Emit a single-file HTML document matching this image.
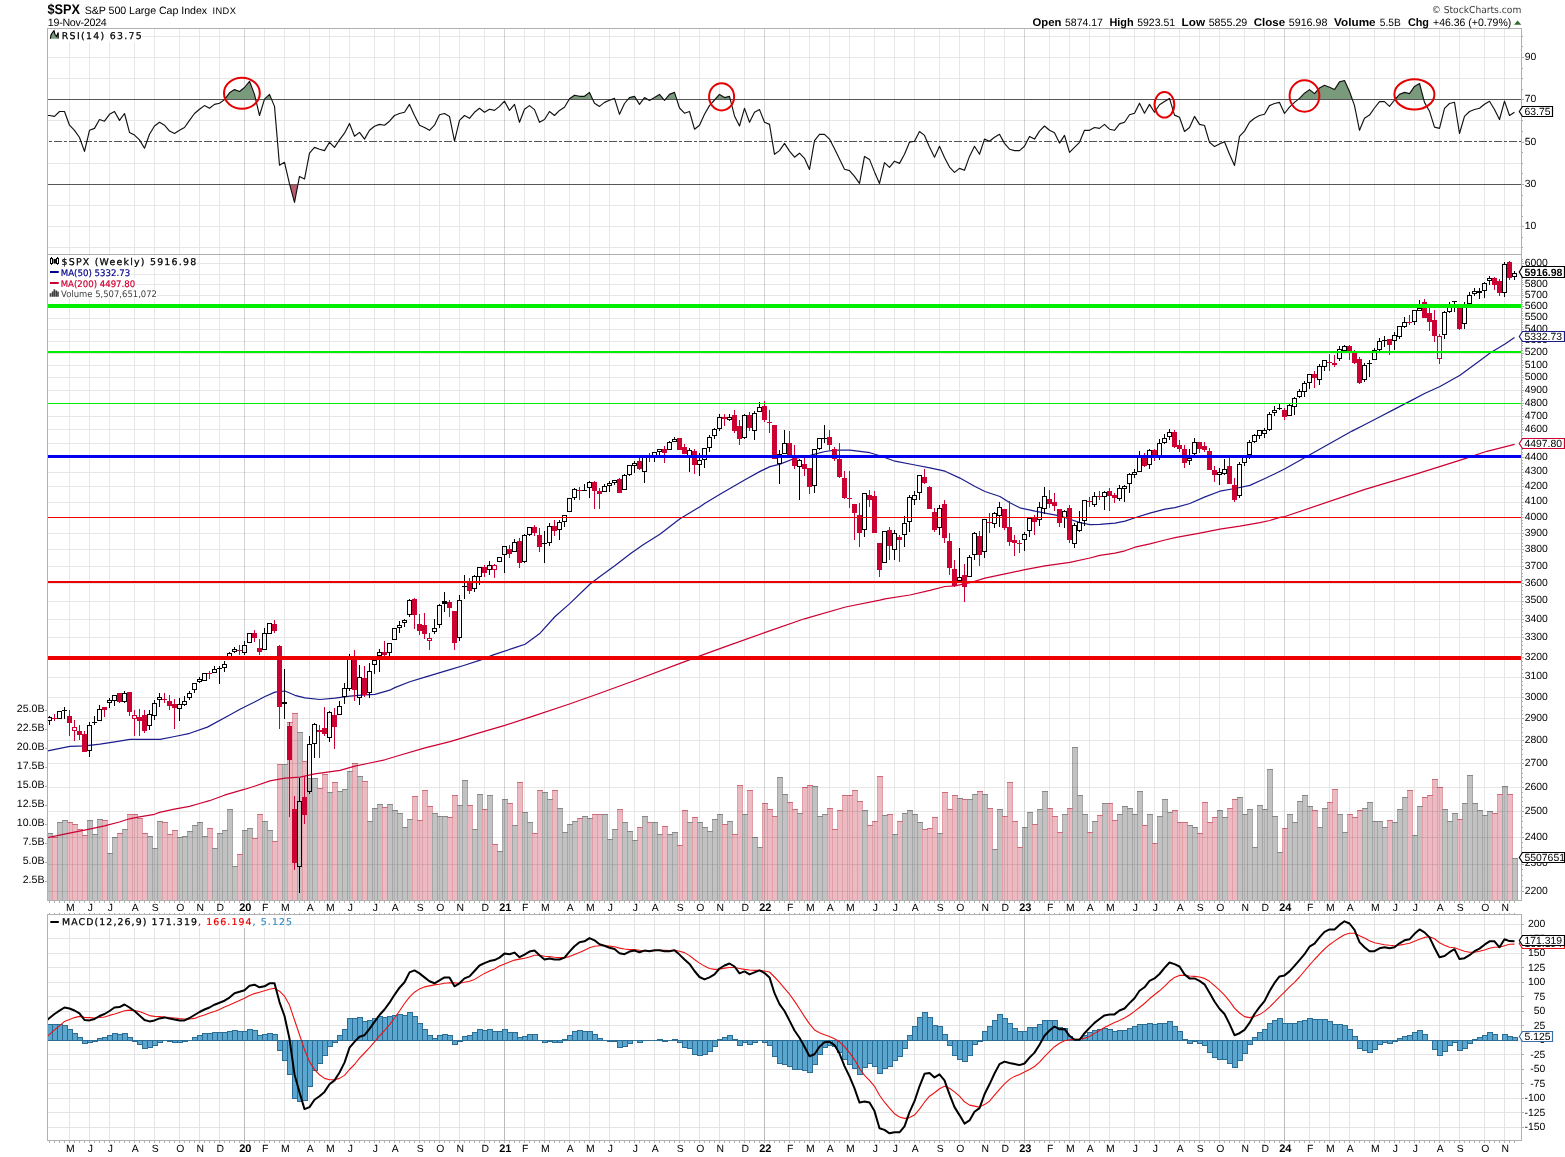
<!DOCTYPE html>
<html><head><meta charset="utf-8"><title>$SPX S&amp;P 500 Large Cap Index</title>
<style>html,body{margin:0;padding:0;background:#fff}svg{display:block}text{white-space:pre}</style></head>
<body><svg width="1565" height="1157" viewBox="0 0 1565 1157" shape-rendering="crispEdges" text-rendering="geometricPrecision">
<g shape-rendering="crispEdges">
<rect x="0" y="0" width="1565" height="1157" fill="#fff"/>
<path d="M47.5 1127.5H1521.5 M47.5 1112.5H1521.5 M47.5 1098.5H1521.5 M47.5 1083.5H1521.5 M47.5 1069.5H1521.5 M47.5 1054.5H1521.5 M47.5 1040.5H1521.5 M47.5 1025.5H1521.5 M47.5 1011.5H1521.5 M47.5 996.5H1521.5 M47.5 982.5H1521.5 M47.5 967.5H1521.5 M47.5 953.5H1521.5 M47.5 938.5H1521.5 M47.5 924.5H1521.5 M69.5 914.5V1140.5 M89.5 914.5V1140.5 M109.5 914.5V1140.5 M134.5 914.5V1140.5 M154.5 914.5V1140.5 M179.5 914.5V1140.5 M199.5 914.5V1140.5 M219.5 914.5V1140.5 M244.5 914.5V1140.5 M264.5 914.5V1140.5 M284.5 914.5V1140.5 M309.5 914.5V1140.5 M329.5 914.5V1140.5 M349.5 914.5V1140.5 M374.5 914.5V1140.5 M394.5 914.5V1140.5 M419.5 914.5V1140.5 M439.5 914.5V1140.5 M459.5 914.5V1140.5 M484.5 914.5V1140.5 M504.5 914.5V1140.5 M524.5 914.5V1140.5 M544.5 914.5V1140.5 M569.5 914.5V1140.5 M589.5 914.5V1140.5 M609.5 914.5V1140.5 M634.5 914.5V1140.5 M654.5 914.5V1140.5 M679.5 914.5V1140.5 M699.5 914.5V1140.5 M719.5 914.5V1140.5 M744.5 914.5V1140.5 M764.5 914.5V1140.5 M789.5 914.5V1140.5 M809.5 914.5V1140.5 M829.5 914.5V1140.5 M849.5 914.5V1140.5 M874.5 914.5V1140.5 M894.5 914.5V1140.5 M914.5 914.5V1140.5 M939.5 914.5V1140.5 M959.5 914.5V1140.5 M984.5 914.5V1140.5 M1004.5 914.5V1140.5 M1024.5 914.5V1140.5 M1049.5 914.5V1140.5 M1069.5 914.5V1140.5 M1089.5 914.5V1140.5 M1109.5 914.5V1140.5 M1134.5 914.5V1140.5 M1154.5 914.5V1140.5 M1179.5 914.5V1140.5 M1199.5 914.5V1140.5 M1219.5 914.5V1140.5 M1244.5 914.5V1140.5 M1264.5 914.5V1140.5 M1284.5 914.5V1140.5 M1309.5 914.5V1140.5 M1329.5 914.5V1140.5 M1349.5 914.5V1140.5 M1374.5 914.5V1140.5 M1394.5 914.5V1140.5 M1414.5 914.5V1140.5 M1439.5 914.5V1140.5 M1459.5 914.5V1140.5 M1484.5 914.5V1140.5 M1504.5 914.5V1140.5" stroke="#000" stroke-opacity="0.105" stroke-width="1" fill="none"/>
<path d="M244.5 914.5V1140.5 M504.5 914.5V1140.5 M764.5 914.5V1140.5 M1024.5 914.5V1140.5 M1284.5 914.5V1140.5" stroke="#000" stroke-opacity="0.18" stroke-width="1" fill="none"/>
<rect x="47.5" y="833.5" width="5" height="67" fill="#c2c2c2" stroke="#a6a6a6" stroke-width="1"/>
<rect x="52.5" y="837.5" width="5" height="63" fill="#ecbac3" stroke="#e0a0a6" stroke-width="1"/>
<rect x="57.5" y="822.5" width="5" height="78" fill="#c2c2c2" stroke="#a6a6a6" stroke-width="1"/>
<rect x="62.5" y="820.5" width="5" height="80" fill="#c2c2c2" stroke="#a6a6a6" stroke-width="1"/>
<rect x="67.5" y="822.5" width="5" height="78" fill="#ecbac3" stroke="#e0a0a6" stroke-width="1"/>
<rect x="72.5" y="824.5" width="5" height="76" fill="#ecbac3" stroke="#e0a0a6" stroke-width="1"/>
<rect x="77.5" y="829.5" width="5" height="71" fill="#ecbac3" stroke="#e0a0a6" stroke-width="1"/>
<rect x="82.5" y="835.5" width="5" height="65" fill="#ecbac3" stroke="#e0a0a6" stroke-width="1"/>
<rect x="87.5" y="820.5" width="5" height="80" fill="#c2c2c2" stroke="#a6a6a6" stroke-width="1"/>
<rect x="92.5" y="834.5" width="5" height="66" fill="#c2c2c2" stroke="#a6a6a6" stroke-width="1"/>
<rect x="97.5" y="819.5" width="5" height="81" fill="#c2c2c2" stroke="#a6a6a6" stroke-width="1"/>
<rect x="102.5" y="820.5" width="5" height="80" fill="#ecbac3" stroke="#e0a0a6" stroke-width="1"/>
<rect x="107.5" y="853.5" width="5" height="47" fill="#c2c2c2" stroke="#a6a6a6" stroke-width="1"/>
<rect x="112.5" y="837.5" width="5" height="63" fill="#c2c2c2" stroke="#a6a6a6" stroke-width="1"/>
<rect x="117.5" y="833.5" width="5" height="67" fill="#ecbac3" stroke="#e0a0a6" stroke-width="1"/>
<rect x="122.5" y="829.5" width="5" height="71" fill="#c2c2c2" stroke="#a6a6a6" stroke-width="1"/>
<rect x="127.5" y="814.5" width="5" height="86" fill="#ecbac3" stroke="#e0a0a6" stroke-width="1"/>
<rect x="132.5" y="814.5" width="5" height="86" fill="#ecbac3" stroke="#e0a0a6" stroke-width="1"/>
<rect x="137.5" y="818.5" width="5" height="82" fill="#ecbac3" stroke="#e0a0a6" stroke-width="1"/>
<rect x="142.5" y="833.5" width="5" height="67" fill="#ecbac3" stroke="#e0a0a6" stroke-width="1"/>
<rect x="147.5" y="836.5" width="5" height="64" fill="#c2c2c2" stroke="#a6a6a6" stroke-width="1"/>
<rect x="152.5" y="848.5" width="5" height="52" fill="#c2c2c2" stroke="#a6a6a6" stroke-width="1"/>
<rect x="157.5" y="821.5" width="5" height="79" fill="#c2c2c2" stroke="#a6a6a6" stroke-width="1"/>
<rect x="162.5" y="822.5" width="5" height="78" fill="#ecbac3" stroke="#e0a0a6" stroke-width="1"/>
<rect x="167.5" y="834.5" width="5" height="66" fill="#ecbac3" stroke="#e0a0a6" stroke-width="1"/>
<rect x="172.5" y="830.5" width="5" height="70" fill="#ecbac3" stroke="#e0a0a6" stroke-width="1"/>
<rect x="177.5" y="837.5" width="5" height="63" fill="#c2c2c2" stroke="#a6a6a6" stroke-width="1"/>
<rect x="182.5" y="836.5" width="5" height="64" fill="#c2c2c2" stroke="#a6a6a6" stroke-width="1"/>
<rect x="187.5" y="831.5" width="5" height="69" fill="#c2c2c2" stroke="#a6a6a6" stroke-width="1"/>
<rect x="192.5" y="825.5" width="5" height="75" fill="#c2c2c2" stroke="#a6a6a6" stroke-width="1"/>
<rect x="197.5" y="822.5" width="5" height="78" fill="#c2c2c2" stroke="#a6a6a6" stroke-width="1"/>
<rect x="202.5" y="836.5" width="5" height="64" fill="#c2c2c2" stroke="#a6a6a6" stroke-width="1"/>
<rect x="207.5" y="828.5" width="5" height="72" fill="#ecbac3" stroke="#e0a0a6" stroke-width="1"/>
<rect x="212.5" y="848.5" width="5" height="52" fill="#c2c2c2" stroke="#a6a6a6" stroke-width="1"/>
<rect x="217.5" y="833.5" width="5" height="67" fill="#c2c2c2" stroke="#a6a6a6" stroke-width="1"/>
<rect x="222.5" y="830.5" width="5" height="70" fill="#c2c2c2" stroke="#a6a6a6" stroke-width="1"/>
<rect x="227.5" y="809.5" width="5" height="91" fill="#c2c2c2" stroke="#a6a6a6" stroke-width="1"/>
<rect x="232.5" y="866.5" width="5" height="34" fill="#c2c2c2" stroke="#a6a6a6" stroke-width="1"/>
<rect x="237.5" y="854.5" width="5" height="46" fill="#ecbac3" stroke="#e0a0a6" stroke-width="1"/>
<rect x="242.5" y="830.5" width="5" height="70" fill="#c2c2c2" stroke="#a6a6a6" stroke-width="1"/>
<rect x="247.5" y="828.5" width="5" height="72" fill="#c2c2c2" stroke="#a6a6a6" stroke-width="1"/>
<rect x="252.5" y="838.5" width="5" height="62" fill="#ecbac3" stroke="#e0a0a6" stroke-width="1"/>
<rect x="257.5" y="814.5" width="5" height="86" fill="#ecbac3" stroke="#e0a0a6" stroke-width="1"/>
<rect x="262.5" y="821.5" width="5" height="79" fill="#c2c2c2" stroke="#a6a6a6" stroke-width="1"/>
<rect x="267.5" y="830.5" width="5" height="70" fill="#c2c2c2" stroke="#a6a6a6" stroke-width="1"/>
<rect x="272.5" y="841.5" width="5" height="59" fill="#ecbac3" stroke="#e0a0a6" stroke-width="1"/>
<rect x="277.5" y="764.5" width="5" height="136" fill="#ecbac3" stroke="#e0a0a6" stroke-width="1"/>
<rect x="282.5" y="764.5" width="5" height="136" fill="#c2c2c2" stroke="#a6a6a6" stroke-width="1"/>
<rect x="287.5" y="722.5" width="5" height="178" fill="#ecbac3" stroke="#e0a0a6" stroke-width="1"/>
<rect x="292.5" y="713.5" width="5" height="187" fill="#ecbac3" stroke="#e0a0a6" stroke-width="1"/>
<rect x="297.5" y="732.5" width="5" height="168" fill="#c2c2c2" stroke="#a6a6a6" stroke-width="1"/>
<rect x="302.5" y="761.5" width="5" height="139" fill="#ecbac3" stroke="#e0a0a6" stroke-width="1"/>
<rect x="307.5" y="778.5" width="5" height="122" fill="#c2c2c2" stroke="#a6a6a6" stroke-width="1"/>
<rect x="312.5" y="778.5" width="5" height="122" fill="#c2c2c2" stroke="#a6a6a6" stroke-width="1"/>
<rect x="317.5" y="788.5" width="5" height="112" fill="#ecbac3" stroke="#e0a0a6" stroke-width="1"/>
<rect x="322.5" y="774.5" width="5" height="126" fill="#ecbac3" stroke="#e0a0a6" stroke-width="1"/>
<rect x="327.5" y="792.5" width="5" height="108" fill="#c2c2c2" stroke="#a6a6a6" stroke-width="1"/>
<rect x="332.5" y="782.5" width="5" height="118" fill="#ecbac3" stroke="#e0a0a6" stroke-width="1"/>
<rect x="337.5" y="791.5" width="5" height="109" fill="#c2c2c2" stroke="#a6a6a6" stroke-width="1"/>
<rect x="342.5" y="789.5" width="5" height="111" fill="#c2c2c2" stroke="#a6a6a6" stroke-width="1"/>
<rect x="347.5" y="771.5" width="5" height="129" fill="#c2c2c2" stroke="#a6a6a6" stroke-width="1"/>
<rect x="352.5" y="763.5" width="5" height="137" fill="#ecbac3" stroke="#e0a0a6" stroke-width="1"/>
<rect x="357.5" y="776.5" width="5" height="124" fill="#c2c2c2" stroke="#a6a6a6" stroke-width="1"/>
<rect x="362.5" y="781.5" width="5" height="119" fill="#ecbac3" stroke="#e0a0a6" stroke-width="1"/>
<rect x="367.5" y="821.5" width="5" height="79" fill="#c2c2c2" stroke="#a6a6a6" stroke-width="1"/>
<rect x="372.5" y="808.5" width="5" height="92" fill="#c2c2c2" stroke="#a6a6a6" stroke-width="1"/>
<rect x="377.5" y="804.5" width="5" height="96" fill="#c2c2c2" stroke="#a6a6a6" stroke-width="1"/>
<rect x="382.5" y="807.5" width="5" height="93" fill="#ecbac3" stroke="#e0a0a6" stroke-width="1"/>
<rect x="387.5" y="804.5" width="5" height="96" fill="#c2c2c2" stroke="#a6a6a6" stroke-width="1"/>
<rect x="392.5" y="810.5" width="5" height="90" fill="#c2c2c2" stroke="#a6a6a6" stroke-width="1"/>
<rect x="397.5" y="813.5" width="5" height="87" fill="#c2c2c2" stroke="#a6a6a6" stroke-width="1"/>
<rect x="402.5" y="827.5" width="5" height="73" fill="#c2c2c2" stroke="#a6a6a6" stroke-width="1"/>
<rect x="407.5" y="819.5" width="5" height="81" fill="#c2c2c2" stroke="#a6a6a6" stroke-width="1"/>
<rect x="412.5" y="796.5" width="5" height="104" fill="#ecbac3" stroke="#e0a0a6" stroke-width="1"/>
<rect x="417.5" y="820.5" width="5" height="80" fill="#ecbac3" stroke="#e0a0a6" stroke-width="1"/>
<rect x="422.5" y="790.5" width="5" height="110" fill="#ecbac3" stroke="#e0a0a6" stroke-width="1"/>
<rect x="427.5" y="806.5" width="5" height="94" fill="#ecbac3" stroke="#e0a0a6" stroke-width="1"/>
<rect x="432.5" y="813.5" width="5" height="87" fill="#c2c2c2" stroke="#a6a6a6" stroke-width="1"/>
<rect x="437.5" y="816.5" width="5" height="84" fill="#c2c2c2" stroke="#a6a6a6" stroke-width="1"/>
<rect x="442.5" y="816.5" width="5" height="84" fill="#c2c2c2" stroke="#a6a6a6" stroke-width="1"/>
<rect x="447.5" y="817.5" width="5" height="83" fill="#ecbac3" stroke="#e0a0a6" stroke-width="1"/>
<rect x="452.5" y="795.5" width="5" height="105" fill="#ecbac3" stroke="#e0a0a6" stroke-width="1"/>
<rect x="457.5" y="805.5" width="5" height="95" fill="#c2c2c2" stroke="#a6a6a6" stroke-width="1"/>
<rect x="462.5" y="780.5" width="5" height="120" fill="#c2c2c2" stroke="#a6a6a6" stroke-width="1"/>
<rect x="467.5" y="805.5" width="5" height="95" fill="#ecbac3" stroke="#e0a0a6" stroke-width="1"/>
<rect x="472.5" y="829.5" width="5" height="71" fill="#c2c2c2" stroke="#a6a6a6" stroke-width="1"/>
<rect x="477.5" y="794.5" width="5" height="106" fill="#c2c2c2" stroke="#a6a6a6" stroke-width="1"/>
<rect x="482.5" y="809.5" width="5" height="91" fill="#ecbac3" stroke="#e0a0a6" stroke-width="1"/>
<rect x="487.5" y="795.5" width="5" height="105" fill="#c2c2c2" stroke="#a6a6a6" stroke-width="1"/>
<rect x="492.5" y="844.5" width="5" height="56" fill="#ecbac3" stroke="#e0a0a6" stroke-width="1"/>
<rect x="497.5" y="851.5" width="5" height="49" fill="#c2c2c2" stroke="#a6a6a6" stroke-width="1"/>
<rect x="502.5" y="799.5" width="5" height="101" fill="#c2c2c2" stroke="#a6a6a6" stroke-width="1"/>
<rect x="507.5" y="803.5" width="5" height="97" fill="#ecbac3" stroke="#e0a0a6" stroke-width="1"/>
<rect x="512.5" y="825.5" width="5" height="75" fill="#c2c2c2" stroke="#a6a6a6" stroke-width="1"/>
<rect x="517.5" y="782.5" width="5" height="118" fill="#ecbac3" stroke="#e0a0a6" stroke-width="1"/>
<rect x="522.5" y="812.5" width="5" height="88" fill="#c2c2c2" stroke="#a6a6a6" stroke-width="1"/>
<rect x="527.5" y="822.5" width="5" height="78" fill="#c2c2c2" stroke="#a6a6a6" stroke-width="1"/>
<rect x="532.5" y="833.5" width="5" height="67" fill="#ecbac3" stroke="#e0a0a6" stroke-width="1"/>
<rect x="537.5" y="790.5" width="5" height="110" fill="#ecbac3" stroke="#e0a0a6" stroke-width="1"/>
<rect x="542.5" y="792.5" width="5" height="108" fill="#c2c2c2" stroke="#a6a6a6" stroke-width="1"/>
<rect x="547.5" y="799.5" width="5" height="101" fill="#c2c2c2" stroke="#a6a6a6" stroke-width="1"/>
<rect x="552.5" y="790.5" width="5" height="110" fill="#ecbac3" stroke="#e0a0a6" stroke-width="1"/>
<rect x="557.5" y="808.5" width="5" height="92" fill="#c2c2c2" stroke="#a6a6a6" stroke-width="1"/>
<rect x="562.5" y="832.5" width="5" height="68" fill="#c2c2c2" stroke="#a6a6a6" stroke-width="1"/>
<rect x="567.5" y="824.5" width="5" height="76" fill="#c2c2c2" stroke="#a6a6a6" stroke-width="1"/>
<rect x="572.5" y="821.5" width="5" height="79" fill="#c2c2c2" stroke="#a6a6a6" stroke-width="1"/>
<rect x="577.5" y="818.5" width="5" height="82" fill="#ecbac3" stroke="#e0a0a6" stroke-width="1"/>
<rect x="582.5" y="816.5" width="5" height="84" fill="#c2c2c2" stroke="#a6a6a6" stroke-width="1"/>
<rect x="587.5" y="818.5" width="5" height="82" fill="#c2c2c2" stroke="#a6a6a6" stroke-width="1"/>
<rect x="592.5" y="814.5" width="5" height="86" fill="#ecbac3" stroke="#e0a0a6" stroke-width="1"/>
<rect x="597.5" y="814.5" width="5" height="86" fill="#ecbac3" stroke="#e0a0a6" stroke-width="1"/>
<rect x="602.5" y="814.5" width="5" height="86" fill="#c2c2c2" stroke="#a6a6a6" stroke-width="1"/>
<rect x="607.5" y="839.5" width="5" height="61" fill="#c2c2c2" stroke="#a6a6a6" stroke-width="1"/>
<rect x="612.5" y="829.5" width="5" height="71" fill="#c2c2c2" stroke="#a6a6a6" stroke-width="1"/>
<rect x="617.5" y="809.5" width="5" height="91" fill="#ecbac3" stroke="#e0a0a6" stroke-width="1"/>
<rect x="622.5" y="822.5" width="5" height="78" fill="#c2c2c2" stroke="#a6a6a6" stroke-width="1"/>
<rect x="627.5" y="831.5" width="5" height="69" fill="#c2c2c2" stroke="#a6a6a6" stroke-width="1"/>
<rect x="632.5" y="840.5" width="5" height="60" fill="#c2c2c2" stroke="#a6a6a6" stroke-width="1"/>
<rect x="637.5" y="827.5" width="5" height="73" fill="#ecbac3" stroke="#e0a0a6" stroke-width="1"/>
<rect x="642.5" y="816.5" width="5" height="84" fill="#c2c2c2" stroke="#a6a6a6" stroke-width="1"/>
<rect x="647.5" y="822.5" width="5" height="78" fill="#ecbac3" stroke="#e0a0a6" stroke-width="1"/>
<rect x="652.5" y="822.5" width="5" height="78" fill="#c2c2c2" stroke="#a6a6a6" stroke-width="1"/>
<rect x="657.5" y="834.5" width="5" height="66" fill="#c2c2c2" stroke="#a6a6a6" stroke-width="1"/>
<rect x="662.5" y="826.5" width="5" height="74" fill="#ecbac3" stroke="#e0a0a6" stroke-width="1"/>
<rect x="667.5" y="834.5" width="5" height="66" fill="#c2c2c2" stroke="#a6a6a6" stroke-width="1"/>
<rect x="672.5" y="832.5" width="5" height="68" fill="#c2c2c2" stroke="#a6a6a6" stroke-width="1"/>
<rect x="677.5" y="845.5" width="5" height="55" fill="#ecbac3" stroke="#e0a0a6" stroke-width="1"/>
<rect x="682.5" y="810.5" width="5" height="90" fill="#ecbac3" stroke="#e0a0a6" stroke-width="1"/>
<rect x="687.5" y="822.5" width="5" height="78" fill="#c2c2c2" stroke="#a6a6a6" stroke-width="1"/>
<rect x="692.5" y="817.5" width="5" height="83" fill="#ecbac3" stroke="#e0a0a6" stroke-width="1"/>
<rect x="697.5" y="822.5" width="5" height="78" fill="#c2c2c2" stroke="#a6a6a6" stroke-width="1"/>
<rect x="702.5" y="827.5" width="5" height="73" fill="#c2c2c2" stroke="#a6a6a6" stroke-width="1"/>
<rect x="707.5" y="831.5" width="5" height="69" fill="#c2c2c2" stroke="#a6a6a6" stroke-width="1"/>
<rect x="712.5" y="819.5" width="5" height="81" fill="#c2c2c2" stroke="#a6a6a6" stroke-width="1"/>
<rect x="717.5" y="814.5" width="5" height="86" fill="#c2c2c2" stroke="#a6a6a6" stroke-width="1"/>
<rect x="722.5" y="824.5" width="5" height="76" fill="#ecbac3" stroke="#e0a0a6" stroke-width="1"/>
<rect x="727.5" y="821.5" width="5" height="79" fill="#c2c2c2" stroke="#a6a6a6" stroke-width="1"/>
<rect x="732.5" y="834.5" width="5" height="66" fill="#ecbac3" stroke="#e0a0a6" stroke-width="1"/>
<rect x="737.5" y="785.5" width="5" height="115" fill="#ecbac3" stroke="#e0a0a6" stroke-width="1"/>
<rect x="742.5" y="814.5" width="5" height="86" fill="#c2c2c2" stroke="#a6a6a6" stroke-width="1"/>
<rect x="747.5" y="790.5" width="5" height="110" fill="#ecbac3" stroke="#e0a0a6" stroke-width="1"/>
<rect x="752.5" y="837.5" width="5" height="63" fill="#c2c2c2" stroke="#a6a6a6" stroke-width="1"/>
<rect x="757.5" y="847.5" width="5" height="53" fill="#c2c2c2" stroke="#a6a6a6" stroke-width="1"/>
<rect x="762.5" y="803.5" width="5" height="97" fill="#ecbac3" stroke="#e0a0a6" stroke-width="1"/>
<rect x="767.5" y="809.5" width="5" height="91" fill="#ecbac3" stroke="#e0a0a6" stroke-width="1"/>
<rect x="772.5" y="816.5" width="5" height="84" fill="#ecbac3" stroke="#e0a0a6" stroke-width="1"/>
<rect x="777.5" y="777.5" width="5" height="123" fill="#c2c2c2" stroke="#a6a6a6" stroke-width="1"/>
<rect x="782.5" y="794.5" width="5" height="106" fill="#c2c2c2" stroke="#a6a6a6" stroke-width="1"/>
<rect x="787.5" y="802.5" width="5" height="98" fill="#ecbac3" stroke="#e0a0a6" stroke-width="1"/>
<rect x="792.5" y="809.5" width="5" height="91" fill="#ecbac3" stroke="#e0a0a6" stroke-width="1"/>
<rect x="797.5" y="813.5" width="5" height="87" fill="#c2c2c2" stroke="#a6a6a6" stroke-width="1"/>
<rect x="802.5" y="787.5" width="5" height="113" fill="#ecbac3" stroke="#e0a0a6" stroke-width="1"/>
<rect x="807.5" y="785.5" width="5" height="115" fill="#ecbac3" stroke="#e0a0a6" stroke-width="1"/>
<rect x="812.5" y="786.5" width="5" height="114" fill="#c2c2c2" stroke="#a6a6a6" stroke-width="1"/>
<rect x="817.5" y="816.5" width="5" height="84" fill="#c2c2c2" stroke="#a6a6a6" stroke-width="1"/>
<rect x="822.5" y="814.5" width="5" height="86" fill="#c2c2c2" stroke="#a6a6a6" stroke-width="1"/>
<rect x="827.5" y="808.5" width="5" height="92" fill="#ecbac3" stroke="#e0a0a6" stroke-width="1"/>
<rect x="832.5" y="829.5" width="5" height="71" fill="#ecbac3" stroke="#e0a0a6" stroke-width="1"/>
<rect x="837.5" y="810.5" width="5" height="90" fill="#ecbac3" stroke="#e0a0a6" stroke-width="1"/>
<rect x="842.5" y="795.5" width="5" height="105" fill="#ecbac3" stroke="#e0a0a6" stroke-width="1"/>
<rect x="847.5" y="795.5" width="5" height="105" fill="#ecbac3" stroke="#e0a0a6" stroke-width="1"/>
<rect x="852.5" y="790.5" width="5" height="110" fill="#ecbac3" stroke="#e0a0a6" stroke-width="1"/>
<rect x="857.5" y="801.5" width="5" height="99" fill="#ecbac3" stroke="#e0a0a6" stroke-width="1"/>
<rect x="862.5" y="810.5" width="5" height="90" fill="#c2c2c2" stroke="#a6a6a6" stroke-width="1"/>
<rect x="867.5" y="825.5" width="5" height="75" fill="#ecbac3" stroke="#e0a0a6" stroke-width="1"/>
<rect x="872.5" y="821.5" width="5" height="79" fill="#ecbac3" stroke="#e0a0a6" stroke-width="1"/>
<rect x="877.5" y="776.5" width="5" height="124" fill="#ecbac3" stroke="#e0a0a6" stroke-width="1"/>
<rect x="882.5" y="815.5" width="5" height="85" fill="#c2c2c2" stroke="#a6a6a6" stroke-width="1"/>
<rect x="887.5" y="814.5" width="5" height="86" fill="#ecbac3" stroke="#e0a0a6" stroke-width="1"/>
<rect x="892.5" y="834.5" width="5" height="66" fill="#c2c2c2" stroke="#a6a6a6" stroke-width="1"/>
<rect x="897.5" y="821.5" width="5" height="79" fill="#ecbac3" stroke="#e0a0a6" stroke-width="1"/>
<rect x="902.5" y="813.5" width="5" height="87" fill="#c2c2c2" stroke="#a6a6a6" stroke-width="1"/>
<rect x="907.5" y="810.5" width="5" height="90" fill="#c2c2c2" stroke="#a6a6a6" stroke-width="1"/>
<rect x="912.5" y="814.5" width="5" height="86" fill="#c2c2c2" stroke="#a6a6a6" stroke-width="1"/>
<rect x="917.5" y="822.5" width="5" height="78" fill="#c2c2c2" stroke="#a6a6a6" stroke-width="1"/>
<rect x="922.5" y="829.5" width="5" height="71" fill="#ecbac3" stroke="#e0a0a6" stroke-width="1"/>
<rect x="927.5" y="828.5" width="5" height="72" fill="#ecbac3" stroke="#e0a0a6" stroke-width="1"/>
<rect x="932.5" y="817.5" width="5" height="83" fill="#ecbac3" stroke="#e0a0a6" stroke-width="1"/>
<rect x="937.5" y="833.5" width="5" height="67" fill="#c2c2c2" stroke="#a6a6a6" stroke-width="1"/>
<rect x="942.5" y="792.5" width="5" height="108" fill="#ecbac3" stroke="#e0a0a6" stroke-width="1"/>
<rect x="947.5" y="809.5" width="5" height="91" fill="#ecbac3" stroke="#e0a0a6" stroke-width="1"/>
<rect x="952.5" y="795.5" width="5" height="105" fill="#ecbac3" stroke="#e0a0a6" stroke-width="1"/>
<rect x="957.5" y="798.5" width="5" height="102" fill="#c2c2c2" stroke="#a6a6a6" stroke-width="1"/>
<rect x="962.5" y="799.5" width="5" height="101" fill="#ecbac3" stroke="#e0a0a6" stroke-width="1"/>
<rect x="967.5" y="799.5" width="5" height="101" fill="#c2c2c2" stroke="#a6a6a6" stroke-width="1"/>
<rect x="972.5" y="794.5" width="5" height="106" fill="#c2c2c2" stroke="#a6a6a6" stroke-width="1"/>
<rect x="977.5" y="791.5" width="5" height="109" fill="#ecbac3" stroke="#e0a0a6" stroke-width="1"/>
<rect x="982.5" y="794.5" width="5" height="106" fill="#c2c2c2" stroke="#a6a6a6" stroke-width="1"/>
<rect x="987.5" y="808.5" width="5" height="92" fill="#ecbac3" stroke="#e0a0a6" stroke-width="1"/>
<rect x="992.5" y="849.5" width="5" height="51" fill="#c2c2c2" stroke="#a6a6a6" stroke-width="1"/>
<rect x="997.5" y="809.5" width="5" height="91" fill="#c2c2c2" stroke="#a6a6a6" stroke-width="1"/>
<rect x="1002.5" y="816.5" width="5" height="84" fill="#ecbac3" stroke="#e0a0a6" stroke-width="1"/>
<rect x="1007.5" y="782.5" width="5" height="118" fill="#ecbac3" stroke="#e0a0a6" stroke-width="1"/>
<rect x="1012.5" y="821.5" width="5" height="79" fill="#ecbac3" stroke="#e0a0a6" stroke-width="1"/>
<rect x="1017.5" y="847.5" width="5" height="53" fill="#ecbac3" stroke="#e0a0a6" stroke-width="1"/>
<rect x="1022.5" y="827.5" width="5" height="73" fill="#c2c2c2" stroke="#a6a6a6" stroke-width="1"/>
<rect x="1027.5" y="812.5" width="5" height="88" fill="#c2c2c2" stroke="#a6a6a6" stroke-width="1"/>
<rect x="1032.5" y="824.5" width="5" height="76" fill="#ecbac3" stroke="#e0a0a6" stroke-width="1"/>
<rect x="1037.5" y="809.5" width="5" height="91" fill="#c2c2c2" stroke="#a6a6a6" stroke-width="1"/>
<rect x="1042.5" y="791.5" width="5" height="109" fill="#c2c2c2" stroke="#a6a6a6" stroke-width="1"/>
<rect x="1047.5" y="808.5" width="5" height="92" fill="#ecbac3" stroke="#e0a0a6" stroke-width="1"/>
<rect x="1052.5" y="816.5" width="5" height="84" fill="#ecbac3" stroke="#e0a0a6" stroke-width="1"/>
<rect x="1057.5" y="832.5" width="5" height="68" fill="#ecbac3" stroke="#e0a0a6" stroke-width="1"/>
<rect x="1062.5" y="814.5" width="5" height="86" fill="#c2c2c2" stroke="#a6a6a6" stroke-width="1"/>
<rect x="1067.5" y="808.5" width="5" height="92" fill="#ecbac3" stroke="#e0a0a6" stroke-width="1"/>
<rect x="1072.5" y="747.5" width="5" height="153" fill="#c2c2c2" stroke="#a6a6a6" stroke-width="1"/>
<rect x="1077.5" y="795.5" width="5" height="105" fill="#c2c2c2" stroke="#a6a6a6" stroke-width="1"/>
<rect x="1082.5" y="814.5" width="5" height="86" fill="#c2c2c2" stroke="#a6a6a6" stroke-width="1"/>
<rect x="1087.5" y="832.5" width="5" height="68" fill="#ecbac3" stroke="#e0a0a6" stroke-width="1"/>
<rect x="1092.5" y="821.5" width="5" height="79" fill="#c2c2c2" stroke="#a6a6a6" stroke-width="1"/>
<rect x="1097.5" y="815.5" width="5" height="85" fill="#ecbac3" stroke="#e0a0a6" stroke-width="1"/>
<rect x="1102.5" y="803.5" width="5" height="97" fill="#c2c2c2" stroke="#a6a6a6" stroke-width="1"/>
<rect x="1107.5" y="803.5" width="5" height="97" fill="#ecbac3" stroke="#e0a0a6" stroke-width="1"/>
<rect x="1112.5" y="820.5" width="5" height="80" fill="#ecbac3" stroke="#e0a0a6" stroke-width="1"/>
<rect x="1117.5" y="814.5" width="5" height="86" fill="#c2c2c2" stroke="#a6a6a6" stroke-width="1"/>
<rect x="1122.5" y="806.5" width="5" height="94" fill="#c2c2c2" stroke="#a6a6a6" stroke-width="1"/>
<rect x="1127.5" y="808.5" width="5" height="92" fill="#c2c2c2" stroke="#a6a6a6" stroke-width="1"/>
<rect x="1132.5" y="814.5" width="5" height="86" fill="#c2c2c2" stroke="#a6a6a6" stroke-width="1"/>
<rect x="1137.5" y="791.5" width="5" height="109" fill="#c2c2c2" stroke="#a6a6a6" stroke-width="1"/>
<rect x="1142.5" y="825.5" width="5" height="75" fill="#ecbac3" stroke="#e0a0a6" stroke-width="1"/>
<rect x="1147.5" y="814.5" width="5" height="86" fill="#c2c2c2" stroke="#a6a6a6" stroke-width="1"/>
<rect x="1152.5" y="843.5" width="5" height="57" fill="#ecbac3" stroke="#e0a0a6" stroke-width="1"/>
<rect x="1157.5" y="816.5" width="5" height="84" fill="#c2c2c2" stroke="#a6a6a6" stroke-width="1"/>
<rect x="1162.5" y="799.5" width="5" height="101" fill="#c2c2c2" stroke="#a6a6a6" stroke-width="1"/>
<rect x="1167.5" y="812.5" width="5" height="88" fill="#c2c2c2" stroke="#a6a6a6" stroke-width="1"/>
<rect x="1172.5" y="810.5" width="5" height="90" fill="#ecbac3" stroke="#e0a0a6" stroke-width="1"/>
<rect x="1177.5" y="822.5" width="5" height="78" fill="#ecbac3" stroke="#e0a0a6" stroke-width="1"/>
<rect x="1182.5" y="822.5" width="5" height="78" fill="#ecbac3" stroke="#e0a0a6" stroke-width="1"/>
<rect x="1187.5" y="825.5" width="5" height="75" fill="#c2c2c2" stroke="#a6a6a6" stroke-width="1"/>
<rect x="1192.5" y="827.5" width="5" height="73" fill="#c2c2c2" stroke="#a6a6a6" stroke-width="1"/>
<rect x="1197.5" y="833.5" width="5" height="67" fill="#ecbac3" stroke="#e0a0a6" stroke-width="1"/>
<rect x="1202.5" y="802.5" width="5" height="98" fill="#ecbac3" stroke="#e0a0a6" stroke-width="1"/>
<rect x="1207.5" y="822.5" width="5" height="78" fill="#ecbac3" stroke="#e0a0a6" stroke-width="1"/>
<rect x="1212.5" y="817.5" width="5" height="83" fill="#ecbac3" stroke="#e0a0a6" stroke-width="1"/>
<rect x="1217.5" y="810.5" width="5" height="90" fill="#c2c2c2" stroke="#a6a6a6" stroke-width="1"/>
<rect x="1222.5" y="817.5" width="5" height="83" fill="#c2c2c2" stroke="#a6a6a6" stroke-width="1"/>
<rect x="1227.5" y="808.5" width="5" height="92" fill="#ecbac3" stroke="#e0a0a6" stroke-width="1"/>
<rect x="1232.5" y="799.5" width="5" height="101" fill="#ecbac3" stroke="#e0a0a6" stroke-width="1"/>
<rect x="1237.5" y="797.5" width="5" height="103" fill="#c2c2c2" stroke="#a6a6a6" stroke-width="1"/>
<rect x="1242.5" y="814.5" width="5" height="86" fill="#c2c2c2" stroke="#a6a6a6" stroke-width="1"/>
<rect x="1247.5" y="809.5" width="5" height="91" fill="#c2c2c2" stroke="#a6a6a6" stroke-width="1"/>
<rect x="1252.5" y="847.5" width="5" height="53" fill="#c2c2c2" stroke="#a6a6a6" stroke-width="1"/>
<rect x="1257.5" y="805.5" width="5" height="95" fill="#c2c2c2" stroke="#a6a6a6" stroke-width="1"/>
<rect x="1262.5" y="809.5" width="5" height="91" fill="#c2c2c2" stroke="#a6a6a6" stroke-width="1"/>
<rect x="1267.5" y="769.5" width="5" height="131" fill="#c2c2c2" stroke="#a6a6a6" stroke-width="1"/>
<rect x="1272.5" y="816.5" width="5" height="84" fill="#c2c2c2" stroke="#a6a6a6" stroke-width="1"/>
<rect x="1277.5" y="852.5" width="5" height="48" fill="#c2c2c2" stroke="#a6a6a6" stroke-width="1"/>
<rect x="1282.5" y="828.5" width="5" height="72" fill="#ecbac3" stroke="#e0a0a6" stroke-width="1"/>
<rect x="1287.5" y="814.5" width="5" height="86" fill="#c2c2c2" stroke="#a6a6a6" stroke-width="1"/>
<rect x="1292.5" y="822.5" width="5" height="78" fill="#c2c2c2" stroke="#a6a6a6" stroke-width="1"/>
<rect x="1297.5" y="801.5" width="5" height="99" fill="#c2c2c2" stroke="#a6a6a6" stroke-width="1"/>
<rect x="1302.5" y="795.5" width="5" height="105" fill="#c2c2c2" stroke="#a6a6a6" stroke-width="1"/>
<rect x="1307.5" y="806.5" width="5" height="94" fill="#c2c2c2" stroke="#a6a6a6" stroke-width="1"/>
<rect x="1312.5" y="810.5" width="5" height="90" fill="#ecbac3" stroke="#e0a0a6" stroke-width="1"/>
<rect x="1317.5" y="827.5" width="5" height="73" fill="#c2c2c2" stroke="#a6a6a6" stroke-width="1"/>
<rect x="1322.5" y="808.5" width="5" height="92" fill="#c2c2c2" stroke="#a6a6a6" stroke-width="1"/>
<rect x="1327.5" y="802.5" width="5" height="98" fill="#ecbac3" stroke="#e0a0a6" stroke-width="1"/>
<rect x="1332.5" y="789.5" width="5" height="111" fill="#ecbac3" stroke="#e0a0a6" stroke-width="1"/>
<rect x="1337.5" y="814.5" width="5" height="86" fill="#c2c2c2" stroke="#a6a6a6" stroke-width="1"/>
<rect x="1342.5" y="832.5" width="5" height="68" fill="#c2c2c2" stroke="#a6a6a6" stroke-width="1"/>
<rect x="1347.5" y="814.5" width="5" height="86" fill="#ecbac3" stroke="#e0a0a6" stroke-width="1"/>
<rect x="1352.5" y="817.5" width="5" height="83" fill="#ecbac3" stroke="#e0a0a6" stroke-width="1"/>
<rect x="1357.5" y="810.5" width="5" height="90" fill="#ecbac3" stroke="#e0a0a6" stroke-width="1"/>
<rect x="1362.5" y="808.5" width="5" height="92" fill="#c2c2c2" stroke="#a6a6a6" stroke-width="1"/>
<rect x="1367.5" y="802.5" width="5" height="98" fill="#c2c2c2" stroke="#a6a6a6" stroke-width="1"/>
<rect x="1372.5" y="821.5" width="5" height="79" fill="#c2c2c2" stroke="#a6a6a6" stroke-width="1"/>
<rect x="1377.5" y="821.5" width="5" height="79" fill="#c2c2c2" stroke="#a6a6a6" stroke-width="1"/>
<rect x="1382.5" y="827.5" width="5" height="73" fill="#c2c2c2" stroke="#a6a6a6" stroke-width="1"/>
<rect x="1387.5" y="820.5" width="5" height="80" fill="#ecbac3" stroke="#e0a0a6" stroke-width="1"/>
<rect x="1392.5" y="822.5" width="5" height="78" fill="#c2c2c2" stroke="#a6a6a6" stroke-width="1"/>
<rect x="1397.5" y="809.5" width="5" height="91" fill="#c2c2c2" stroke="#a6a6a6" stroke-width="1"/>
<rect x="1402.5" y="797.5" width="5" height="103" fill="#c2c2c2" stroke="#a6a6a6" stroke-width="1"/>
<rect x="1407.5" y="790.5" width="5" height="110" fill="#ecbac3" stroke="#e0a0a6" stroke-width="1"/>
<rect x="1412.5" y="835.5" width="5" height="65" fill="#c2c2c2" stroke="#a6a6a6" stroke-width="1"/>
<rect x="1417.5" y="806.5" width="5" height="94" fill="#c2c2c2" stroke="#a6a6a6" stroke-width="1"/>
<rect x="1422.5" y="797.5" width="5" height="103" fill="#ecbac3" stroke="#e0a0a6" stroke-width="1"/>
<rect x="1427.5" y="795.5" width="5" height="105" fill="#ecbac3" stroke="#e0a0a6" stroke-width="1"/>
<rect x="1432.5" y="779.5" width="5" height="121" fill="#ecbac3" stroke="#e0a0a6" stroke-width="1"/>
<rect x="1437.5" y="787.5" width="5" height="113" fill="#ecbac3" stroke="#e0a0a6" stroke-width="1"/>
<rect x="1442.5" y="809.5" width="5" height="91" fill="#c2c2c2" stroke="#a6a6a6" stroke-width="1"/>
<rect x="1447.5" y="821.5" width="5" height="79" fill="#c2c2c2" stroke="#a6a6a6" stroke-width="1"/>
<rect x="1452.5" y="813.5" width="5" height="87" fill="#c2c2c2" stroke="#a6a6a6" stroke-width="1"/>
<rect x="1457.5" y="819.5" width="5" height="81" fill="#ecbac3" stroke="#e0a0a6" stroke-width="1"/>
<rect x="1462.5" y="803.5" width="5" height="97" fill="#c2c2c2" stroke="#a6a6a6" stroke-width="1"/>
<rect x="1467.5" y="775.5" width="5" height="125" fill="#c2c2c2" stroke="#a6a6a6" stroke-width="1"/>
<rect x="1472.5" y="803.5" width="5" height="97" fill="#c2c2c2" stroke="#a6a6a6" stroke-width="1"/>
<rect x="1477.5" y="810.5" width="5" height="90" fill="#c2c2c2" stroke="#a6a6a6" stroke-width="1"/>
<rect x="1482.5" y="815.5" width="5" height="85" fill="#c2c2c2" stroke="#a6a6a6" stroke-width="1"/>
<rect x="1487.5" y="811.5" width="5" height="89" fill="#c2c2c2" stroke="#a6a6a6" stroke-width="1"/>
<rect x="1492.5" y="813.5" width="5" height="87" fill="#ecbac3" stroke="#e0a0a6" stroke-width="1"/>
<rect x="1497.5" y="794.5" width="5" height="106" fill="#ecbac3" stroke="#e0a0a6" stroke-width="1"/>
<rect x="1502.5" y="786.5" width="5" height="114" fill="#c2c2c2" stroke="#a6a6a6" stroke-width="1"/>
<rect x="1507.5" y="794.5" width="5" height="106" fill="#ecbac3" stroke="#e0a0a6" stroke-width="1"/>
<rect x="1512.5" y="858.5" width="5" height="42" fill="#c2c2c2" stroke="#a6a6a6" stroke-width="1"/>
<path d="M47 833.5h6" stroke="#888888" stroke-width="1"/>
<path d="M52 837.5h6" stroke="#d06c7a" stroke-width="1"/>
<path d="M57 822.5h6" stroke="#888888" stroke-width="1"/>
<path d="M62 820.5h6" stroke="#888888" stroke-width="1"/>
<path d="M67 822.5h6" stroke="#d06c7a" stroke-width="1"/>
<path d="M72 824.5h6" stroke="#d06c7a" stroke-width="1"/>
<path d="M77 829.5h6" stroke="#d06c7a" stroke-width="1"/>
<path d="M82 835.5h6" stroke="#d06c7a" stroke-width="1"/>
<path d="M87 820.5h6" stroke="#888888" stroke-width="1"/>
<path d="M92 834.5h6" stroke="#888888" stroke-width="1"/>
<path d="M97 819.5h6" stroke="#888888" stroke-width="1"/>
<path d="M102 820.5h6" stroke="#d06c7a" stroke-width="1"/>
<path d="M107 853.5h6" stroke="#888888" stroke-width="1"/>
<path d="M112 837.5h6" stroke="#888888" stroke-width="1"/>
<path d="M117 833.5h6" stroke="#d06c7a" stroke-width="1"/>
<path d="M122 829.5h6" stroke="#888888" stroke-width="1"/>
<path d="M127 814.5h6" stroke="#d06c7a" stroke-width="1"/>
<path d="M132 814.5h6" stroke="#d06c7a" stroke-width="1"/>
<path d="M137 818.5h6" stroke="#d06c7a" stroke-width="1"/>
<path d="M142 833.5h6" stroke="#d06c7a" stroke-width="1"/>
<path d="M147 836.5h6" stroke="#888888" stroke-width="1"/>
<path d="M152 848.5h6" stroke="#888888" stroke-width="1"/>
<path d="M157 821.5h6" stroke="#888888" stroke-width="1"/>
<path d="M162 822.5h6" stroke="#d06c7a" stroke-width="1"/>
<path d="M167 834.5h6" stroke="#d06c7a" stroke-width="1"/>
<path d="M172 830.5h6" stroke="#d06c7a" stroke-width="1"/>
<path d="M177 837.5h6" stroke="#888888" stroke-width="1"/>
<path d="M182 836.5h6" stroke="#888888" stroke-width="1"/>
<path d="M187 831.5h6" stroke="#888888" stroke-width="1"/>
<path d="M192 825.5h6" stroke="#888888" stroke-width="1"/>
<path d="M197 822.5h6" stroke="#888888" stroke-width="1"/>
<path d="M202 836.5h6" stroke="#888888" stroke-width="1"/>
<path d="M207 828.5h6" stroke="#d06c7a" stroke-width="1"/>
<path d="M212 848.5h6" stroke="#888888" stroke-width="1"/>
<path d="M217 833.5h6" stroke="#888888" stroke-width="1"/>
<path d="M222 830.5h6" stroke="#888888" stroke-width="1"/>
<path d="M227 809.5h6" stroke="#888888" stroke-width="1"/>
<path d="M232 866.5h6" stroke="#888888" stroke-width="1"/>
<path d="M237 854.5h6" stroke="#d06c7a" stroke-width="1"/>
<path d="M242 830.5h6" stroke="#888888" stroke-width="1"/>
<path d="M247 828.5h6" stroke="#888888" stroke-width="1"/>
<path d="M252 838.5h6" stroke="#d06c7a" stroke-width="1"/>
<path d="M257 814.5h6" stroke="#d06c7a" stroke-width="1"/>
<path d="M262 821.5h6" stroke="#888888" stroke-width="1"/>
<path d="M267 830.5h6" stroke="#888888" stroke-width="1"/>
<path d="M272 841.5h6" stroke="#d06c7a" stroke-width="1"/>
<path d="M277 764.5h6" stroke="#d06c7a" stroke-width="1"/>
<path d="M282 764.5h6" stroke="#888888" stroke-width="1"/>
<path d="M287 722.5h6" stroke="#d06c7a" stroke-width="1"/>
<path d="M292 713.5h6" stroke="#d06c7a" stroke-width="1"/>
<path d="M297 732.5h6" stroke="#888888" stroke-width="1"/>
<path d="M302 761.5h6" stroke="#d06c7a" stroke-width="1"/>
<path d="M307 778.5h6" stroke="#888888" stroke-width="1"/>
<path d="M312 778.5h6" stroke="#888888" stroke-width="1"/>
<path d="M317 788.5h6" stroke="#d06c7a" stroke-width="1"/>
<path d="M322 774.5h6" stroke="#d06c7a" stroke-width="1"/>
<path d="M327 792.5h6" stroke="#888888" stroke-width="1"/>
<path d="M332 782.5h6" stroke="#d06c7a" stroke-width="1"/>
<path d="M337 791.5h6" stroke="#888888" stroke-width="1"/>
<path d="M342 789.5h6" stroke="#888888" stroke-width="1"/>
<path d="M347 771.5h6" stroke="#888888" stroke-width="1"/>
<path d="M352 763.5h6" stroke="#d06c7a" stroke-width="1"/>
<path d="M357 776.5h6" stroke="#888888" stroke-width="1"/>
<path d="M362 781.5h6" stroke="#d06c7a" stroke-width="1"/>
<path d="M367 821.5h6" stroke="#888888" stroke-width="1"/>
<path d="M372 808.5h6" stroke="#888888" stroke-width="1"/>
<path d="M377 804.5h6" stroke="#888888" stroke-width="1"/>
<path d="M382 807.5h6" stroke="#d06c7a" stroke-width="1"/>
<path d="M387 804.5h6" stroke="#888888" stroke-width="1"/>
<path d="M392 810.5h6" stroke="#888888" stroke-width="1"/>
<path d="M397 813.5h6" stroke="#888888" stroke-width="1"/>
<path d="M402 827.5h6" stroke="#888888" stroke-width="1"/>
<path d="M407 819.5h6" stroke="#888888" stroke-width="1"/>
<path d="M412 796.5h6" stroke="#d06c7a" stroke-width="1"/>
<path d="M417 820.5h6" stroke="#d06c7a" stroke-width="1"/>
<path d="M422 790.5h6" stroke="#d06c7a" stroke-width="1"/>
<path d="M427 806.5h6" stroke="#d06c7a" stroke-width="1"/>
<path d="M432 813.5h6" stroke="#888888" stroke-width="1"/>
<path d="M437 816.5h6" stroke="#888888" stroke-width="1"/>
<path d="M442 816.5h6" stroke="#888888" stroke-width="1"/>
<path d="M447 817.5h6" stroke="#d06c7a" stroke-width="1"/>
<path d="M452 795.5h6" stroke="#d06c7a" stroke-width="1"/>
<path d="M457 805.5h6" stroke="#888888" stroke-width="1"/>
<path d="M462 780.5h6" stroke="#888888" stroke-width="1"/>
<path d="M467 805.5h6" stroke="#d06c7a" stroke-width="1"/>
<path d="M472 829.5h6" stroke="#888888" stroke-width="1"/>
<path d="M477 794.5h6" stroke="#888888" stroke-width="1"/>
<path d="M482 809.5h6" stroke="#d06c7a" stroke-width="1"/>
<path d="M487 795.5h6" stroke="#888888" stroke-width="1"/>
<path d="M492 844.5h6" stroke="#d06c7a" stroke-width="1"/>
<path d="M497 851.5h6" stroke="#888888" stroke-width="1"/>
<path d="M502 799.5h6" stroke="#888888" stroke-width="1"/>
<path d="M507 803.5h6" stroke="#d06c7a" stroke-width="1"/>
<path d="M512 825.5h6" stroke="#888888" stroke-width="1"/>
<path d="M517 782.5h6" stroke="#d06c7a" stroke-width="1"/>
<path d="M522 812.5h6" stroke="#888888" stroke-width="1"/>
<path d="M527 822.5h6" stroke="#888888" stroke-width="1"/>
<path d="M532 833.5h6" stroke="#d06c7a" stroke-width="1"/>
<path d="M537 790.5h6" stroke="#d06c7a" stroke-width="1"/>
<path d="M542 792.5h6" stroke="#888888" stroke-width="1"/>
<path d="M547 799.5h6" stroke="#888888" stroke-width="1"/>
<path d="M552 790.5h6" stroke="#d06c7a" stroke-width="1"/>
<path d="M557 808.5h6" stroke="#888888" stroke-width="1"/>
<path d="M562 832.5h6" stroke="#888888" stroke-width="1"/>
<path d="M567 824.5h6" stroke="#888888" stroke-width="1"/>
<path d="M572 821.5h6" stroke="#888888" stroke-width="1"/>
<path d="M577 818.5h6" stroke="#d06c7a" stroke-width="1"/>
<path d="M582 816.5h6" stroke="#888888" stroke-width="1"/>
<path d="M587 818.5h6" stroke="#888888" stroke-width="1"/>
<path d="M592 814.5h6" stroke="#d06c7a" stroke-width="1"/>
<path d="M597 814.5h6" stroke="#d06c7a" stroke-width="1"/>
<path d="M602 814.5h6" stroke="#888888" stroke-width="1"/>
<path d="M607 839.5h6" stroke="#888888" stroke-width="1"/>
<path d="M612 829.5h6" stroke="#888888" stroke-width="1"/>
<path d="M617 809.5h6" stroke="#d06c7a" stroke-width="1"/>
<path d="M622 822.5h6" stroke="#888888" stroke-width="1"/>
<path d="M627 831.5h6" stroke="#888888" stroke-width="1"/>
<path d="M632 840.5h6" stroke="#888888" stroke-width="1"/>
<path d="M637 827.5h6" stroke="#d06c7a" stroke-width="1"/>
<path d="M642 816.5h6" stroke="#888888" stroke-width="1"/>
<path d="M647 822.5h6" stroke="#d06c7a" stroke-width="1"/>
<path d="M652 822.5h6" stroke="#888888" stroke-width="1"/>
<path d="M657 834.5h6" stroke="#888888" stroke-width="1"/>
<path d="M662 826.5h6" stroke="#d06c7a" stroke-width="1"/>
<path d="M667 834.5h6" stroke="#888888" stroke-width="1"/>
<path d="M672 832.5h6" stroke="#888888" stroke-width="1"/>
<path d="M677 845.5h6" stroke="#d06c7a" stroke-width="1"/>
<path d="M682 810.5h6" stroke="#d06c7a" stroke-width="1"/>
<path d="M687 822.5h6" stroke="#888888" stroke-width="1"/>
<path d="M692 817.5h6" stroke="#d06c7a" stroke-width="1"/>
<path d="M697 822.5h6" stroke="#888888" stroke-width="1"/>
<path d="M702 827.5h6" stroke="#888888" stroke-width="1"/>
<path d="M707 831.5h6" stroke="#888888" stroke-width="1"/>
<path d="M712 819.5h6" stroke="#888888" stroke-width="1"/>
<path d="M717 814.5h6" stroke="#888888" stroke-width="1"/>
<path d="M722 824.5h6" stroke="#d06c7a" stroke-width="1"/>
<path d="M727 821.5h6" stroke="#888888" stroke-width="1"/>
<path d="M732 834.5h6" stroke="#d06c7a" stroke-width="1"/>
<path d="M737 785.5h6" stroke="#d06c7a" stroke-width="1"/>
<path d="M742 814.5h6" stroke="#888888" stroke-width="1"/>
<path d="M747 790.5h6" stroke="#d06c7a" stroke-width="1"/>
<path d="M752 837.5h6" stroke="#888888" stroke-width="1"/>
<path d="M757 847.5h6" stroke="#888888" stroke-width="1"/>
<path d="M762 803.5h6" stroke="#d06c7a" stroke-width="1"/>
<path d="M767 809.5h6" stroke="#d06c7a" stroke-width="1"/>
<path d="M772 816.5h6" stroke="#d06c7a" stroke-width="1"/>
<path d="M777 777.5h6" stroke="#888888" stroke-width="1"/>
<path d="M782 794.5h6" stroke="#888888" stroke-width="1"/>
<path d="M787 802.5h6" stroke="#d06c7a" stroke-width="1"/>
<path d="M792 809.5h6" stroke="#d06c7a" stroke-width="1"/>
<path d="M797 813.5h6" stroke="#888888" stroke-width="1"/>
<path d="M802 787.5h6" stroke="#d06c7a" stroke-width="1"/>
<path d="M807 785.5h6" stroke="#d06c7a" stroke-width="1"/>
<path d="M812 786.5h6" stroke="#888888" stroke-width="1"/>
<path d="M817 816.5h6" stroke="#888888" stroke-width="1"/>
<path d="M822 814.5h6" stroke="#888888" stroke-width="1"/>
<path d="M827 808.5h6" stroke="#d06c7a" stroke-width="1"/>
<path d="M832 829.5h6" stroke="#d06c7a" stroke-width="1"/>
<path d="M837 810.5h6" stroke="#d06c7a" stroke-width="1"/>
<path d="M842 795.5h6" stroke="#d06c7a" stroke-width="1"/>
<path d="M847 795.5h6" stroke="#d06c7a" stroke-width="1"/>
<path d="M852 790.5h6" stroke="#d06c7a" stroke-width="1"/>
<path d="M857 801.5h6" stroke="#d06c7a" stroke-width="1"/>
<path d="M862 810.5h6" stroke="#888888" stroke-width="1"/>
<path d="M867 825.5h6" stroke="#d06c7a" stroke-width="1"/>
<path d="M872 821.5h6" stroke="#d06c7a" stroke-width="1"/>
<path d="M877 776.5h6" stroke="#d06c7a" stroke-width="1"/>
<path d="M882 815.5h6" stroke="#888888" stroke-width="1"/>
<path d="M887 814.5h6" stroke="#d06c7a" stroke-width="1"/>
<path d="M892 834.5h6" stroke="#888888" stroke-width="1"/>
<path d="M897 821.5h6" stroke="#d06c7a" stroke-width="1"/>
<path d="M902 813.5h6" stroke="#888888" stroke-width="1"/>
<path d="M907 810.5h6" stroke="#888888" stroke-width="1"/>
<path d="M912 814.5h6" stroke="#888888" stroke-width="1"/>
<path d="M917 822.5h6" stroke="#888888" stroke-width="1"/>
<path d="M922 829.5h6" stroke="#d06c7a" stroke-width="1"/>
<path d="M927 828.5h6" stroke="#d06c7a" stroke-width="1"/>
<path d="M932 817.5h6" stroke="#d06c7a" stroke-width="1"/>
<path d="M937 833.5h6" stroke="#888888" stroke-width="1"/>
<path d="M942 792.5h6" stroke="#d06c7a" stroke-width="1"/>
<path d="M947 809.5h6" stroke="#d06c7a" stroke-width="1"/>
<path d="M952 795.5h6" stroke="#d06c7a" stroke-width="1"/>
<path d="M957 798.5h6" stroke="#888888" stroke-width="1"/>
<path d="M962 799.5h6" stroke="#d06c7a" stroke-width="1"/>
<path d="M967 799.5h6" stroke="#888888" stroke-width="1"/>
<path d="M972 794.5h6" stroke="#888888" stroke-width="1"/>
<path d="M977 791.5h6" stroke="#d06c7a" stroke-width="1"/>
<path d="M982 794.5h6" stroke="#888888" stroke-width="1"/>
<path d="M987 808.5h6" stroke="#d06c7a" stroke-width="1"/>
<path d="M992 849.5h6" stroke="#888888" stroke-width="1"/>
<path d="M997 809.5h6" stroke="#888888" stroke-width="1"/>
<path d="M1002 816.5h6" stroke="#d06c7a" stroke-width="1"/>
<path d="M1007 782.5h6" stroke="#d06c7a" stroke-width="1"/>
<path d="M1012 821.5h6" stroke="#d06c7a" stroke-width="1"/>
<path d="M1017 847.5h6" stroke="#d06c7a" stroke-width="1"/>
<path d="M1022 827.5h6" stroke="#888888" stroke-width="1"/>
<path d="M1027 812.5h6" stroke="#888888" stroke-width="1"/>
<path d="M1032 824.5h6" stroke="#d06c7a" stroke-width="1"/>
<path d="M1037 809.5h6" stroke="#888888" stroke-width="1"/>
<path d="M1042 791.5h6" stroke="#888888" stroke-width="1"/>
<path d="M1047 808.5h6" stroke="#d06c7a" stroke-width="1"/>
<path d="M1052 816.5h6" stroke="#d06c7a" stroke-width="1"/>
<path d="M1057 832.5h6" stroke="#d06c7a" stroke-width="1"/>
<path d="M1062 814.5h6" stroke="#888888" stroke-width="1"/>
<path d="M1067 808.5h6" stroke="#d06c7a" stroke-width="1"/>
<path d="M1072 747.5h6" stroke="#888888" stroke-width="1"/>
<path d="M1077 795.5h6" stroke="#888888" stroke-width="1"/>
<path d="M1082 814.5h6" stroke="#888888" stroke-width="1"/>
<path d="M1087 832.5h6" stroke="#d06c7a" stroke-width="1"/>
<path d="M1092 821.5h6" stroke="#888888" stroke-width="1"/>
<path d="M1097 815.5h6" stroke="#d06c7a" stroke-width="1"/>
<path d="M1102 803.5h6" stroke="#888888" stroke-width="1"/>
<path d="M1107 803.5h6" stroke="#d06c7a" stroke-width="1"/>
<path d="M1112 820.5h6" stroke="#d06c7a" stroke-width="1"/>
<path d="M1117 814.5h6" stroke="#888888" stroke-width="1"/>
<path d="M1122 806.5h6" stroke="#888888" stroke-width="1"/>
<path d="M1127 808.5h6" stroke="#888888" stroke-width="1"/>
<path d="M1132 814.5h6" stroke="#888888" stroke-width="1"/>
<path d="M1137 791.5h6" stroke="#888888" stroke-width="1"/>
<path d="M1142 825.5h6" stroke="#d06c7a" stroke-width="1"/>
<path d="M1147 814.5h6" stroke="#888888" stroke-width="1"/>
<path d="M1152 843.5h6" stroke="#d06c7a" stroke-width="1"/>
<path d="M1157 816.5h6" stroke="#888888" stroke-width="1"/>
<path d="M1162 799.5h6" stroke="#888888" stroke-width="1"/>
<path d="M1167 812.5h6" stroke="#888888" stroke-width="1"/>
<path d="M1172 810.5h6" stroke="#d06c7a" stroke-width="1"/>
<path d="M1177 822.5h6" stroke="#d06c7a" stroke-width="1"/>
<path d="M1182 822.5h6" stroke="#d06c7a" stroke-width="1"/>
<path d="M1187 825.5h6" stroke="#888888" stroke-width="1"/>
<path d="M1192 827.5h6" stroke="#888888" stroke-width="1"/>
<path d="M1197 833.5h6" stroke="#d06c7a" stroke-width="1"/>
<path d="M1202 802.5h6" stroke="#d06c7a" stroke-width="1"/>
<path d="M1207 822.5h6" stroke="#d06c7a" stroke-width="1"/>
<path d="M1212 817.5h6" stroke="#d06c7a" stroke-width="1"/>
<path d="M1217 810.5h6" stroke="#888888" stroke-width="1"/>
<path d="M1222 817.5h6" stroke="#888888" stroke-width="1"/>
<path d="M1227 808.5h6" stroke="#d06c7a" stroke-width="1"/>
<path d="M1232 799.5h6" stroke="#d06c7a" stroke-width="1"/>
<path d="M1237 797.5h6" stroke="#888888" stroke-width="1"/>
<path d="M1242 814.5h6" stroke="#888888" stroke-width="1"/>
<path d="M1247 809.5h6" stroke="#888888" stroke-width="1"/>
<path d="M1252 847.5h6" stroke="#888888" stroke-width="1"/>
<path d="M1257 805.5h6" stroke="#888888" stroke-width="1"/>
<path d="M1262 809.5h6" stroke="#888888" stroke-width="1"/>
<path d="M1267 769.5h6" stroke="#888888" stroke-width="1"/>
<path d="M1272 816.5h6" stroke="#888888" stroke-width="1"/>
<path d="M1277 852.5h6" stroke="#888888" stroke-width="1"/>
<path d="M1282 828.5h6" stroke="#d06c7a" stroke-width="1"/>
<path d="M1287 814.5h6" stroke="#888888" stroke-width="1"/>
<path d="M1292 822.5h6" stroke="#888888" stroke-width="1"/>
<path d="M1297 801.5h6" stroke="#888888" stroke-width="1"/>
<path d="M1302 795.5h6" stroke="#888888" stroke-width="1"/>
<path d="M1307 806.5h6" stroke="#888888" stroke-width="1"/>
<path d="M1312 810.5h6" stroke="#d06c7a" stroke-width="1"/>
<path d="M1317 827.5h6" stroke="#888888" stroke-width="1"/>
<path d="M1322 808.5h6" stroke="#888888" stroke-width="1"/>
<path d="M1327 802.5h6" stroke="#d06c7a" stroke-width="1"/>
<path d="M1332 789.5h6" stroke="#d06c7a" stroke-width="1"/>
<path d="M1337 814.5h6" stroke="#888888" stroke-width="1"/>
<path d="M1342 832.5h6" stroke="#888888" stroke-width="1"/>
<path d="M1347 814.5h6" stroke="#d06c7a" stroke-width="1"/>
<path d="M1352 817.5h6" stroke="#d06c7a" stroke-width="1"/>
<path d="M1357 810.5h6" stroke="#d06c7a" stroke-width="1"/>
<path d="M1362 808.5h6" stroke="#888888" stroke-width="1"/>
<path d="M1367 802.5h6" stroke="#888888" stroke-width="1"/>
<path d="M1372 821.5h6" stroke="#888888" stroke-width="1"/>
<path d="M1377 821.5h6" stroke="#888888" stroke-width="1"/>
<path d="M1382 827.5h6" stroke="#888888" stroke-width="1"/>
<path d="M1387 820.5h6" stroke="#d06c7a" stroke-width="1"/>
<path d="M1392 822.5h6" stroke="#888888" stroke-width="1"/>
<path d="M1397 809.5h6" stroke="#888888" stroke-width="1"/>
<path d="M1402 797.5h6" stroke="#888888" stroke-width="1"/>
<path d="M1407 790.5h6" stroke="#d06c7a" stroke-width="1"/>
<path d="M1412 835.5h6" stroke="#888888" stroke-width="1"/>
<path d="M1417 806.5h6" stroke="#888888" stroke-width="1"/>
<path d="M1422 797.5h6" stroke="#d06c7a" stroke-width="1"/>
<path d="M1427 795.5h6" stroke="#d06c7a" stroke-width="1"/>
<path d="M1432 779.5h6" stroke="#d06c7a" stroke-width="1"/>
<path d="M1437 787.5h6" stroke="#d06c7a" stroke-width="1"/>
<path d="M1442 809.5h6" stroke="#888888" stroke-width="1"/>
<path d="M1447 821.5h6" stroke="#888888" stroke-width="1"/>
<path d="M1452 813.5h6" stroke="#888888" stroke-width="1"/>
<path d="M1457 819.5h6" stroke="#d06c7a" stroke-width="1"/>
<path d="M1462 803.5h6" stroke="#888888" stroke-width="1"/>
<path d="M1467 775.5h6" stroke="#888888" stroke-width="1"/>
<path d="M1472 803.5h6" stroke="#888888" stroke-width="1"/>
<path d="M1477 810.5h6" stroke="#888888" stroke-width="1"/>
<path d="M1482 815.5h6" stroke="#888888" stroke-width="1"/>
<path d="M1487 811.5h6" stroke="#888888" stroke-width="1"/>
<path d="M1492 813.5h6" stroke="#d06c7a" stroke-width="1"/>
<path d="M1497 794.5h6" stroke="#d06c7a" stroke-width="1"/>
<path d="M1502 786.5h6" stroke="#888888" stroke-width="1"/>
<path d="M1507 794.5h6" stroke="#d06c7a" stroke-width="1"/>
<path d="M1512 858.5h6" stroke="#888888" stroke-width="1"/>
<path d="M47.5 247.5H1521.5 M47.5 226.5H1521.5 M47.5 205.5H1521.5 M47.5 163.5H1521.5 M47.5 120.5H1521.5 M47.5 78.5H1521.5 M47.5 57.5H1521.5 M47.5 36.5H1521.5 M47.5 891.5H1521.5 M47.5 864.5H1521.5 M47.5 837.5H1521.5 M47.5 811.5H1521.5 M47.5 787.5H1521.5 M47.5 763.5H1521.5 M47.5 740.5H1521.5 M47.5 718.5H1521.5 M47.5 697.5H1521.5 M47.5 677.5H1521.5 M47.5 657.5H1521.5 M47.5 637.5H1521.5 M47.5 619.5H1521.5 M47.5 601.5H1521.5 M47.5 583.5H1521.5 M47.5 566.5H1521.5 M47.5 549.5H1521.5 M47.5 533.5H1521.5 M47.5 517.5H1521.5 M47.5 502.5H1521.5 M47.5 486.5H1521.5 M47.5 472.5H1521.5 M47.5 457.5H1521.5 M47.5 443.5H1521.5 M47.5 429.5H1521.5 M47.5 416.5H1521.5 M47.5 403.5H1521.5 M47.5 390.5H1521.5 M47.5 377.5H1521.5 M47.5 365.5H1521.5 M47.5 353.5H1521.5 M47.5 341.5H1521.5 M47.5 329.5H1521.5 M47.5 318.5H1521.5 M47.5 306.5H1521.5 M47.5 295.5H1521.5 M47.5 284.5H1521.5 M47.5 274.5H1521.5 M47.5 263.5H1521.5 M69.5 28.5V900.5 M89.5 28.5V900.5 M109.5 28.5V900.5 M134.5 28.5V900.5 M154.5 28.5V900.5 M179.5 28.5V900.5 M199.5 28.5V900.5 M219.5 28.5V900.5 M264.5 28.5V900.5 M284.5 28.5V900.5 M309.5 28.5V900.5 M329.5 28.5V900.5 M349.5 28.5V900.5 M374.5 28.5V900.5 M394.5 28.5V900.5 M419.5 28.5V900.5 M439.5 28.5V900.5 M459.5 28.5V900.5 M484.5 28.5V900.5 M524.5 28.5V900.5 M544.5 28.5V900.5 M569.5 28.5V900.5 M589.5 28.5V900.5 M609.5 28.5V900.5 M634.5 28.5V900.5 M654.5 28.5V900.5 M679.5 28.5V900.5 M699.5 28.5V900.5 M719.5 28.5V900.5 M744.5 28.5V900.5 M789.5 28.5V900.5 M809.5 28.5V900.5 M829.5 28.5V900.5 M849.5 28.5V900.5 M874.5 28.5V900.5 M894.5 28.5V900.5 M914.5 28.5V900.5 M939.5 28.5V900.5 M959.5 28.5V900.5 M984.5 28.5V900.5 M1004.5 28.5V900.5 M1049.5 28.5V900.5 M1069.5 28.5V900.5 M1089.5 28.5V900.5 M1109.5 28.5V900.5 M1134.5 28.5V900.5 M1154.5 28.5V900.5 M1179.5 28.5V900.5 M1199.5 28.5V900.5 M1219.5 28.5V900.5 M1244.5 28.5V900.5 M1264.5 28.5V900.5 M1309.5 28.5V900.5 M1329.5 28.5V900.5 M1349.5 28.5V900.5 M1374.5 28.5V900.5 M1394.5 28.5V900.5 M1414.5 28.5V900.5 M1439.5 28.5V900.5 M1459.5 28.5V900.5 M1484.5 28.5V900.5 M1504.5 28.5V900.5" stroke="#000" stroke-opacity="0.095" stroke-width="1" fill="none"/>
<path d="M244.5 28.5V900.5 M504.5 28.5V900.5 M764.5 28.5V900.5 M1024.5 28.5V900.5 M1284.5 28.5V900.5" stroke="#000" stroke-opacity="0.17" stroke-width="1" fill="none"/>
<polyline shape-rendering="geometricPrecision" points="47.6,837.7 69.4,833.1 89.5,829.1 104.5,825.9 119.4,822 129.5,818.8 139.5,816.9 154.5,814.3 159.5,812.4 174.4,809.2 189.5,806.3 199.5,803.5 209.5,800.7 224.4,795.2 245,789.2 255.1,786 270,780.9 285,778.1 299.9,777.1 314.9,773.9 340.1,770.4 354.9,766.2 369.9,763 384.8,759.8 399.8,755.3 425,747.9 434.1,745.6 450,741.6 477.5,733.4 504.9,725.4 532.4,716.4 569.5,704 598.4,693.8 634.1,680.7 679.4,663.6 700,655.9 724.7,646.9 764.6,632.6 804.4,618.8 845.6,607 879.9,600.2 885,598.8 909.9,595 929.9,590.4 945,586.5 955,585.8 969.9,582.7 985,578.1 1005,573.9 1025,569.6 1045,565.8 1069.9,562.3 1089.9,558 1099.9,555.4 1115,553.1 1125,550.8 1135,547.2 1149.9,543.8 1165,540 1175,537.7 1199.9,533.1 1219.9,529.2 1239.9,526.2 1259.9,522.6 1269.9,520.5 1279.9,517.4 1285,516.5 1365,489.4 1414.3,474.6 1463.5,459.1 1486.9,451.3 1514.6,444.3" fill="none" stroke="#cc0033" stroke-width="1.2" stroke-linejoin="round"/>
<polyline shape-rendering="geometricPrecision" points="47.6,750.9 69.9,746.3 85,745.9 100,744.1 114.9,741.8 129.9,739.3 160.1,739.3 174.8,736.5 189.8,733.3 207.4,727.1 229.7,715 240,709.3 255.1,701.7 265,696.5 275,692.1 285,691 294.9,695.3 304.9,697.8 320,699.5 335,698.2 349.9,696.2 364.9,694.9 374.9,694.4 389.8,690.2 394.8,687.6 409.8,681.8 425,677.1 450,669.7 463.7,665.5 480.2,660.1 494,654.6 515,647.6 525.1,644.2 539.4,633.8 555.1,616.5 570,603.4 590.1,584 600,576.4 615.1,565.4 631,553.2 642.8,545 659.9,534.3 680,518.8 700,506.7 705,503.2 720,494.2 745,479.7 760.1,471.4 770,466.6 780,464.1 795,458.3 810,455.5 815,454.2 825,451.5 835,450.1 849.9,450.1 869.9,452.7 879.9,455.8 895,461.2 915,465 929.9,467.8 945,471.2 959.9,478.1 975,486.5 985,491.5 999.9,496.5 1009.9,502.7 1019.9,507.8 1035,511.2 1045,513.1 1059.9,515.8 1069.9,519.2 1079.9,522.6 1089.9,524.6 1099.9,524.3 1115,523.2 1125,521.1 1135,517.7 1149.9,513.1 1165,509.2 1175,507.7 1189.9,503.5 1205,496.9 1219.9,491.2 1235,488.5 1249.9,485.4 1265,478.5 1275,473.8 1285,468.8 1352,431.1 1365,424.5 1380,416.7 1395.1,408.9 1410.1,401.1 1425.1,393.2 1440,386.5 1460,375.2 1480.1,360.4 1490.1,353 1505,343.9 1514.5,337.4" fill="none" stroke="#1c1c8c" stroke-width="1.2" stroke-linejoin="round"/>
<path d="M49.5 716V717M49.5 721V725" stroke="#000" stroke-width="1" fill="none"/>
<rect x="47.5" y="717.5" width="4" height="3" fill="none" stroke="#000" stroke-width="1"/>
<path d="M54.5 714V721 M52 718.5H57" stroke="#cc0033" stroke-width="1" fill="none"/>
<rect x="57.5" y="711.5" width="4" height="7" fill="none" stroke="#000" stroke-width="1"/>
<path d="M64.5 707V719 M62 710.5H67" stroke="#000" stroke-width="1" fill="none"/>
<path d="M69.5 710V736" stroke="#cc0033" stroke-width="1" fill="none"/>
<rect x="67" y="716" width="5" height="7" fill="#cc0033"/>
<path d="M74.5 720V727M74.5 731V741" stroke="#cc0033" stroke-width="1" fill="none"/>
<rect x="72.5" y="727.5" width="4" height="3" fill="none" stroke="#cc0033" stroke-width="1"/>
<path d="M79.5 725V740" stroke="#cc0033" stroke-width="1" fill="none"/>
<rect x="77" y="731" width="5" height="4" fill="#cc0033"/>
<path d="M84.5 731V752" stroke="#cc0033" stroke-width="1" fill="none"/>
<rect x="82" y="734" width="5" height="18" fill="#cc0033"/>
<path d="M89.5 722V725M89.5 751V757" stroke="#000" stroke-width="1" fill="none"/>
<rect x="87.5" y="725.5" width="4" height="25" fill="none" stroke="#000" stroke-width="1"/>
<path d="M94.5 716V725 M92 722.5H97" stroke="#000" stroke-width="1" fill="none"/>
<path d="M99.5 705V709" stroke="#000" stroke-width="1" fill="none"/>
<rect x="97.5" y="709.5" width="4" height="11" fill="none" stroke="#000" stroke-width="1"/>
<path d="M104.5 707V717" stroke="#cc0033" stroke-width="1" fill="none"/>
<rect x="102" y="707" width="5" height="3" fill="#cc0033"/>
<path d="M109.5 698V700M109.5 703V708" stroke="#000" stroke-width="1" fill="none"/>
<rect x="107.5" y="700.5" width="4" height="2" fill="none" stroke="#000" stroke-width="1"/>
<path d="M114.5 701V706" stroke="#000" stroke-width="1" fill="none"/>
<rect x="112.5" y="695.5" width="4" height="5" fill="none" stroke="#000" stroke-width="1"/>
<path d="M119.5 693V703" stroke="#cc0033" stroke-width="1" fill="none"/>
<rect x="117" y="693" width="5" height="9" fill="#cc0033"/>
<path d="M124.5 691V693M124.5 702V703" stroke="#000" stroke-width="1" fill="none"/>
<rect x="122.5" y="693.5" width="4" height="8" fill="none" stroke="#000" stroke-width="1"/>
<path d="M129.5 692V716" stroke="#cc0033" stroke-width="1" fill="none"/>
<rect x="127" y="692" width="5" height="20" fill="#cc0033"/>
<path d="M134.5 710V715M134.5 719V736" stroke="#cc0033" stroke-width="1" fill="none"/>
<rect x="132.5" y="715.5" width="4" height="3" fill="none" stroke="#cc0033" stroke-width="1"/>
<path d="M139.5 709V736" stroke="#cc0033" stroke-width="1" fill="none"/>
<rect x="137" y="717" width="5" height="4" fill="#cc0033"/>
<path d="M144.5 710V733" stroke="#cc0033" stroke-width="1" fill="none"/>
<rect x="142" y="715" width="5" height="16" fill="#cc0033"/>
<path d="M149.5 710V714M149.5 726V730" stroke="#000" stroke-width="1" fill="none"/>
<rect x="147.5" y="714.5" width="4" height="11" fill="none" stroke="#000" stroke-width="1"/>
<path d="M154.5 700V703M154.5 716V720" stroke="#000" stroke-width="1" fill="none"/>
<rect x="152.5" y="703.5" width="4" height="12" fill="none" stroke="#000" stroke-width="1"/>
<path d="M159.5 693V697M159.5 700V707" stroke="#000" stroke-width="1" fill="none"/>
<rect x="157.5" y="697.5" width="4" height="2" fill="none" stroke="#000" stroke-width="1"/>
<path d="M164.5 693V703 M162 699.5H167" stroke="#cc0033" stroke-width="1" fill="none"/>
<path d="M169.5 695V710" stroke="#cc0033" stroke-width="1" fill="none"/>
<rect x="167" y="701" width="5" height="5" fill="#cc0033"/>
<path d="M174.5 699V729" stroke="#cc0033" stroke-width="1" fill="none"/>
<rect x="172" y="704" width="5" height="4" fill="#cc0033"/>
<path d="M179.5 698V704M179.5 709V721" stroke="#000" stroke-width="1" fill="none"/>
<rect x="177.5" y="704.5" width="4" height="4" fill="none" stroke="#000" stroke-width="1"/>
<path d="M184.5 696V701M184.5 705V706" stroke="#000" stroke-width="1" fill="none"/>
<rect x="182.5" y="701.5" width="4" height="3" fill="none" stroke="#000" stroke-width="1"/>
<path d="M189.5 691V693M189.5 698V700" stroke="#000" stroke-width="1" fill="none"/>
<rect x="187.5" y="693.5" width="4" height="4" fill="none" stroke="#000" stroke-width="1"/>
<path d="M194.5 690V693" stroke="#000" stroke-width="1" fill="none"/>
<rect x="192.5" y="683.5" width="4" height="6" fill="none" stroke="#000" stroke-width="1"/>
<path d="M199.5 677V679M199.5 682V683" stroke="#000" stroke-width="1" fill="none"/>
<rect x="197.5" y="679.5" width="4" height="2" fill="none" stroke="#000" stroke-width="1"/>
<rect x="202.5" y="673.5" width="4" height="7" fill="none" stroke="#000" stroke-width="1"/>
<path d="M209.5 671V679 M207 673.5H212" stroke="#cc0033" stroke-width="1" fill="none"/>
<path d="M214.5 666V669" stroke="#000" stroke-width="1" fill="none"/>
<rect x="212.5" y="669.5" width="4" height="3" fill="none" stroke="#000" stroke-width="1"/>
<path d="M219.5 666V684 M217 668.5H222" stroke="#000" stroke-width="1" fill="none"/>
<path d="M224.5 661V664M224.5 668V672" stroke="#000" stroke-width="1" fill="none"/>
<rect x="222.5" y="664.5" width="4" height="3" fill="none" stroke="#000" stroke-width="1"/>
<path d="M229.5 652V653" stroke="#000" stroke-width="1" fill="none"/>
<rect x="227.5" y="653.5" width="4" height="6" fill="none" stroke="#000" stroke-width="1"/>
<path d="M234.5 647V649M234.5 652V653" stroke="#000" stroke-width="1" fill="none"/>
<rect x="232.5" y="649.5" width="4" height="2" fill="none" stroke="#000" stroke-width="1"/>
<path d="M239.5 645V655 M237 650.5H242" stroke="#cc0033" stroke-width="1" fill="none"/>
<path d="M244.5 641V645M244.5 653V655" stroke="#000" stroke-width="1" fill="none"/>
<rect x="242.5" y="645.5" width="4" height="7" fill="none" stroke="#000" stroke-width="1"/>
<rect x="247.5" y="633.5" width="4" height="9" fill="none" stroke="#000" stroke-width="1"/>
<path d="M254.5 630V642" stroke="#cc0033" stroke-width="1" fill="none"/>
<rect x="252" y="633" width="5" height="5" fill="#cc0033"/>
<path d="M259.5 639V655" stroke="#cc0033" stroke-width="1" fill="none"/>
<rect x="257" y="648" width="5" height="4" fill="#cc0033"/>
<path d="M264.5 628V633" stroke="#000" stroke-width="1" fill="none"/>
<rect x="262.5" y="633.5" width="4" height="16" fill="none" stroke="#000" stroke-width="1"/>
<rect x="267.5" y="623.5" width="4" height="10" fill="none" stroke="#000" stroke-width="1"/>
<path d="M274.5 620V633" stroke="#cc0033" stroke-width="1" fill="none"/>
<rect x="272" y="624" width="5" height="7" fill="#cc0033"/>
<path d="M279.5 645V729" stroke="#cc0033" stroke-width="1" fill="none"/>
<rect x="277" y="646" width="5" height="61" fill="#cc0033"/>
<path d="M284.5 669V719" stroke="#000" stroke-width="1" fill="none"/>
<rect x="282" y="702" width="5" height="2" fill="#000"/>
<path d="M289.5 722V817" stroke="#cc0033" stroke-width="1" fill="none"/>
<rect x="287" y="726" width="5" height="34" fill="#cc0033"/>
<path d="M294.5 796V870" stroke="#cc0033" stroke-width="1" fill="none"/>
<rect x="292" y="809" width="5" height="54" fill="#cc0033"/>
<path d="M299.5 778V801M299.5 867V893" stroke="#000" stroke-width="1" fill="none"/>
<rect x="297.5" y="801.5" width="4" height="65" fill="none" stroke="#000" stroke-width="1"/>
<path d="M304.5 776V824" stroke="#cc0033" stroke-width="1" fill="none"/>
<rect x="302" y="797" width="5" height="18" fill="#cc0033"/>
<path d="M309.5 736V744M309.5 792V794" stroke="#000" stroke-width="1" fill="none"/>
<rect x="307.5" y="744.5" width="4" height="47" fill="none" stroke="#000" stroke-width="1"/>
<path d="M314.5 723V724M314.5 744V758" stroke="#000" stroke-width="1" fill="none"/>
<rect x="312.5" y="724.5" width="4" height="19" fill="none" stroke="#000" stroke-width="1"/>
<path d="M319.5 725V758" stroke="#cc0033" stroke-width="1" fill="none"/>
<rect x="317" y="730" width="5" height="2" fill="#cc0033"/>
<path d="M324.5 707V736" stroke="#cc0033" stroke-width="1" fill="none"/>
<rect x="322" y="728" width="5" height="6" fill="#cc0033"/>
<path d="M329.5 711V712M329.5 738V742" stroke="#000" stroke-width="1" fill="none"/>
<rect x="327.5" y="712.5" width="4" height="25" fill="none" stroke="#000" stroke-width="1"/>
<path d="M334.5 708V749" stroke="#cc0033" stroke-width="1" fill="none"/>
<rect x="332" y="715" width="5" height="12" fill="#cc0033"/>
<path d="M339.5 701V706" stroke="#000" stroke-width="1" fill="none"/>
<rect x="337.5" y="706.5" width="4" height="8" fill="none" stroke="#000" stroke-width="1"/>
<path d="M344.5 683V688M344.5 697V704" stroke="#000" stroke-width="1" fill="none"/>
<rect x="342.5" y="688.5" width="4" height="8" fill="none" stroke="#000" stroke-width="1"/>
<path d="M349.5 654V657M349.5 689V691" stroke="#000" stroke-width="1" fill="none"/>
<rect x="347.5" y="657.5" width="4" height="31" fill="none" stroke="#000" stroke-width="1"/>
<path d="M354.5 650V701" stroke="#cc0033" stroke-width="1" fill="none"/>
<rect x="352" y="659" width="5" height="31" fill="#cc0033"/>
<path d="M359.5 665V677M359.5 698V705" stroke="#000" stroke-width="1" fill="none"/>
<rect x="357.5" y="677.5" width="4" height="20" fill="none" stroke="#000" stroke-width="1"/>
<path d="M364.5 666V697" stroke="#cc0033" stroke-width="1" fill="none"/>
<rect x="362" y="678" width="5" height="17" fill="#cc0033"/>
<path d="M369.5 663V671M369.5 693V698" stroke="#000" stroke-width="1" fill="none"/>
<rect x="367.5" y="671.5" width="4" height="21" fill="none" stroke="#000" stroke-width="1"/>
<path d="M374.5 658V660M374.5 665V674" stroke="#000" stroke-width="1" fill="none"/>
<rect x="372.5" y="660.5" width="4" height="4" fill="none" stroke="#000" stroke-width="1"/>
<path d="M379.5 649V652M379.5 656V672" stroke="#000" stroke-width="1" fill="none"/>
<rect x="377.5" y="652.5" width="4" height="3" fill="none" stroke="#000" stroke-width="1"/>
<path d="M384.5 641V656" stroke="#cc0033" stroke-width="1" fill="none"/>
<rect x="382" y="652" width="5" height="3" fill="#cc0033"/>
<path d="M389.5 653V656" stroke="#000" stroke-width="1" fill="none"/>
<rect x="387.5" y="643.5" width="4" height="9" fill="none" stroke="#000" stroke-width="1"/>
<rect x="392.5" y="628.5" width="4" height="11" fill="none" stroke="#000" stroke-width="1"/>
<path d="M399.5 621V625M399.5 628V633" stroke="#000" stroke-width="1" fill="none"/>
<rect x="397.5" y="625.5" width="4" height="2" fill="none" stroke="#000" stroke-width="1"/>
<path d="M404.5 619V620M404.5 623V627" stroke="#000" stroke-width="1" fill="none"/>
<rect x="402.5" y="620.5" width="4" height="2" fill="none" stroke="#000" stroke-width="1"/>
<path d="M409.5 599V600M409.5 615V617" stroke="#000" stroke-width="1" fill="none"/>
<rect x="407.5" y="600.5" width="4" height="14" fill="none" stroke="#000" stroke-width="1"/>
<path d="M414.5 598V629" stroke="#cc0033" stroke-width="1" fill="none"/>
<rect x="412" y="599" width="5" height="16" fill="#cc0033"/>
<path d="M419.5 614V635" stroke="#cc0033" stroke-width="1" fill="none"/>
<rect x="417" y="624" width="5" height="7" fill="#cc0033"/>
<path d="M424.5 613V639" stroke="#cc0033" stroke-width="1" fill="none"/>
<rect x="422" y="625" width="5" height="9" fill="#cc0033"/>
<path d="M429.5 633V638M429.5 641V650" stroke="#cc0033" stroke-width="1" fill="none"/>
<rect x="427.5" y="638.5" width="4" height="2" fill="none" stroke="#cc0033" stroke-width="1"/>
<path d="M434.5 619V628M434.5 632V634" stroke="#000" stroke-width="1" fill="none"/>
<rect x="432.5" y="628.5" width="4" height="3" fill="none" stroke="#000" stroke-width="1"/>
<path d="M439.5 604V605M439.5 625V628" stroke="#000" stroke-width="1" fill="none"/>
<rect x="437.5" y="605.5" width="4" height="19" fill="none" stroke="#000" stroke-width="1"/>
<path d="M444.5 592V612" stroke="#000" stroke-width="1" fill="none"/>
<rect x="442" y="601" width="5" height="3" fill="#000"/>
<path d="M449.5 600V617" stroke="#cc0033" stroke-width="1" fill="none"/>
<rect x="447" y="602" width="5" height="6" fill="#cc0033"/>
<path d="M454.5 611V650" stroke="#cc0033" stroke-width="1" fill="none"/>
<rect x="452" y="611" width="5" height="32" fill="#cc0033"/>
<path d="M459.5 595V600M459.5 638V641" stroke="#000" stroke-width="1" fill="none"/>
<rect x="457.5" y="600.5" width="4" height="37" fill="none" stroke="#000" stroke-width="1"/>
<path d="M464.5 575V599 M462 586.5H467" stroke="#000" stroke-width="1" fill="none"/>
<path d="M469.5 578V594" stroke="#cc0033" stroke-width="1" fill="none"/>
<rect x="467" y="582" width="5" height="9" fill="#cc0033"/>
<path d="M474.5 575V576M474.5 589V592" stroke="#000" stroke-width="1" fill="none"/>
<rect x="472.5" y="576.5" width="4" height="12" fill="none" stroke="#000" stroke-width="1"/>
<path d="M479.5 577V585" stroke="#000" stroke-width="1" fill="none"/>
<rect x="477.5" y="567.5" width="4" height="9" fill="none" stroke="#000" stroke-width="1"/>
<path d="M484.5 565V577" stroke="#cc0033" stroke-width="1" fill="none"/>
<rect x="482" y="567" width="5" height="6" fill="#cc0033"/>
<path d="M489.5 561V565M489.5 570V575" stroke="#000" stroke-width="1" fill="none"/>
<rect x="487.5" y="565.5" width="4" height="4" fill="none" stroke="#000" stroke-width="1"/>
<path d="M494.5 564V565M494.5 570V578" stroke="#cc0033" stroke-width="1" fill="none"/>
<rect x="492.5" y="565.5" width="4" height="4" fill="none" stroke="#cc0033" stroke-width="1"/>
<rect x="497.5" y="557.5" width="4" height="4" fill="none" stroke="#000" stroke-width="1"/>
<path d="M504.5 555V573" stroke="#000" stroke-width="1" fill="none"/>
<rect x="502.5" y="546.5" width="4" height="8" fill="none" stroke="#000" stroke-width="1"/>
<path d="M509.5 545V558" stroke="#cc0033" stroke-width="1" fill="none"/>
<rect x="507" y="549" width="5" height="5" fill="#cc0033"/>
<path d="M514.5 539V542" stroke="#000" stroke-width="1" fill="none"/>
<rect x="512.5" y="542.5" width="4" height="9" fill="none" stroke="#000" stroke-width="1"/>
<path d="M519.5 538V568" stroke="#cc0033" stroke-width="1" fill="none"/>
<rect x="517" y="541" width="5" height="22" fill="#cc0033"/>
<path d="M524.5 534V535M524.5 562V563" stroke="#000" stroke-width="1" fill="none"/>
<rect x="522.5" y="535.5" width="4" height="26" fill="none" stroke="#000" stroke-width="1"/>
<path d="M529.5 535V536" stroke="#000" stroke-width="1" fill="none"/>
<rect x="527.5" y="527.5" width="4" height="7" fill="none" stroke="#000" stroke-width="1"/>
<path d="M534.5 525V536" stroke="#cc0033" stroke-width="1" fill="none"/>
<rect x="532" y="527" width="5" height="6" fill="#cc0033"/>
<path d="M539.5 528V552" stroke="#cc0033" stroke-width="1" fill="none"/>
<rect x="537" y="535" width="5" height="12" fill="#cc0033"/>
<path d="M544.5 531V563 M542 543.5H547" stroke="#000" stroke-width="1" fill="none"/>
<path d="M549.5 523V526M549.5 543V546" stroke="#000" stroke-width="1" fill="none"/>
<rect x="547.5" y="526.5" width="4" height="16" fill="none" stroke="#000" stroke-width="1"/>
<path d="M554.5 520V536" stroke="#cc0033" stroke-width="1" fill="none"/>
<rect x="552" y="526" width="5" height="5" fill="#cc0033"/>
<path d="M559.5 520V522M559.5 530V540" stroke="#000" stroke-width="1" fill="none"/>
<rect x="557.5" y="522.5" width="4" height="7" fill="none" stroke="#000" stroke-width="1"/>
<path d="M564.5 522V527" stroke="#000" stroke-width="1" fill="none"/>
<rect x="562.5" y="515.5" width="4" height="6" fill="none" stroke="#000" stroke-width="1"/>
<rect x="567.5" y="498.5" width="4" height="13" fill="none" stroke="#000" stroke-width="1"/>
<path d="M574.5 488V489M574.5 498V500" stroke="#000" stroke-width="1" fill="none"/>
<rect x="572.5" y="489.5" width="4" height="8" fill="none" stroke="#000" stroke-width="1"/>
<path d="M579.5 487V500 M577 490.5H582" stroke="#cc0033" stroke-width="1" fill="none"/>
<path d="M584.5 484V491 M582 490.5H587" stroke="#000" stroke-width="1" fill="none"/>
<path d="M589.5 481V482M589.5 488V498" stroke="#000" stroke-width="1" fill="none"/>
<rect x="587.5" y="482.5" width="4" height="5" fill="none" stroke="#000" stroke-width="1"/>
<path d="M594.5 481V509" stroke="#cc0033" stroke-width="1" fill="none"/>
<rect x="592" y="482" width="5" height="9" fill="#cc0033"/>
<path d="M599.5 488V509" stroke="#cc0033" stroke-width="1" fill="none"/>
<rect x="597" y="491" width="5" height="3" fill="#cc0033"/>
<path d="M604.5 484V486" stroke="#000" stroke-width="1" fill="none"/>
<rect x="602.5" y="486.5" width="4" height="5" fill="none" stroke="#000" stroke-width="1"/>
<path d="M609.5 481V483M609.5 486V492" stroke="#000" stroke-width="1" fill="none"/>
<rect x="607.5" y="483.5" width="4" height="2" fill="none" stroke="#000" stroke-width="1"/>
<path d="M614.5 483V485" stroke="#000" stroke-width="1" fill="none"/>
<rect x="612.5" y="480.5" width="4" height="2" fill="none" stroke="#000" stroke-width="1"/>
<path d="M619.5 478V493" stroke="#cc0033" stroke-width="1" fill="none"/>
<rect x="617" y="479" width="5" height="14" fill="#cc0033"/>
<path d="M624.5 474V475" stroke="#000" stroke-width="1" fill="none"/>
<rect x="622.5" y="475.5" width="4" height="14" fill="none" stroke="#000" stroke-width="1"/>
<path d="M629.5 475V476" stroke="#000" stroke-width="1" fill="none"/>
<rect x="627.5" y="465.5" width="4" height="9" fill="none" stroke="#000" stroke-width="1"/>
<path d="M634.5 461V463M634.5 466V473" stroke="#000" stroke-width="1" fill="none"/>
<rect x="632.5" y="463.5" width="4" height="2" fill="none" stroke="#000" stroke-width="1"/>
<path d="M639.5 458V470" stroke="#cc0033" stroke-width="1" fill="none"/>
<rect x="637" y="461" width="5" height="8" fill="#cc0033"/>
<path d="M644.5 472V483" stroke="#000" stroke-width="1" fill="none"/>
<rect x="642.5" y="457.5" width="4" height="14" fill="none" stroke="#000" stroke-width="1"/>
<path d="M649.5 453V462" stroke="#cc0033" stroke-width="1" fill="none"/>
<rect x="647" y="455" width="5" height="3" fill="#cc0033"/>
<path d="M654.5 457V462" stroke="#000" stroke-width="1" fill="none"/>
<rect x="652.5" y="452.5" width="4" height="4" fill="none" stroke="#000" stroke-width="1"/>
<path d="M659.5 452V455" stroke="#000" stroke-width="1" fill="none"/>
<rect x="657.5" y="449.5" width="4" height="2" fill="none" stroke="#000" stroke-width="1"/>
<path d="M664.5 446V463" stroke="#cc0033" stroke-width="1" fill="none"/>
<rect x="662" y="449" width="5" height="4" fill="#cc0033"/>
<path d="M669.5 441V442" stroke="#000" stroke-width="1" fill="none"/>
<rect x="667.5" y="442.5" width="4" height="7" fill="none" stroke="#000" stroke-width="1"/>
<path d="M674.5 437V439" stroke="#000" stroke-width="1" fill="none"/>
<rect x="672.5" y="439.5" width="4" height="2" fill="none" stroke="#000" stroke-width="1"/>
<path d="M679.5 438V450" stroke="#cc0033" stroke-width="1" fill="none"/>
<rect x="677" y="438" width="5" height="12" fill="#cc0033"/>
<path d="M684.5 444V454" stroke="#cc0033" stroke-width="1" fill="none"/>
<rect x="682" y="447" width="5" height="7" fill="#cc0033"/>
<path d="M689.5 448V450M689.5 456V472" stroke="#000" stroke-width="1" fill="none"/>
<rect x="687.5" y="450.5" width="4" height="5" fill="none" stroke="#000" stroke-width="1"/>
<path d="M694.5 449V474" stroke="#cc0033" stroke-width="1" fill="none"/>
<rect x="692" y="451" width="5" height="14" fill="#cc0033"/>
<path d="M699.5 453V460M699.5 465V476" stroke="#000" stroke-width="1" fill="none"/>
<rect x="697.5" y="460.5" width="4" height="4" fill="none" stroke="#000" stroke-width="1"/>
<path d="M704.5 460V468" stroke="#000" stroke-width="1" fill="none"/>
<rect x="702.5" y="448.5" width="4" height="11" fill="none" stroke="#000" stroke-width="1"/>
<path d="M709.5 435V437M709.5 448V452" stroke="#000" stroke-width="1" fill="none"/>
<rect x="707.5" y="437.5" width="4" height="10" fill="none" stroke="#000" stroke-width="1"/>
<path d="M714.5 428V429M714.5 436V439" stroke="#000" stroke-width="1" fill="none"/>
<rect x="712.5" y="429.5" width="4" height="6" fill="none" stroke="#000" stroke-width="1"/>
<path d="M719.5 414V417M719.5 429V431" stroke="#000" stroke-width="1" fill="none"/>
<rect x="717.5" y="417.5" width="4" height="11" fill="none" stroke="#000" stroke-width="1"/>
<path d="M724.5 414V426" stroke="#cc0033" stroke-width="1" fill="none"/>
<rect x="722" y="417" width="5" height="2" fill="#cc0033"/>
<path d="M729.5 414V417M729.5 420V421" stroke="#000" stroke-width="1" fill="none"/>
<rect x="727.5" y="417.5" width="4" height="2" fill="none" stroke="#000" stroke-width="1"/>
<path d="M734.5 410V433" stroke="#cc0033" stroke-width="1" fill="none"/>
<rect x="732" y="415" width="5" height="16" fill="#cc0033"/>
<path d="M739.5 420V445" stroke="#cc0033" stroke-width="1" fill="none"/>
<rect x="737" y="426" width="5" height="13" fill="#cc0033"/>
<path d="M744.5 414V415M744.5 438V439" stroke="#000" stroke-width="1" fill="none"/>
<rect x="742.5" y="415.5" width="4" height="22" fill="none" stroke="#000" stroke-width="1"/>
<path d="M749.5 412V431" stroke="#cc0033" stroke-width="1" fill="none"/>
<rect x="747" y="415" width="5" height="13" fill="#cc0033"/>
<path d="M754.5 411V413M754.5 431V440" stroke="#000" stroke-width="1" fill="none"/>
<rect x="752.5" y="413.5" width="4" height="17" fill="none" stroke="#000" stroke-width="1"/>
<path d="M759.5 402V407" stroke="#000" stroke-width="1" fill="none"/>
<rect x="757.5" y="407.5" width="4" height="4" fill="none" stroke="#000" stroke-width="1"/>
<path d="M764.5 401V422" stroke="#cc0033" stroke-width="1" fill="none"/>
<rect x="762" y="406" width="5" height="14" fill="#cc0033"/>
<path d="M769.5 410V433 M767 422.5H772" stroke="#cc0033" stroke-width="1" fill="none"/>
<path d="M774.5 425V459" stroke="#cc0033" stroke-width="1" fill="none"/>
<rect x="772" y="425" width="5" height="34" fill="#cc0033"/>
<path d="M779.5 450V454M779.5 464V484" stroke="#000" stroke-width="1" fill="none"/>
<rect x="777.5" y="454.5" width="4" height="9" fill="none" stroke="#000" stroke-width="1"/>
<path d="M784.5 430V443" stroke="#000" stroke-width="1" fill="none"/>
<rect x="782.5" y="443.5" width="4" height="10" fill="none" stroke="#000" stroke-width="1"/>
<path d="M789.5 431V455" stroke="#cc0033" stroke-width="1" fill="none"/>
<rect x="787" y="443" width="5" height="12" fill="#cc0033"/>
<path d="M794.5 445V469" stroke="#cc0033" stroke-width="1" fill="none"/>
<rect x="792" y="458" width="5" height="8" fill="#cc0033"/>
<path d="M799.5 459V460M799.5 467V500" stroke="#000" stroke-width="1" fill="none"/>
<rect x="797.5" y="460.5" width="4" height="6" fill="none" stroke="#000" stroke-width="1"/>
<path d="M804.5 458V476" stroke="#cc0033" stroke-width="1" fill="none"/>
<rect x="802" y="464" width="5" height="5" fill="#cc0033"/>
<path d="M809.5 468V494" stroke="#cc0033" stroke-width="1" fill="none"/>
<rect x="807" y="468" width="5" height="19" fill="#cc0033"/>
<path d="M814.5 486V493" stroke="#000" stroke-width="1" fill="none"/>
<rect x="812.5" y="449.5" width="4" height="36" fill="none" stroke="#000" stroke-width="1"/>
<path d="M819.5 449V450" stroke="#000" stroke-width="1" fill="none"/>
<rect x="817.5" y="438.5" width="4" height="10" fill="none" stroke="#000" stroke-width="1"/>
<path d="M824.5 425V443 M822 438.5H827" stroke="#000" stroke-width="1" fill="none"/>
<path d="M829.5 430V450" stroke="#cc0033" stroke-width="1" fill="none"/>
<rect x="827" y="437" width="5" height="8" fill="#cc0033"/>
<path d="M834.5 447V461" stroke="#cc0033" stroke-width="1" fill="none"/>
<rect x="832" y="449" width="5" height="10" fill="#cc0033"/>
<path d="M839.5 443V478" stroke="#cc0033" stroke-width="1" fill="none"/>
<rect x="837" y="459" width="5" height="18" fill="#cc0033"/>
<path d="M844.5 471V499" stroke="#cc0033" stroke-width="1" fill="none"/>
<rect x="842" y="478" width="5" height="20" fill="#cc0033"/>
<path d="M849.5 471V508 M847 498.5H852" stroke="#cc0033" stroke-width="1" fill="none"/>
<path d="M854.5 504V540" stroke="#cc0033" stroke-width="1" fill="none"/>
<rect x="852" y="504" width="5" height="9" fill="#cc0033"/>
<path d="M859.5 503V547" stroke="#cc0033" stroke-width="1" fill="none"/>
<rect x="857" y="515" width="5" height="18" fill="#cc0033"/>
<path d="M864.5 530V537" stroke="#000" stroke-width="1" fill="none"/>
<rect x="862.5" y="493.5" width="4" height="36" fill="none" stroke="#000" stroke-width="1"/>
<path d="M869.5 490V507" stroke="#cc0033" stroke-width="1" fill="none"/>
<rect x="867" y="495" width="5" height="5" fill="#cc0033"/>
<path d="M874.5 491V533" stroke="#cc0033" stroke-width="1" fill="none"/>
<rect x="872" y="496" width="5" height="37" fill="#cc0033"/>
<path d="M879.5 543V577" stroke="#cc0033" stroke-width="1" fill="none"/>
<rect x="877" y="543" width="5" height="27" fill="#cc0033"/>
<rect x="882.5" y="531.5" width="4" height="31" fill="none" stroke="#000" stroke-width="1"/>
<path d="M889.5 527V560" stroke="#cc0033" stroke-width="1" fill="none"/>
<rect x="887" y="530" width="5" height="16" fill="#cc0033"/>
<path d="M894.5 530V533M894.5 550V560" stroke="#000" stroke-width="1" fill="none"/>
<rect x="892.5" y="533.5" width="4" height="16" fill="none" stroke="#000" stroke-width="1"/>
<path d="M899.5 535V562" stroke="#cc0033" stroke-width="1" fill="none"/>
<rect x="897" y="537" width="5" height="3" fill="#cc0033"/>
<path d="M904.5 516V523M904.5 535V547" stroke="#000" stroke-width="1" fill="none"/>
<rect x="902.5" y="523.5" width="4" height="11" fill="none" stroke="#000" stroke-width="1"/>
<path d="M909.5 495V497M909.5 522V532" stroke="#000" stroke-width="1" fill="none"/>
<rect x="907.5" y="497.5" width="4" height="24" fill="none" stroke="#000" stroke-width="1"/>
<path d="M914.5 491V495M914.5 500V505" stroke="#000" stroke-width="1" fill="none"/>
<rect x="912.5" y="495.5" width="4" height="4" fill="none" stroke="#000" stroke-width="1"/>
<path d="M919.5 493V500" stroke="#000" stroke-width="1" fill="none"/>
<rect x="917.5" y="475.5" width="4" height="17" fill="none" stroke="#000" stroke-width="1"/>
<path d="M924.5 469V484" stroke="#cc0033" stroke-width="1" fill="none"/>
<rect x="922" y="477" width="5" height="6" fill="#cc0033"/>
<path d="M929.5 486V509" stroke="#cc0033" stroke-width="1" fill="none"/>
<rect x="927" y="487" width="5" height="22" fill="#cc0033"/>
<path d="M934.5 508V532" stroke="#cc0033" stroke-width="1" fill="none"/>
<rect x="932" y="512" width="5" height="18" fill="#cc0033"/>
<path d="M939.5 505V508M939.5 528V535" stroke="#000" stroke-width="1" fill="none"/>
<rect x="937.5" y="508.5" width="4" height="19" fill="none" stroke="#000" stroke-width="1"/>
<path d="M944.5 500V543" stroke="#cc0033" stroke-width="1" fill="none"/>
<rect x="942" y="504" width="5" height="34" fill="#cc0033"/>
<path d="M949.5 533V575" stroke="#cc0033" stroke-width="1" fill="none"/>
<rect x="947" y="541" width="5" height="27" fill="#cc0033"/>
<path d="M954.5 560V587" stroke="#cc0033" stroke-width="1" fill="none"/>
<rect x="952" y="569" width="5" height="17" fill="#cc0033"/>
<path d="M959.5 548V577M959.5 581V582" stroke="#000" stroke-width="1" fill="none"/>
<rect x="957.5" y="577.5" width="4" height="3" fill="none" stroke="#000" stroke-width="1"/>
<path d="M964.5 564V602" stroke="#cc0033" stroke-width="1" fill="none"/>
<rect x="962" y="575" width="5" height="12" fill="#cc0033"/>
<path d="M969.5 555V557" stroke="#000" stroke-width="1" fill="none"/>
<rect x="967.5" y="557.5" width="4" height="19" fill="none" stroke="#000" stroke-width="1"/>
<path d="M974.5 532V533M974.5 555V560" stroke="#000" stroke-width="1" fill="none"/>
<rect x="972.5" y="533.5" width="4" height="21" fill="none" stroke="#000" stroke-width="1"/>
<path d="M979.5 531V566" stroke="#cc0033" stroke-width="1" fill="none"/>
<rect x="977" y="536" width="5" height="19" fill="#cc0033"/>
<path d="M984.5 552V558" stroke="#000" stroke-width="1" fill="none"/>
<rect x="982.5" y="519.5" width="4" height="32" fill="none" stroke="#000" stroke-width="1"/>
<path d="M989.5 513V533 M987 522.5H992" stroke="#cc0033" stroke-width="1" fill="none"/>
<path d="M994.5 512V513M994.5 524V528" stroke="#000" stroke-width="1" fill="none"/>
<rect x="992.5" y="513.5" width="4" height="10" fill="none" stroke="#000" stroke-width="1"/>
<path d="M999.5 502V507M999.5 516V527" stroke="#000" stroke-width="1" fill="none"/>
<rect x="997.5" y="507.5" width="4" height="8" fill="none" stroke="#000" stroke-width="1"/>
<path d="M1004.5 509V530" stroke="#cc0033" stroke-width="1" fill="none"/>
<rect x="1002" y="509" width="5" height="19" fill="#cc0033"/>
<path d="M1009.5 501V546" stroke="#cc0033" stroke-width="1" fill="none"/>
<rect x="1007" y="527" width="5" height="15" fill="#cc0033"/>
<path d="M1014.5 535V556" stroke="#cc0033" stroke-width="1" fill="none"/>
<rect x="1012" y="540" width="5" height="3" fill="#cc0033"/>
<path d="M1019.5 540V553 M1017 543.5H1022" stroke="#cc0033" stroke-width="1" fill="none"/>
<path d="M1024.5 532V534M1024.5 540V551" stroke="#000" stroke-width="1" fill="none"/>
<rect x="1022.5" y="534.5" width="4" height="5" fill="none" stroke="#000" stroke-width="1"/>
<path d="M1029.5 517V518M1029.5 531V537" stroke="#000" stroke-width="1" fill="none"/>
<rect x="1027.5" y="518.5" width="4" height="12" fill="none" stroke="#000" stroke-width="1"/>
<path d="M1034.5 515V535" stroke="#cc0033" stroke-width="1" fill="none"/>
<rect x="1032" y="517" width="5" height="5" fill="#cc0033"/>
<path d="M1039.5 502V507M1039.5 520V526" stroke="#000" stroke-width="1" fill="none"/>
<rect x="1037.5" y="507.5" width="4" height="12" fill="none" stroke="#000" stroke-width="1"/>
<path d="M1044.5 487V496M1044.5 509V514" stroke="#000" stroke-width="1" fill="none"/>
<rect x="1042.5" y="496.5" width="4" height="12" fill="none" stroke="#000" stroke-width="1"/>
<path d="M1049.5 490V508" stroke="#cc0033" stroke-width="1" fill="none"/>
<rect x="1047" y="499" width="5" height="5" fill="#cc0033"/>
<path d="M1054.5 493V511" stroke="#cc0033" stroke-width="1" fill="none"/>
<rect x="1052" y="502" width="5" height="4" fill="#cc0033"/>
<path d="M1059.5 509V527" stroke="#cc0033" stroke-width="1" fill="none"/>
<rect x="1057" y="509" width="5" height="14" fill="#cc0033"/>
<path d="M1064.5 510V511M1064.5 518V528" stroke="#000" stroke-width="1" fill="none"/>
<rect x="1062.5" y="511.5" width="4" height="6" fill="none" stroke="#000" stroke-width="1"/>
<path d="M1069.5 505V543" stroke="#cc0033" stroke-width="1" fill="none"/>
<rect x="1067" y="508" width="5" height="32" fill="#cc0033"/>
<path d="M1074.5 523V525M1074.5 544V548" stroke="#000" stroke-width="1" fill="none"/>
<rect x="1072.5" y="525.5" width="4" height="18" fill="none" stroke="#000" stroke-width="1"/>
<path d="M1079.5 511V522M1079.5 531V532" stroke="#000" stroke-width="1" fill="none"/>
<rect x="1077.5" y="522.5" width="4" height="8" fill="none" stroke="#000" stroke-width="1"/>
<path d="M1084.5 521V526" stroke="#000" stroke-width="1" fill="none"/>
<rect x="1082.5" y="500.5" width="4" height="20" fill="none" stroke="#000" stroke-width="1"/>
<path d="M1089.5 497V507 M1087 501.5H1092" stroke="#cc0033" stroke-width="1" fill="none"/>
<path d="M1094.5 492V496M1094.5 505V507" stroke="#000" stroke-width="1" fill="none"/>
<rect x="1092.5" y="496.5" width="4" height="8" fill="none" stroke="#000" stroke-width="1"/>
<path d="M1099.5 491V500 M1097 496.5H1102" stroke="#cc0033" stroke-width="1" fill="none"/>
<path d="M1104.5 491V492M1104.5 497V510" stroke="#000" stroke-width="1" fill="none"/>
<rect x="1102.5" y="492.5" width="4" height="4" fill="none" stroke="#000" stroke-width="1"/>
<path d="M1109.5 488V511" stroke="#cc0033" stroke-width="1" fill="none"/>
<rect x="1107" y="491" width="5" height="5" fill="#cc0033"/>
<path d="M1114.5 493V503" stroke="#cc0033" stroke-width="1" fill="none"/>
<rect x="1112" y="495" width="5" height="3" fill="#cc0033"/>
<path d="M1119.5 485V488M1119.5 499V501" stroke="#000" stroke-width="1" fill="none"/>
<rect x="1117.5" y="488.5" width="4" height="10" fill="none" stroke="#000" stroke-width="1"/>
<path d="M1124.5 485V486M1124.5 489V502" stroke="#000" stroke-width="1" fill="none"/>
<rect x="1122.5" y="486.5" width="4" height="2" fill="none" stroke="#000" stroke-width="1"/>
<path d="M1129.5 473V474M1129.5 484V493" stroke="#000" stroke-width="1" fill="none"/>
<rect x="1127.5" y="474.5" width="4" height="9" fill="none" stroke="#000" stroke-width="1"/>
<path d="M1134.5 469V472M1134.5 475V478" stroke="#000" stroke-width="1" fill="none"/>
<rect x="1132.5" y="472.5" width="4" height="2" fill="none" stroke="#000" stroke-width="1"/>
<path d="M1139.5 451V456" stroke="#000" stroke-width="1" fill="none"/>
<rect x="1137.5" y="456.5" width="4" height="15" fill="none" stroke="#000" stroke-width="1"/>
<path d="M1144.5 453V467" stroke="#cc0033" stroke-width="1" fill="none"/>
<rect x="1142" y="458" width="5" height="8" fill="#cc0033"/>
<path d="M1149.5 449V450M1149.5 465V469" stroke="#000" stroke-width="1" fill="none"/>
<rect x="1147.5" y="450.5" width="4" height="14" fill="none" stroke="#000" stroke-width="1"/>
<path d="M1154.5 449V461" stroke="#cc0033" stroke-width="1" fill="none"/>
<rect x="1152" y="450" width="5" height="8" fill="#cc0033"/>
<path d="M1159.5 439V443M1159.5 458V460" stroke="#000" stroke-width="1" fill="none"/>
<rect x="1157.5" y="443.5" width="4" height="14" fill="none" stroke="#000" stroke-width="1"/>
<path d="M1164.5 434V438M1164.5 443V444" stroke="#000" stroke-width="1" fill="none"/>
<rect x="1162.5" y="438.5" width="4" height="4" fill="none" stroke="#000" stroke-width="1"/>
<path d="M1169.5 429V432M1169.5 437V440" stroke="#000" stroke-width="1" fill="none"/>
<rect x="1167.5" y="432.5" width="4" height="4" fill="none" stroke="#000" stroke-width="1"/>
<path d="M1174.5 430V448" stroke="#cc0033" stroke-width="1" fill="none"/>
<rect x="1172" y="432" width="5" height="15" fill="#cc0033"/>
<path d="M1179.5 440V452" stroke="#cc0033" stroke-width="1" fill="none"/>
<rect x="1177" y="445" width="5" height="4" fill="#cc0033"/>
<path d="M1184.5 445V468" stroke="#cc0033" stroke-width="1" fill="none"/>
<rect x="1182" y="449" width="5" height="14" fill="#cc0033"/>
<path d="M1189.5 449V458M1189.5 461V465" stroke="#000" stroke-width="1" fill="none"/>
<rect x="1187.5" y="458.5" width="4" height="2" fill="none" stroke="#000" stroke-width="1"/>
<path d="M1194.5 438V442M1194.5 454V455" stroke="#000" stroke-width="1" fill="none"/>
<rect x="1192.5" y="442.5" width="4" height="11" fill="none" stroke="#000" stroke-width="1"/>
<path d="M1199.5 442V453" stroke="#cc0033" stroke-width="1" fill="none"/>
<rect x="1197" y="442" width="5" height="7" fill="#cc0033"/>
<path d="M1204.5 442V452" stroke="#cc0033" stroke-width="1" fill="none"/>
<rect x="1202" y="446" width="5" height="4" fill="#cc0033"/>
<path d="M1209.5 448V470" stroke="#cc0033" stroke-width="1" fill="none"/>
<rect x="1207" y="451" width="5" height="19" fill="#cc0033"/>
<path d="M1214.5 466V482" stroke="#cc0033" stroke-width="1" fill="none"/>
<rect x="1212" y="470" width="5" height="5" fill="#cc0033"/>
<path d="M1219.5 468V472M1219.5 475V485" stroke="#000" stroke-width="1" fill="none"/>
<rect x="1217.5" y="472.5" width="4" height="2" fill="none" stroke="#000" stroke-width="1"/>
<path d="M1224.5 459V469M1224.5 474V475" stroke="#000" stroke-width="1" fill="none"/>
<rect x="1222.5" y="469.5" width="4" height="4" fill="none" stroke="#000" stroke-width="1"/>
<path d="M1229.5 458V484" stroke="#cc0033" stroke-width="1" fill="none"/>
<rect x="1227" y="466" width="5" height="18" fill="#cc0033"/>
<path d="M1234.5 478V502" stroke="#cc0033" stroke-width="1" fill="none"/>
<rect x="1232" y="485" width="5" height="15" fill="#cc0033"/>
<path d="M1239.5 462V464M1239.5 496V498" stroke="#000" stroke-width="1" fill="none"/>
<rect x="1237.5" y="464.5" width="4" height="31" fill="none" stroke="#000" stroke-width="1"/>
<path d="M1244.5 463V466" stroke="#000" stroke-width="1" fill="none"/>
<rect x="1242.5" y="456.5" width="4" height="6" fill="none" stroke="#000" stroke-width="1"/>
<path d="M1249.5 440V442M1249.5 455V459" stroke="#000" stroke-width="1" fill="none"/>
<rect x="1247.5" y="442.5" width="4" height="12" fill="none" stroke="#000" stroke-width="1"/>
<path d="M1254.5 434V435M1254.5 442V443" stroke="#000" stroke-width="1" fill="none"/>
<rect x="1252.5" y="435.5" width="4" height="6" fill="none" stroke="#000" stroke-width="1"/>
<path d="M1259.5 436V439" stroke="#000" stroke-width="1" fill="none"/>
<rect x="1257.5" y="430.5" width="4" height="5" fill="none" stroke="#000" stroke-width="1"/>
<path d="M1264.5 428V430M1264.5 434V438" stroke="#000" stroke-width="1" fill="none"/>
<rect x="1262.5" y="430.5" width="4" height="3" fill="none" stroke="#000" stroke-width="1"/>
<path d="M1269.5 412V414M1269.5 430V431" stroke="#000" stroke-width="1" fill="none"/>
<rect x="1267.5" y="414.5" width="4" height="15" fill="none" stroke="#000" stroke-width="1"/>
<path d="M1274.5 406V410M1274.5 413V416" stroke="#000" stroke-width="1" fill="none"/>
<rect x="1272.5" y="410.5" width="4" height="2" fill="none" stroke="#000" stroke-width="1"/>
<path d="M1279.5 404V410 M1277 408.5H1282" stroke="#000" stroke-width="1" fill="none"/>
<path d="M1284.5 408V420" stroke="#cc0033" stroke-width="1" fill="none"/>
<rect x="1282" y="410" width="5" height="7" fill="#cc0033"/>
<path d="M1289.5 404V405" stroke="#000" stroke-width="1" fill="none"/>
<rect x="1287.5" y="405.5" width="4" height="10" fill="none" stroke="#000" stroke-width="1"/>
<path d="M1294.5 397V398M1294.5 407V415" stroke="#000" stroke-width="1" fill="none"/>
<rect x="1292.5" y="398.5" width="4" height="8" fill="none" stroke="#000" stroke-width="1"/>
<path d="M1299.5 389V391M1299.5 397V398" stroke="#000" stroke-width="1" fill="none"/>
<rect x="1297.5" y="391.5" width="4" height="5" fill="none" stroke="#000" stroke-width="1"/>
<path d="M1304.5 381V383M1304.5 392V397" stroke="#000" stroke-width="1" fill="none"/>
<rect x="1302.5" y="383.5" width="4" height="8" fill="none" stroke="#000" stroke-width="1"/>
<path d="M1309.5 383V389" stroke="#000" stroke-width="1" fill="none"/>
<rect x="1307.5" y="374.5" width="4" height="8" fill="none" stroke="#000" stroke-width="1"/>
<path d="M1314.5 371V388" stroke="#cc0033" stroke-width="1" fill="none"/>
<rect x="1312" y="374" width="5" height="4" fill="#cc0033"/>
<path d="M1319.5 364V366M1319.5 380V385" stroke="#000" stroke-width="1" fill="none"/>
<rect x="1317.5" y="366.5" width="4" height="13" fill="none" stroke="#000" stroke-width="1"/>
<path d="M1324.5 367V371" stroke="#000" stroke-width="1" fill="none"/>
<rect x="1322.5" y="360.5" width="4" height="6" fill="none" stroke="#000" stroke-width="1"/>
<path d="M1329.5 354V371 M1327 362.5H1332" stroke="#cc0033" stroke-width="1" fill="none"/>
<path d="M1334.5 355V367" stroke="#cc0033" stroke-width="1" fill="none"/>
<rect x="1332" y="363" width="5" height="2" fill="#cc0033"/>
<path d="M1339.5 346V349M1339.5 359V361" stroke="#000" stroke-width="1" fill="none"/>
<rect x="1337.5" y="349.5" width="4" height="9" fill="none" stroke="#000" stroke-width="1"/>
<path d="M1344.5 345V346" stroke="#000" stroke-width="1" fill="none"/>
<rect x="1342.5" y="346.5" width="4" height="4" fill="none" stroke="#000" stroke-width="1"/>
<path d="M1349.5 345V360" stroke="#cc0033" stroke-width="1" fill="none"/>
<rect x="1347" y="346" width="5" height="5" fill="#cc0033"/>
<path d="M1354.5 350V364" stroke="#cc0033" stroke-width="1" fill="none"/>
<rect x="1352" y="353" width="5" height="10" fill="#cc0033"/>
<path d="M1359.5 357V384" stroke="#cc0033" stroke-width="1" fill="none"/>
<rect x="1357" y="359" width="5" height="24" fill="#cc0033"/>
<path d="M1364.5 363V365M1364.5 380V382" stroke="#000" stroke-width="1" fill="none"/>
<rect x="1362.5" y="365.5" width="4" height="14" fill="none" stroke="#000" stroke-width="1"/>
<path d="M1369.5 360V377 M1367 363.5H1372" stroke="#000" stroke-width="1" fill="none"/>
<path d="M1374.5 348V350" stroke="#000" stroke-width="1" fill="none"/>
<rect x="1372.5" y="350.5" width="4" height="9" fill="none" stroke="#000" stroke-width="1"/>
<path d="M1379.5 338V341M1379.5 350V351" stroke="#000" stroke-width="1" fill="none"/>
<rect x="1377.5" y="341.5" width="4" height="8" fill="none" stroke="#000" stroke-width="1"/>
<path d="M1384.5 336V347 M1382 340.5H1387" stroke="#000" stroke-width="1" fill="none"/>
<path d="M1389.5 339V355" stroke="#cc0033" stroke-width="1" fill="none"/>
<rect x="1387" y="339" width="5" height="6" fill="#cc0033"/>
<path d="M1394.5 332V335M1394.5 341V350" stroke="#000" stroke-width="1" fill="none"/>
<rect x="1392.5" y="335.5" width="4" height="5" fill="none" stroke="#000" stroke-width="1"/>
<path d="M1399.5 337V339" stroke="#000" stroke-width="1" fill="none"/>
<rect x="1397.5" y="326.5" width="4" height="10" fill="none" stroke="#000" stroke-width="1"/>
<path d="M1404.5 317V322M1404.5 327V328" stroke="#000" stroke-width="1" fill="none"/>
<rect x="1402.5" y="322.5" width="4" height="4" fill="none" stroke="#000" stroke-width="1"/>
<path d="M1409.5 315V325 M1407 322.5H1412" stroke="#cc0033" stroke-width="1" fill="none"/>
<path d="M1414.5 322V325" stroke="#000" stroke-width="1" fill="none"/>
<rect x="1412.5" y="310.5" width="4" height="11" fill="none" stroke="#000" stroke-width="1"/>
<path d="M1419.5 300V308" stroke="#000" stroke-width="1" fill="none"/>
<rect x="1417.5" y="308.5" width="4" height="2" fill="none" stroke="#000" stroke-width="1"/>
<path d="M1424.5 299V318" stroke="#cc0033" stroke-width="1" fill="none"/>
<rect x="1422" y="302" width="5" height="16" fill="#cc0033"/>
<path d="M1429.5 308V331" stroke="#cc0033" stroke-width="1" fill="none"/>
<rect x="1427" y="313" width="5" height="9" fill="#cc0033"/>
<path d="M1434.5 310V342" stroke="#cc0033" stroke-width="1" fill="none"/>
<rect x="1432" y="320" width="5" height="16" fill="#cc0033"/>
<path d="M1439.5 334V336M1439.5 359V364" stroke="#cc0033" stroke-width="1" fill="none"/>
<rect x="1437.5" y="336.5" width="4" height="22" fill="none" stroke="#cc0033" stroke-width="1"/>
<path d="M1444.5 311V312M1444.5 335V339" stroke="#000" stroke-width="1" fill="none"/>
<rect x="1442.5" y="312.5" width="4" height="22" fill="none" stroke="#000" stroke-width="1"/>
<path d="M1449.5 302V304M1449.5 312V313" stroke="#000" stroke-width="1" fill="none"/>
<rect x="1447.5" y="304.5" width="4" height="7" fill="none" stroke="#000" stroke-width="1"/>
<path d="M1454.5 301V312" stroke="#000" stroke-width="1" fill="none"/>
<rect x="1452" y="301" width="5" height="1" fill="#000"/>
<path d="M1459.5 304V330" stroke="#cc0033" stroke-width="1" fill="none"/>
<rect x="1457" y="308" width="5" height="21" fill="#cc0033"/>
<path d="M1464.5 302V304M1464.5 324V329" stroke="#000" stroke-width="1" fill="none"/>
<rect x="1462.5" y="304.5" width="4" height="19" fill="none" stroke="#000" stroke-width="1"/>
<path d="M1469.5 292V295" stroke="#000" stroke-width="1" fill="none"/>
<rect x="1467.5" y="295.5" width="4" height="8" fill="none" stroke="#000" stroke-width="1"/>
<path d="M1474.5 288V291M1474.5 294V296" stroke="#000" stroke-width="1" fill="none"/>
<rect x="1472.5" y="291.5" width="4" height="2" fill="none" stroke="#000" stroke-width="1"/>
<path d="M1479.5 288V291M1479.5 293V299" stroke="#000" stroke-width="1" fill="none"/>
<rect x="1477.5" y="291.5" width="4" height="1" fill="none" stroke="#000" stroke-width="1"/>
<path d="M1484.5 282V283M1484.5 291V298" stroke="#000" stroke-width="1" fill="none"/>
<rect x="1482.5" y="283.5" width="4" height="7" fill="none" stroke="#000" stroke-width="1"/>
<path d="M1489.5 276V278M1489.5 281V285" stroke="#000" stroke-width="1" fill="none"/>
<rect x="1487.5" y="278.5" width="4" height="2" fill="none" stroke="#000" stroke-width="1"/>
<path d="M1494.5 277V290" stroke="#cc0033" stroke-width="1" fill="none"/>
<rect x="1492" y="278" width="5" height="7" fill="#cc0033"/>
<path d="M1499.5 279V296" stroke="#cc0033" stroke-width="1" fill="none"/>
<rect x="1497" y="281" width="5" height="12" fill="#cc0033"/>
<path d="M1504.5 262V264M1504.5 293V297" stroke="#000" stroke-width="1" fill="none"/>
<rect x="1502.5" y="264.5" width="4" height="28" fill="none" stroke="#000" stroke-width="1"/>
<path d="M1509.5 261V280" stroke="#cc0033" stroke-width="1" fill="none"/>
<rect x="1507" y="262" width="5" height="16" fill="#cc0033"/>
<path d="M1514.5 271V273M1514.5 277V280" stroke="#000" stroke-width="1" fill="none"/>
<rect x="1512.5" y="273.5" width="4" height="3" fill="none" stroke="#000" stroke-width="1"/>
<rect x="47.5" y="304" width="1474" height="4" fill="#00ee00"/>
<rect x="47.5" y="351" width="1474" height="2" fill="#00ee00"/>
<rect x="47.5" y="403" width="1474" height="1" fill="#00ee00"/>
<rect x="47.5" y="455" width="1474" height="3" fill="#0000ee"/>
<rect x="47.5" y="517" width="1474" height="1" fill="#ee0000"/>
<rect x="47.5" y="581" width="1474" height="2" fill="#ee0000"/>
<rect x="47.5" y="656" width="1474" height="4" fill="#ee0000"/>
<polygon shape-rendering="geometricPrecision" points="224.7,99.3 229.5,92.8 234.5,89.6 239.5,91.5 244.5,87.5 249.5,81.3 254.5,94.4 255.7,99.3" fill="#7a9a7c"/>
<polygon shape-rendering="geometricPrecision" points="264.5,99.3 264.5,99.2 269.5,94.4 271.6,99.3" fill="#7a9a7c"/>
<polygon shape-rendering="geometricPrecision" points="569.2,99.3 569.5,98.8 574.5,95.2 579.5,96.3 584.5,96.3 589.5,92.4 592.7,99.3" fill="#7a9a7c"/>
<polygon shape-rendering="geometricPrecision" points="612.1,99.3 614.5,98.4 614.8,99.3" fill="#7a9a7c"/>
<polygon shape-rendering="geometricPrecision" points="628,99.3 629.5,97.6 634.5,96.4 636.3,99.3" fill="#7a9a7c"/>
<polygon shape-rendering="geometricPrecision" points="643.2,99.3 644.5,97.6 647.5,99.3" fill="#7a9a7c"/>
<polygon shape-rendering="geometricPrecision" points="651.5,99.3 654.5,97.6 659.5,94.4 663.6,99.3" fill="#7a9a7c"/>
<polygon shape-rendering="geometricPrecision" points="665.4,99.3 669.5,94.4 674.5,92.4 676.7,99.3" fill="#7a9a7c"/>
<polygon shape-rendering="geometricPrecision" points="715.1,99.3 719.5,94.4 724.5,97.6 729.5,96.4 730.2,99.3" fill="#7a9a7c"/>
<polygon shape-rendering="geometricPrecision" points="1168,99.3 1169.5,98.4 1169.8,99.3" fill="#7a9a7c"/>
<polygon shape-rendering="geometricPrecision" points="1298.3,99.3 1299.5,98.4 1304.5,93.2 1309.5,89.6 1314.5,93.6 1319.5,88 1324.5,85.3 1329.5,87.2 1334.5,89.6 1339.5,81.9 1344.5,80.5 1349.5,91.5 1352.3,99.3" fill="#7a9a7c"/>
<polygon shape-rendering="geometricPrecision" points="1395.1,99.3 1399.5,94.4 1404.5,92.4 1409.5,93.6 1414.5,86.4 1419.5,83.5 1423.7,99.3" fill="#7a9a7c"/>
<polygon shape-rendering="geometricPrecision" points="289.5,184 294.5,202.3 298,184" fill="#b85c6e"/>
<path d="M47.5 99.5H1521.5 M47.5 184.5H1521.5" stroke="#555" stroke-width="1" fill="none"/>
<path d="M47.5 141.5H1521.5" stroke="#555" stroke-width="1" stroke-dasharray="8 2 3 2" stroke-dashoffset="8.7" fill="none"/>
<polyline shape-rendering="geometricPrecision" points="47.5,115.5 49.5,115.5 54.5,116.4 59.5,111.5 64.5,111.5 69.5,125.2 74.5,130.3 79.5,137.5 84.5,151.4 89.5,130.3 94.5,128.4 99.5,119.5 104.5,121.2 109.5,114.3 114.5,111.5 119.5,120.4 124.5,113.5 129.5,132.4 134.5,135.1 139.5,139.9 144.5,148.2 149.5,134.3 154.5,126 159.5,122.3 164.5,125.2 169.5,131.1 174.5,133.5 179.5,130.3 184.5,127.5 189.5,120.4 194.5,113.5 199.5,109.2 204.5,105.6 209.5,108.3 214.5,104.4 219.5,103.2 224.5,99.6 229.5,92.8 234.5,89.6 239.5,91.5 244.5,87.5 249.5,81.3 254.5,94.4 259.5,115.5 264.5,99.2 269.5,94.4 274.5,106.4 279.5,165.2 284.5,162.3 289.5,183.9 294.5,202.3 299.5,176.4 304.5,179.1 309.5,153.2 314.5,147.4 319.5,149.2 324.5,150.6 329.5,142.3 334.5,147.4 339.5,139.9 344.5,133.2 349.5,123.5 354.5,136.2 359.5,132.4 364.5,139.1 369.5,130.3 374.5,126.3 379.5,124.4 384.5,125.2 389.5,121.2 394.5,115.5 399.5,113.5 404.5,112.3 409.5,104.4 414.5,115.5 419.5,125.2 424.5,127.5 429.5,130.3 434.5,125.2 439.5,114.7 444.5,113.5 449.5,116.4 454.5,141.2 459.5,120.4 464.5,115.5 469.5,118.3 474.5,112.3 479.5,108.3 484.5,112.3 489.5,109.2 494.5,110.4 499.5,106.4 504.5,101.2 509.5,110.4 514.5,104.4 519.5,122.3 524.5,109.2 529.5,105.6 534.5,109.6 539.5,122.3 544.5,119.5 549.5,111.5 554.5,115.5 559.5,110.4 564.5,107.2 569.5,98.8 574.5,95.2 579.5,96.3 584.5,96.3 589.5,92.4 594.5,103.2 599.5,106.4 604.5,102.4 609.5,100.3 614.5,98.4 619.5,114.3 624.5,103.5 629.5,97.6 634.5,96.4 639.5,104.4 644.5,97.6 649.5,100.4 654.5,97.6 659.5,94.4 664.5,100.4 669.5,94.4 674.5,92.4 679.5,108 684.5,113.2 689.5,111.5 694.5,129.2 699.5,125.2 704.5,114.3 709.5,105.6 714.5,100 719.5,94.4 724.5,97.6 729.5,96.4 734.5,115.9 739.5,126 744.5,108.4 749.5,122.3 754.5,112.3 759.5,109.6 764.5,122.3 769.5,124.4 774.5,154.3 779.5,150.6 784.5,143.4 789.5,151.1 794.5,157.2 799.5,153.2 804.5,158.3 809.5,169.5 814.5,140.7 819.5,134.3 824.5,134.3 829.5,139.1 834.5,148.7 839.5,159.1 844.5,169.2 849.5,170.6 854.5,176.4 859.5,183.4 864.5,156.4 869.5,159.4 874.5,171.9 879.5,183.4 884.5,162.6 889.5,167.4 894.5,161.2 899.5,163.4 904.5,154.3 909.5,142.3 914.5,141.2 919.5,131.5 924.5,135.4 929.5,147.1 934.5,157.2 939.5,146.3 944.5,157.5 949.5,167.1 954.5,172.4 959.5,168.4 964.5,170.3 969.5,156.4 974.5,146.3 979.5,154.3 984.5,139.1 989.5,141.2 994.5,137.2 999.5,134.3 1004.5,143.4 1009.5,149.2 1014.5,150.6 1019.5,150.6 1024.5,146.3 1029.5,136.4 1034.5,139.1 1039.5,131.1 1044.5,126 1049.5,130.3 1054.5,132.7 1059.5,143.1 1064.5,135.4 1069.5,152.4 1074.5,147.4 1079.5,142.3 1084.5,130.3 1089.5,130.3 1094.5,127.5 1099.5,128.4 1104.5,124.4 1109.5,129.2 1114.5,130.3 1119.5,123.9 1124.5,122.3 1129.5,114.8 1134.5,113.2 1139.5,103.2 1144.5,113.2 1149.5,104.4 1154.5,112.3 1159.5,104.8 1164.5,101.6 1169.5,98.4 1174.5,115.1 1179.5,117.2 1184.5,131.5 1189.5,127.5 1194.5,116.4 1199.5,124.4 1204.5,125.5 1209.5,142.3 1214.5,146.6 1219.5,143.9 1224.5,141.8 1229.5,154.3 1234.5,165.5 1239.5,136.4 1244.5,131.1 1249.5,122.3 1254.5,118.3 1259.5,115.5 1264.5,114.3 1269.5,105.6 1274.5,103.5 1279.5,102.4 1284.5,113.5 1289.5,107.2 1294.5,102.4 1299.5,98.4 1304.5,93.2 1309.5,89.6 1314.5,93.6 1319.5,88 1324.5,85.3 1329.5,87.2 1334.5,89.6 1339.5,81.9 1344.5,80.5 1349.5,91.5 1354.5,105.6 1359.5,130.3 1364.5,118.3 1369.5,115.1 1374.5,108 1379.5,101.6 1384.5,101.6 1389.5,106.4 1394.5,100 1399.5,94.4 1404.5,92.4 1409.5,93.6 1414.5,86.4 1419.5,83.5 1424.5,102.4 1429.5,111.2 1434.5,127.1 1439.5,128.4 1444.5,108.3 1449.5,103.5 1454.5,102.3 1459.5,133.5 1464.5,116.3 1469.5,111.5 1474.5,109.5 1479.5,108.3 1484.5,104.3 1489.5,101.3 1494.5,109.5 1499.5,119.5 1504.5,101.1 1509.5,115.5 1514.5,112.3" fill="none" stroke="#111" stroke-width="1.15" stroke-linejoin="round"/>
<ellipse shape-rendering="geometricPrecision" cx="241.9" cy="93.2" rx="17.9" ry="15.5" fill="none" stroke="#e60000" stroke-width="2"/>
<ellipse shape-rendering="geometricPrecision" cx="721.6" cy="96.8" rx="12.5" ry="13.6" fill="none" stroke="#e60000" stroke-width="2"/>
<ellipse shape-rendering="geometricPrecision" cx="1164.4" cy="104.8" rx="9.9" ry="12.8" fill="none" stroke="#e60000" stroke-width="2"/>
<ellipse shape-rendering="geometricPrecision" cx="1304.5" cy="96" rx="14.9" ry="15.7" fill="none" stroke="#e60000" stroke-width="2"/>
<ellipse shape-rendering="geometricPrecision" cx="1414.4" cy="94.4" rx="20" ry="15.2" fill="none" stroke="#e60000" stroke-width="2"/>
<rect x="47.5" y="1024.5" width="5" height="16" fill="#5ba6ce" stroke="#2a6c94" stroke-width="1"/>
<rect x="52.5" y="1024.5" width="5" height="16" fill="#5ba6ce" stroke="#2a6c94" stroke-width="1"/>
<rect x="57.5" y="1024.5" width="5" height="16" fill="#5ba6ce" stroke="#2a6c94" stroke-width="1"/>
<rect x="62.5" y="1025.5" width="5" height="15" fill="#5ba6ce" stroke="#2a6c94" stroke-width="1"/>
<rect x="67.5" y="1029.5" width="5" height="11" fill="#5ba6ce" stroke="#2a6c94" stroke-width="1"/>
<rect x="72.5" y="1033.5" width="5" height="7" fill="#5ba6ce" stroke="#2a6c94" stroke-width="1"/>
<rect x="77.5" y="1037.5" width="5" height="3" fill="#5ba6ce" stroke="#2a6c94" stroke-width="1"/>
<rect x="82.5" y="1040.5" width="5" height="3" fill="#5ba6ce" stroke="#2a6c94" stroke-width="1"/>
<rect x="87.5" y="1040.5" width="5" height="2" fill="#5ba6ce" stroke="#2a6c94" stroke-width="1"/>
<rect x="92.5" y="1040.5" width="5" height="1" fill="#5ba6ce" stroke="#2a6c94" stroke-width="1"/>
<rect x="97.5" y="1038.5" width="5" height="2" fill="#5ba6ce" stroke="#2a6c94" stroke-width="1"/>
<rect x="102.5" y="1037.5" width="5" height="3" fill="#5ba6ce" stroke="#2a6c94" stroke-width="1"/>
<rect x="107.5" y="1035.5" width="5" height="5" fill="#5ba6ce" stroke="#2a6c94" stroke-width="1"/>
<rect x="112.5" y="1033.5" width="5" height="7" fill="#5ba6ce" stroke="#2a6c94" stroke-width="1"/>
<rect x="117.5" y="1034.5" width="5" height="6" fill="#5ba6ce" stroke="#2a6c94" stroke-width="1"/>
<rect x="122.5" y="1033.5" width="5" height="7" fill="#5ba6ce" stroke="#2a6c94" stroke-width="1"/>
<rect x="127.5" y="1037.5" width="5" height="3" fill="#5ba6ce" stroke="#2a6c94" stroke-width="1"/>
<rect x="132.5" y="1040.5" width="5" height="1" fill="#5ba6ce" stroke="#2a6c94" stroke-width="1"/>
<rect x="137.5" y="1040.5" width="5" height="4" fill="#5ba6ce" stroke="#2a6c94" stroke-width="1"/>
<rect x="142.5" y="1040.5" width="5" height="8" fill="#5ba6ce" stroke="#2a6c94" stroke-width="1"/>
<rect x="147.5" y="1040.5" width="5" height="7" fill="#5ba6ce" stroke="#2a6c94" stroke-width="1"/>
<rect x="152.5" y="1040.5" width="5" height="5" fill="#5ba6ce" stroke="#2a6c94" stroke-width="1"/>
<rect x="157.5" y="1040.5" width="5" height="2" fill="#5ba6ce" stroke="#2a6c94" stroke-width="1"/>
<rect x="162" y="1040" width="5" height="1" fill="#2f7199"/>
<rect x="167.5" y="1040.5" width="5" height="1" fill="#5ba6ce" stroke="#2a6c94" stroke-width="1"/>
<rect x="172.5" y="1040.5" width="5" height="2" fill="#5ba6ce" stroke="#2a6c94" stroke-width="1"/>
<rect x="177.5" y="1040.5" width="5" height="2" fill="#5ba6ce" stroke="#2a6c94" stroke-width="1"/>
<rect x="182.5" y="1040.5" width="5" height="1" fill="#5ba6ce" stroke="#2a6c94" stroke-width="1"/>
<rect x="187" y="1040" width="5" height="1" fill="#2f7199"/>
<rect x="192.5" y="1037.5" width="5" height="3" fill="#5ba6ce" stroke="#2a6c94" stroke-width="1"/>
<rect x="197.5" y="1035.5" width="5" height="5" fill="#5ba6ce" stroke="#2a6c94" stroke-width="1"/>
<rect x="202.5" y="1033.5" width="5" height="7" fill="#5ba6ce" stroke="#2a6c94" stroke-width="1"/>
<rect x="207.5" y="1033.5" width="5" height="7" fill="#5ba6ce" stroke="#2a6c94" stroke-width="1"/>
<rect x="212.5" y="1032.5" width="5" height="8" fill="#5ba6ce" stroke="#2a6c94" stroke-width="1"/>
<rect x="217.5" y="1032.5" width="5" height="8" fill="#5ba6ce" stroke="#2a6c94" stroke-width="1"/>
<rect x="222.5" y="1032.5" width="5" height="8" fill="#5ba6ce" stroke="#2a6c94" stroke-width="1"/>
<rect x="227.5" y="1031.5" width="5" height="9" fill="#5ba6ce" stroke="#2a6c94" stroke-width="1"/>
<rect x="232.5" y="1030.5" width="5" height="10" fill="#5ba6ce" stroke="#2a6c94" stroke-width="1"/>
<rect x="237.5" y="1031.5" width="5" height="9" fill="#5ba6ce" stroke="#2a6c94" stroke-width="1"/>
<rect x="242.5" y="1031.5" width="5" height="9" fill="#5ba6ce" stroke="#2a6c94" stroke-width="1"/>
<rect x="247.5" y="1029.5" width="5" height="11" fill="#5ba6ce" stroke="#2a6c94" stroke-width="1"/>
<rect x="252.5" y="1030.5" width="5" height="10" fill="#5ba6ce" stroke="#2a6c94" stroke-width="1"/>
<rect x="257.5" y="1035.5" width="5" height="5" fill="#5ba6ce" stroke="#2a6c94" stroke-width="1"/>
<rect x="262.5" y="1034.5" width="5" height="6" fill="#5ba6ce" stroke="#2a6c94" stroke-width="1"/>
<rect x="267.5" y="1033.5" width="5" height="7" fill="#5ba6ce" stroke="#2a6c94" stroke-width="1"/>
<rect x="272.5" y="1034.5" width="5" height="6" fill="#5ba6ce" stroke="#2a6c94" stroke-width="1"/>
<rect x="277.5" y="1040.5" width="5" height="10" fill="#5ba6ce" stroke="#2a6c94" stroke-width="1"/>
<rect x="282.5" y="1040.5" width="5" height="20" fill="#5ba6ce" stroke="#2a6c94" stroke-width="1"/>
<rect x="287.5" y="1040.5" width="5" height="34" fill="#5ba6ce" stroke="#2a6c94" stroke-width="1"/>
<rect x="292.5" y="1040.5" width="5" height="58" fill="#5ba6ce" stroke="#2a6c94" stroke-width="1"/>
<rect x="297.5" y="1040.5" width="5" height="61" fill="#5ba6ce" stroke="#2a6c94" stroke-width="1"/>
<rect x="302.5" y="1040.5" width="5" height="60" fill="#5ba6ce" stroke="#2a6c94" stroke-width="1"/>
<rect x="307.5" y="1040.5" width="5" height="46" fill="#5ba6ce" stroke="#2a6c94" stroke-width="1"/>
<rect x="312.5" y="1040.5" width="5" height="30" fill="#5ba6ce" stroke="#2a6c94" stroke-width="1"/>
<rect x="317.5" y="1040.5" width="5" height="23" fill="#5ba6ce" stroke="#2a6c94" stroke-width="1"/>
<rect x="322.5" y="1040.5" width="5" height="15" fill="#5ba6ce" stroke="#2a6c94" stroke-width="1"/>
<rect x="327.5" y="1040.5" width="5" height="6" fill="#5ba6ce" stroke="#2a6c94" stroke-width="1"/>
<rect x="332.5" y="1040.5" width="5" height="2" fill="#5ba6ce" stroke="#2a6c94" stroke-width="1"/>
<rect x="337.5" y="1035.5" width="5" height="5" fill="#5ba6ce" stroke="#2a6c94" stroke-width="1"/>
<rect x="342.5" y="1029.5" width="5" height="11" fill="#5ba6ce" stroke="#2a6c94" stroke-width="1"/>
<rect x="347.5" y="1018.5" width="5" height="22" fill="#5ba6ce" stroke="#2a6c94" stroke-width="1"/>
<rect x="352.5" y="1018.5" width="5" height="22" fill="#5ba6ce" stroke="#2a6c94" stroke-width="1"/>
<rect x="357.5" y="1017.5" width="5" height="23" fill="#5ba6ce" stroke="#2a6c94" stroke-width="1"/>
<rect x="362.5" y="1021.5" width="5" height="19" fill="#5ba6ce" stroke="#2a6c94" stroke-width="1"/>
<rect x="367.5" y="1020.5" width="5" height="20" fill="#5ba6ce" stroke="#2a6c94" stroke-width="1"/>
<rect x="372.5" y="1018.5" width="5" height="22" fill="#5ba6ce" stroke="#2a6c94" stroke-width="1"/>
<rect x="377.5" y="1016.5" width="5" height="24" fill="#5ba6ce" stroke="#2a6c94" stroke-width="1"/>
<rect x="382.5" y="1017.5" width="5" height="23" fill="#5ba6ce" stroke="#2a6c94" stroke-width="1"/>
<rect x="387.5" y="1016.5" width="5" height="24" fill="#5ba6ce" stroke="#2a6c94" stroke-width="1"/>
<rect x="392.5" y="1015.5" width="5" height="25" fill="#5ba6ce" stroke="#2a6c94" stroke-width="1"/>
<rect x="397.5" y="1014.5" width="5" height="26" fill="#5ba6ce" stroke="#2a6c94" stroke-width="1"/>
<rect x="402.5" y="1015.5" width="5" height="25" fill="#5ba6ce" stroke="#2a6c94" stroke-width="1"/>
<rect x="407.5" y="1012.5" width="5" height="28" fill="#5ba6ce" stroke="#2a6c94" stroke-width="1"/>
<rect x="412.5" y="1016.5" width="5" height="24" fill="#5ba6ce" stroke="#2a6c94" stroke-width="1"/>
<rect x="417.5" y="1023.5" width="5" height="17" fill="#5ba6ce" stroke="#2a6c94" stroke-width="1"/>
<rect x="422.5" y="1029.5" width="5" height="11" fill="#5ba6ce" stroke="#2a6c94" stroke-width="1"/>
<rect x="427.5" y="1035.5" width="5" height="5" fill="#5ba6ce" stroke="#2a6c94" stroke-width="1"/>
<rect x="432.5" y="1038.5" width="5" height="2" fill="#5ba6ce" stroke="#2a6c94" stroke-width="1"/>
<rect x="437.5" y="1035.5" width="5" height="5" fill="#5ba6ce" stroke="#2a6c94" stroke-width="1"/>
<rect x="442.5" y="1034.5" width="5" height="6" fill="#5ba6ce" stroke="#2a6c94" stroke-width="1"/>
<rect x="447.5" y="1035.5" width="5" height="5" fill="#5ba6ce" stroke="#2a6c94" stroke-width="1"/>
<rect x="452.5" y="1040.5" width="5" height="4" fill="#5ba6ce" stroke="#2a6c94" stroke-width="1"/>
<rect x="457.5" y="1040.5" width="5" height="1" fill="#5ba6ce" stroke="#2a6c94" stroke-width="1"/>
<rect x="462.5" y="1036.5" width="5" height="4" fill="#5ba6ce" stroke="#2a6c94" stroke-width="1"/>
<rect x="467.5" y="1035.5" width="5" height="5" fill="#5ba6ce" stroke="#2a6c94" stroke-width="1"/>
<rect x="472.5" y="1032.5" width="5" height="8" fill="#5ba6ce" stroke="#2a6c94" stroke-width="1"/>
<rect x="477.5" y="1029.5" width="5" height="11" fill="#5ba6ce" stroke="#2a6c94" stroke-width="1"/>
<rect x="482.5" y="1030.5" width="5" height="10" fill="#5ba6ce" stroke="#2a6c94" stroke-width="1"/>
<rect x="487.5" y="1029.5" width="5" height="11" fill="#5ba6ce" stroke="#2a6c94" stroke-width="1"/>
<rect x="492.5" y="1031.5" width="5" height="9" fill="#5ba6ce" stroke="#2a6c94" stroke-width="1"/>
<rect x="497.5" y="1031.5" width="5" height="9" fill="#5ba6ce" stroke="#2a6c94" stroke-width="1"/>
<rect x="502.5" y="1029.5" width="5" height="11" fill="#5ba6ce" stroke="#2a6c94" stroke-width="1"/>
<rect x="507.5" y="1032.5" width="5" height="8" fill="#5ba6ce" stroke="#2a6c94" stroke-width="1"/>
<rect x="512.5" y="1032.5" width="5" height="8" fill="#5ba6ce" stroke="#2a6c94" stroke-width="1"/>
<rect x="517.5" y="1037.5" width="5" height="3" fill="#5ba6ce" stroke="#2a6c94" stroke-width="1"/>
<rect x="522.5" y="1036.5" width="5" height="4" fill="#5ba6ce" stroke="#2a6c94" stroke-width="1"/>
<rect x="527.5" y="1034.5" width="5" height="6" fill="#5ba6ce" stroke="#2a6c94" stroke-width="1"/>
<rect x="532.5" y="1034.5" width="5" height="6" fill="#5ba6ce" stroke="#2a6c94" stroke-width="1"/>
<rect x="537" y="1040" width="5" height="1" fill="#2f7199"/>
<rect x="542.5" y="1040.5" width="5" height="2" fill="#5ba6ce" stroke="#2a6c94" stroke-width="1"/>
<rect x="547.5" y="1040.5" width="5" height="1" fill="#5ba6ce" stroke="#2a6c94" stroke-width="1"/>
<rect x="552.5" y="1040.5" width="5" height="2" fill="#5ba6ce" stroke="#2a6c94" stroke-width="1"/>
<rect x="557.5" y="1040.5" width="5" height="2" fill="#5ba6ce" stroke="#2a6c94" stroke-width="1"/>
<rect x="562.5" y="1039.5" width="5" height="1" fill="#5ba6ce" stroke="#2a6c94" stroke-width="1"/>
<rect x="567.5" y="1035.5" width="5" height="5" fill="#5ba6ce" stroke="#2a6c94" stroke-width="1"/>
<rect x="572.5" y="1031.5" width="5" height="9" fill="#5ba6ce" stroke="#2a6c94" stroke-width="1"/>
<rect x="577.5" y="1030.5" width="5" height="10" fill="#5ba6ce" stroke="#2a6c94" stroke-width="1"/>
<rect x="582.5" y="1031.5" width="5" height="9" fill="#5ba6ce" stroke="#2a6c94" stroke-width="1"/>
<rect x="587.5" y="1031.5" width="5" height="9" fill="#5ba6ce" stroke="#2a6c94" stroke-width="1"/>
<rect x="592.5" y="1034.5" width="5" height="6" fill="#5ba6ce" stroke="#2a6c94" stroke-width="1"/>
<rect x="597.5" y="1038.5" width="5" height="2" fill="#5ba6ce" stroke="#2a6c94" stroke-width="1"/>
<rect x="602" y="1040" width="5" height="1" fill="#2f7199"/>
<rect x="607.5" y="1040.5" width="5" height="1" fill="#5ba6ce" stroke="#2a6c94" stroke-width="1"/>
<rect x="612.5" y="1040.5" width="5" height="1" fill="#5ba6ce" stroke="#2a6c94" stroke-width="1"/>
<rect x="617.5" y="1040.5" width="5" height="7" fill="#5ba6ce" stroke="#2a6c94" stroke-width="1"/>
<rect x="622.5" y="1040.5" width="5" height="6" fill="#5ba6ce" stroke="#2a6c94" stroke-width="1"/>
<rect x="627.5" y="1040.5" width="5" height="3" fill="#5ba6ce" stroke="#2a6c94" stroke-width="1"/>
<rect x="632" y="1040" width="5" height="1" fill="#2f7199"/>
<rect x="637.5" y="1040.5" width="5" height="2" fill="#5ba6ce" stroke="#2a6c94" stroke-width="1"/>
<rect x="642" y="1040" width="5" height="1" fill="#2f7199"/>
<rect x="647" y="1040" width="5" height="1" fill="#2f7199"/>
<rect x="652" y="1040" width="5" height="1" fill="#2f7199"/>
<rect x="657.5" y="1039.5" width="5" height="1" fill="#5ba6ce" stroke="#2a6c94" stroke-width="1"/>
<rect x="662.5" y="1040.5" width="5" height="1" fill="#5ba6ce" stroke="#2a6c94" stroke-width="1"/>
<rect x="667" y="1040" width="5" height="1" fill="#2f7199"/>
<rect x="672.5" y="1039.5" width="5" height="1" fill="#5ba6ce" stroke="#2a6c94" stroke-width="1"/>
<rect x="677.5" y="1040.5" width="5" height="2" fill="#5ba6ce" stroke="#2a6c94" stroke-width="1"/>
<rect x="682.5" y="1040.5" width="5" height="7" fill="#5ba6ce" stroke="#2a6c94" stroke-width="1"/>
<rect x="687.5" y="1040.5" width="5" height="8" fill="#5ba6ce" stroke="#2a6c94" stroke-width="1"/>
<rect x="692.5" y="1040.5" width="5" height="14" fill="#5ba6ce" stroke="#2a6c94" stroke-width="1"/>
<rect x="697.5" y="1040.5" width="5" height="15" fill="#5ba6ce" stroke="#2a6c94" stroke-width="1"/>
<rect x="702.5" y="1040.5" width="5" height="14" fill="#5ba6ce" stroke="#2a6c94" stroke-width="1"/>
<rect x="707.5" y="1040.5" width="5" height="11" fill="#5ba6ce" stroke="#2a6c94" stroke-width="1"/>
<rect x="712.5" y="1040.5" width="5" height="6" fill="#5ba6ce" stroke="#2a6c94" stroke-width="1"/>
<rect x="717.5" y="1039.5" width="5" height="1" fill="#5ba6ce" stroke="#2a6c94" stroke-width="1"/>
<rect x="722.5" y="1037.5" width="5" height="3" fill="#5ba6ce" stroke="#2a6c94" stroke-width="1"/>
<rect x="727.5" y="1035.5" width="5" height="5" fill="#5ba6ce" stroke="#2a6c94" stroke-width="1"/>
<rect x="732.5" y="1039.5" width="5" height="1" fill="#5ba6ce" stroke="#2a6c94" stroke-width="1"/>
<rect x="737.5" y="1040.5" width="5" height="5" fill="#5ba6ce" stroke="#2a6c94" stroke-width="1"/>
<rect x="742.5" y="1040.5" width="5" height="2" fill="#5ba6ce" stroke="#2a6c94" stroke-width="1"/>
<rect x="747.5" y="1040.5" width="5" height="4" fill="#5ba6ce" stroke="#2a6c94" stroke-width="1"/>
<rect x="752.5" y="1040.5" width="5" height="2" fill="#5ba6ce" stroke="#2a6c94" stroke-width="1"/>
<rect x="757" y="1040" width="5" height="1" fill="#2f7199"/>
<rect x="762.5" y="1040.5" width="5" height="2" fill="#5ba6ce" stroke="#2a6c94" stroke-width="1"/>
<rect x="767.5" y="1040.5" width="5" height="5" fill="#5ba6ce" stroke="#2a6c94" stroke-width="1"/>
<rect x="772.5" y="1040.5" width="5" height="16" fill="#5ba6ce" stroke="#2a6c94" stroke-width="1"/>
<rect x="777.5" y="1040.5" width="5" height="23" fill="#5ba6ce" stroke="#2a6c94" stroke-width="1"/>
<rect x="782.5" y="1040.5" width="5" height="24" fill="#5ba6ce" stroke="#2a6c94" stroke-width="1"/>
<rect x="787.5" y="1040.5" width="5" height="26" fill="#5ba6ce" stroke="#2a6c94" stroke-width="1"/>
<rect x="792.5" y="1040.5" width="5" height="29" fill="#5ba6ce" stroke="#2a6c94" stroke-width="1"/>
<rect x="797.5" y="1040.5" width="5" height="29" fill="#5ba6ce" stroke="#2a6c94" stroke-width="1"/>
<rect x="802.5" y="1040.5" width="5" height="30" fill="#5ba6ce" stroke="#2a6c94" stroke-width="1"/>
<rect x="807.5" y="1040.5" width="5" height="32" fill="#5ba6ce" stroke="#2a6c94" stroke-width="1"/>
<rect x="812.5" y="1040.5" width="5" height="24" fill="#5ba6ce" stroke="#2a6c94" stroke-width="1"/>
<rect x="817.5" y="1040.5" width="5" height="14" fill="#5ba6ce" stroke="#2a6c94" stroke-width="1"/>
<rect x="822.5" y="1040.5" width="5" height="7" fill="#5ba6ce" stroke="#2a6c94" stroke-width="1"/>
<rect x="827.5" y="1040.5" width="5" height="5" fill="#5ba6ce" stroke="#2a6c94" stroke-width="1"/>
<rect x="832.5" y="1040.5" width="5" height="6" fill="#5ba6ce" stroke="#2a6c94" stroke-width="1"/>
<rect x="837.5" y="1040.5" width="5" height="12" fill="#5ba6ce" stroke="#2a6c94" stroke-width="1"/>
<rect x="842.5" y="1040.5" width="5" height="19" fill="#5ba6ce" stroke="#2a6c94" stroke-width="1"/>
<rect x="847.5" y="1040.5" width="5" height="24" fill="#5ba6ce" stroke="#2a6c94" stroke-width="1"/>
<rect x="852.5" y="1040.5" width="5" height="28" fill="#5ba6ce" stroke="#2a6c94" stroke-width="1"/>
<rect x="857.5" y="1040.5" width="5" height="34" fill="#5ba6ce" stroke="#2a6c94" stroke-width="1"/>
<rect x="862.5" y="1040.5" width="5" height="27" fill="#5ba6ce" stroke="#2a6c94" stroke-width="1"/>
<rect x="867.5" y="1040.5" width="5" height="23" fill="#5ba6ce" stroke="#2a6c94" stroke-width="1"/>
<rect x="872.5" y="1040.5" width="5" height="26" fill="#5ba6ce" stroke="#2a6c94" stroke-width="1"/>
<rect x="877.5" y="1040.5" width="5" height="33" fill="#5ba6ce" stroke="#2a6c94" stroke-width="1"/>
<rect x="882.5" y="1040.5" width="5" height="28" fill="#5ba6ce" stroke="#2a6c94" stroke-width="1"/>
<rect x="887.5" y="1040.5" width="5" height="26" fill="#5ba6ce" stroke="#2a6c94" stroke-width="1"/>
<rect x="892.5" y="1040.5" width="5" height="20" fill="#5ba6ce" stroke="#2a6c94" stroke-width="1"/>
<rect x="897.5" y="1040.5" width="5" height="16" fill="#5ba6ce" stroke="#2a6c94" stroke-width="1"/>
<rect x="902.5" y="1040.5" width="5" height="8" fill="#5ba6ce" stroke="#2a6c94" stroke-width="1"/>
<rect x="907.5" y="1035.5" width="5" height="5" fill="#5ba6ce" stroke="#2a6c94" stroke-width="1"/>
<rect x="912.5" y="1026.5" width="5" height="14" fill="#5ba6ce" stroke="#2a6c94" stroke-width="1"/>
<rect x="917.5" y="1017.5" width="5" height="23" fill="#5ba6ce" stroke="#2a6c94" stroke-width="1"/>
<rect x="922.5" y="1012.5" width="5" height="28" fill="#5ba6ce" stroke="#2a6c94" stroke-width="1"/>
<rect x="927.5" y="1017.5" width="5" height="23" fill="#5ba6ce" stroke="#2a6c94" stroke-width="1"/>
<rect x="932.5" y="1025.5" width="5" height="15" fill="#5ba6ce" stroke="#2a6c94" stroke-width="1"/>
<rect x="937.5" y="1026.5" width="5" height="14" fill="#5ba6ce" stroke="#2a6c94" stroke-width="1"/>
<rect x="942.5" y="1034.5" width="5" height="6" fill="#5ba6ce" stroke="#2a6c94" stroke-width="1"/>
<rect x="947.5" y="1040.5" width="5" height="5" fill="#5ba6ce" stroke="#2a6c94" stroke-width="1"/>
<rect x="952.5" y="1040.5" width="5" height="15" fill="#5ba6ce" stroke="#2a6c94" stroke-width="1"/>
<rect x="957.5" y="1040.5" width="5" height="19" fill="#5ba6ce" stroke="#2a6c94" stroke-width="1"/>
<rect x="962.5" y="1040.5" width="5" height="21" fill="#5ba6ce" stroke="#2a6c94" stroke-width="1"/>
<rect x="967.5" y="1040.5" width="5" height="15" fill="#5ba6ce" stroke="#2a6c94" stroke-width="1"/>
<rect x="972.5" y="1040.5" width="5" height="4" fill="#5ba6ce" stroke="#2a6c94" stroke-width="1"/>
<rect x="977.5" y="1040.5" width="5" height="1" fill="#5ba6ce" stroke="#2a6c94" stroke-width="1"/>
<rect x="982.5" y="1031.5" width="5" height="9" fill="#5ba6ce" stroke="#2a6c94" stroke-width="1"/>
<rect x="987.5" y="1026.5" width="5" height="14" fill="#5ba6ce" stroke="#2a6c94" stroke-width="1"/>
<rect x="992.5" y="1020.5" width="5" height="20" fill="#5ba6ce" stroke="#2a6c94" stroke-width="1"/>
<rect x="997.5" y="1014.5" width="5" height="26" fill="#5ba6ce" stroke="#2a6c94" stroke-width="1"/>
<rect x="1002.5" y="1018.5" width="5" height="22" fill="#5ba6ce" stroke="#2a6c94" stroke-width="1"/>
<rect x="1007.5" y="1023.5" width="5" height="17" fill="#5ba6ce" stroke="#2a6c94" stroke-width="1"/>
<rect x="1012.5" y="1028.5" width="5" height="12" fill="#5ba6ce" stroke="#2a6c94" stroke-width="1"/>
<rect x="1017.5" y="1031.5" width="5" height="9" fill="#5ba6ce" stroke="#2a6c94" stroke-width="1"/>
<rect x="1022.5" y="1031.5" width="5" height="9" fill="#5ba6ce" stroke="#2a6c94" stroke-width="1"/>
<rect x="1027.5" y="1027.5" width="5" height="13" fill="#5ba6ce" stroke="#2a6c94" stroke-width="1"/>
<rect x="1032.5" y="1027.5" width="5" height="13" fill="#5ba6ce" stroke="#2a6c94" stroke-width="1"/>
<rect x="1037.5" y="1024.5" width="5" height="16" fill="#5ba6ce" stroke="#2a6c94" stroke-width="1"/>
<rect x="1042.5" y="1020.5" width="5" height="20" fill="#5ba6ce" stroke="#2a6c94" stroke-width="1"/>
<rect x="1047.5" y="1020.5" width="5" height="20" fill="#5ba6ce" stroke="#2a6c94" stroke-width="1"/>
<rect x="1052.5" y="1020.5" width="5" height="20" fill="#5ba6ce" stroke="#2a6c94" stroke-width="1"/>
<rect x="1057.5" y="1027.5" width="5" height="13" fill="#5ba6ce" stroke="#2a6c94" stroke-width="1"/>
<rect x="1062.5" y="1028.5" width="5" height="12" fill="#5ba6ce" stroke="#2a6c94" stroke-width="1"/>
<rect x="1067.5" y="1036.5" width="5" height="4" fill="#5ba6ce" stroke="#2a6c94" stroke-width="1"/>
<rect x="1072" y="1040" width="5" height="1" fill="#2f7199"/>
<rect x="1077" y="1040" width="5" height="1" fill="#2f7199"/>
<rect x="1082.5" y="1035.5" width="5" height="5" fill="#5ba6ce" stroke="#2a6c94" stroke-width="1"/>
<rect x="1087.5" y="1032.5" width="5" height="8" fill="#5ba6ce" stroke="#2a6c94" stroke-width="1"/>
<rect x="1092.5" y="1030.5" width="5" height="10" fill="#5ba6ce" stroke="#2a6c94" stroke-width="1"/>
<rect x="1097.5" y="1029.5" width="5" height="11" fill="#5ba6ce" stroke="#2a6c94" stroke-width="1"/>
<rect x="1102.5" y="1028.5" width="5" height="12" fill="#5ba6ce" stroke="#2a6c94" stroke-width="1"/>
<rect x="1107.5" y="1029.5" width="5" height="11" fill="#5ba6ce" stroke="#2a6c94" stroke-width="1"/>
<rect x="1112.5" y="1031.5" width="5" height="9" fill="#5ba6ce" stroke="#2a6c94" stroke-width="1"/>
<rect x="1117.5" y="1030.5" width="5" height="10" fill="#5ba6ce" stroke="#2a6c94" stroke-width="1"/>
<rect x="1122.5" y="1030.5" width="5" height="10" fill="#5ba6ce" stroke="#2a6c94" stroke-width="1"/>
<rect x="1127.5" y="1028.5" width="5" height="12" fill="#5ba6ce" stroke="#2a6c94" stroke-width="1"/>
<rect x="1132.5" y="1026.5" width="5" height="14" fill="#5ba6ce" stroke="#2a6c94" stroke-width="1"/>
<rect x="1137.5" y="1024.5" width="5" height="16" fill="#5ba6ce" stroke="#2a6c94" stroke-width="1"/>
<rect x="1142.5" y="1024.5" width="5" height="16" fill="#5ba6ce" stroke="#2a6c94" stroke-width="1"/>
<rect x="1147.5" y="1023.5" width="5" height="17" fill="#5ba6ce" stroke="#2a6c94" stroke-width="1"/>
<rect x="1152.5" y="1024.5" width="5" height="16" fill="#5ba6ce" stroke="#2a6c94" stroke-width="1"/>
<rect x="1157.5" y="1023.5" width="5" height="17" fill="#5ba6ce" stroke="#2a6c94" stroke-width="1"/>
<rect x="1162.5" y="1023.5" width="5" height="17" fill="#5ba6ce" stroke="#2a6c94" stroke-width="1"/>
<rect x="1167.5" y="1021.5" width="5" height="19" fill="#5ba6ce" stroke="#2a6c94" stroke-width="1"/>
<rect x="1172.5" y="1026.5" width="5" height="14" fill="#5ba6ce" stroke="#2a6c94" stroke-width="1"/>
<rect x="1177.5" y="1031.5" width="5" height="9" fill="#5ba6ce" stroke="#2a6c94" stroke-width="1"/>
<rect x="1182.5" y="1039.5" width="5" height="1" fill="#5ba6ce" stroke="#2a6c94" stroke-width="1"/>
<rect x="1187.5" y="1040.5" width="5" height="3" fill="#5ba6ce" stroke="#2a6c94" stroke-width="1"/>
<rect x="1192.5" y="1040.5" width="5" height="1" fill="#5ba6ce" stroke="#2a6c94" stroke-width="1"/>
<rect x="1197.5" y="1040.5" width="5" height="3" fill="#5ba6ce" stroke="#2a6c94" stroke-width="1"/>
<rect x="1202.5" y="1040.5" width="5" height="5" fill="#5ba6ce" stroke="#2a6c94" stroke-width="1"/>
<rect x="1207.5" y="1040.5" width="5" height="12" fill="#5ba6ce" stroke="#2a6c94" stroke-width="1"/>
<rect x="1212.5" y="1040.5" width="5" height="17" fill="#5ba6ce" stroke="#2a6c94" stroke-width="1"/>
<rect x="1217.5" y="1040.5" width="5" height="19" fill="#5ba6ce" stroke="#2a6c94" stroke-width="1"/>
<rect x="1222.5" y="1040.5" width="5" height="19" fill="#5ba6ce" stroke="#2a6c94" stroke-width="1"/>
<rect x="1227.5" y="1040.5" width="5" height="23" fill="#5ba6ce" stroke="#2a6c94" stroke-width="1"/>
<rect x="1232.5" y="1040.5" width="5" height="27" fill="#5ba6ce" stroke="#2a6c94" stroke-width="1"/>
<rect x="1237.5" y="1040.5" width="5" height="20" fill="#5ba6ce" stroke="#2a6c94" stroke-width="1"/>
<rect x="1242.5" y="1040.5" width="5" height="13" fill="#5ba6ce" stroke="#2a6c94" stroke-width="1"/>
<rect x="1247.5" y="1040.5" width="5" height="4" fill="#5ba6ce" stroke="#2a6c94" stroke-width="1"/>
<rect x="1252.5" y="1037.5" width="5" height="3" fill="#5ba6ce" stroke="#2a6c94" stroke-width="1"/>
<rect x="1257.5" y="1032.5" width="5" height="8" fill="#5ba6ce" stroke="#2a6c94" stroke-width="1"/>
<rect x="1262.5" y="1029.5" width="5" height="11" fill="#5ba6ce" stroke="#2a6c94" stroke-width="1"/>
<rect x="1267.5" y="1023.5" width="5" height="17" fill="#5ba6ce" stroke="#2a6c94" stroke-width="1"/>
<rect x="1272.5" y="1020.5" width="5" height="20" fill="#5ba6ce" stroke="#2a6c94" stroke-width="1"/>
<rect x="1277.5" y="1018.5" width="5" height="22" fill="#5ba6ce" stroke="#2a6c94" stroke-width="1"/>
<rect x="1282.5" y="1023.5" width="5" height="17" fill="#5ba6ce" stroke="#2a6c94" stroke-width="1"/>
<rect x="1287.5" y="1023.5" width="5" height="17" fill="#5ba6ce" stroke="#2a6c94" stroke-width="1"/>
<rect x="1292.5" y="1023.5" width="5" height="17" fill="#5ba6ce" stroke="#2a6c94" stroke-width="1"/>
<rect x="1297.5" y="1021.5" width="5" height="19" fill="#5ba6ce" stroke="#2a6c94" stroke-width="1"/>
<rect x="1302.5" y="1020.5" width="5" height="20" fill="#5ba6ce" stroke="#2a6c94" stroke-width="1"/>
<rect x="1307.5" y="1018.5" width="5" height="22" fill="#5ba6ce" stroke="#2a6c94" stroke-width="1"/>
<rect x="1312.5" y="1019.5" width="5" height="21" fill="#5ba6ce" stroke="#2a6c94" stroke-width="1"/>
<rect x="1317.5" y="1019.5" width="5" height="21" fill="#5ba6ce" stroke="#2a6c94" stroke-width="1"/>
<rect x="1322.5" y="1019.5" width="5" height="21" fill="#5ba6ce" stroke="#2a6c94" stroke-width="1"/>
<rect x="1327.5" y="1021.5" width="5" height="19" fill="#5ba6ce" stroke="#2a6c94" stroke-width="1"/>
<rect x="1332.5" y="1024.5" width="5" height="16" fill="#5ba6ce" stroke="#2a6c94" stroke-width="1"/>
<rect x="1337.5" y="1024.5" width="5" height="16" fill="#5ba6ce" stroke="#2a6c94" stroke-width="1"/>
<rect x="1342.5" y="1025.5" width="5" height="15" fill="#5ba6ce" stroke="#2a6c94" stroke-width="1"/>
<rect x="1347.5" y="1029.5" width="5" height="11" fill="#5ba6ce" stroke="#2a6c94" stroke-width="1"/>
<rect x="1352.5" y="1036.5" width="5" height="4" fill="#5ba6ce" stroke="#2a6c94" stroke-width="1"/>
<rect x="1357.5" y="1040.5" width="5" height="8" fill="#5ba6ce" stroke="#2a6c94" stroke-width="1"/>
<rect x="1362.5" y="1040.5" width="5" height="10" fill="#5ba6ce" stroke="#2a6c94" stroke-width="1"/>
<rect x="1367.5" y="1040.5" width="5" height="12" fill="#5ba6ce" stroke="#2a6c94" stroke-width="1"/>
<rect x="1372.5" y="1040.5" width="5" height="9" fill="#5ba6ce" stroke="#2a6c94" stroke-width="1"/>
<rect x="1377.5" y="1040.5" width="5" height="4" fill="#5ba6ce" stroke="#2a6c94" stroke-width="1"/>
<rect x="1382.5" y="1040.5" width="5" height="2" fill="#5ba6ce" stroke="#2a6c94" stroke-width="1"/>
<rect x="1387.5" y="1040.5" width="5" height="3" fill="#5ba6ce" stroke="#2a6c94" stroke-width="1"/>
<rect x="1392.5" y="1040.5" width="5" height="1" fill="#5ba6ce" stroke="#2a6c94" stroke-width="1"/>
<rect x="1397.5" y="1038.5" width="5" height="2" fill="#5ba6ce" stroke="#2a6c94" stroke-width="1"/>
<rect x="1402.5" y="1036.5" width="5" height="4" fill="#5ba6ce" stroke="#2a6c94" stroke-width="1"/>
<rect x="1407.5" y="1035.5" width="5" height="5" fill="#5ba6ce" stroke="#2a6c94" stroke-width="1"/>
<rect x="1412.5" y="1032.5" width="5" height="8" fill="#5ba6ce" stroke="#2a6c94" stroke-width="1"/>
<rect x="1417.5" y="1030.5" width="5" height="10" fill="#5ba6ce" stroke="#2a6c94" stroke-width="1"/>
<rect x="1422.5" y="1034.5" width="5" height="6" fill="#5ba6ce" stroke="#2a6c94" stroke-width="1"/>
<rect x="1427" y="1040" width="5" height="1" fill="#2f7199"/>
<rect x="1432.5" y="1040.5" width="5" height="9" fill="#5ba6ce" stroke="#2a6c94" stroke-width="1"/>
<rect x="1437.5" y="1040.5" width="5" height="15" fill="#5ba6ce" stroke="#2a6c94" stroke-width="1"/>
<rect x="1442.5" y="1040.5" width="5" height="11" fill="#5ba6ce" stroke="#2a6c94" stroke-width="1"/>
<rect x="1447.5" y="1040.5" width="5" height="5" fill="#5ba6ce" stroke="#2a6c94" stroke-width="1"/>
<rect x="1452.5" y="1040.5" width="5" height="2" fill="#5ba6ce" stroke="#2a6c94" stroke-width="1"/>
<rect x="1457.5" y="1040.5" width="5" height="10" fill="#5ba6ce" stroke="#2a6c94" stroke-width="1"/>
<rect x="1462.5" y="1040.5" width="5" height="8" fill="#5ba6ce" stroke="#2a6c94" stroke-width="1"/>
<rect x="1467.5" y="1040.5" width="5" height="3" fill="#5ba6ce" stroke="#2a6c94" stroke-width="1"/>
<rect x="1472.5" y="1039.5" width="5" height="1" fill="#5ba6ce" stroke="#2a6c94" stroke-width="1"/>
<rect x="1477.5" y="1037.5" width="5" height="3" fill="#5ba6ce" stroke="#2a6c94" stroke-width="1"/>
<rect x="1482.5" y="1035.5" width="5" height="5" fill="#5ba6ce" stroke="#2a6c94" stroke-width="1"/>
<rect x="1487.5" y="1032.5" width="5" height="8" fill="#5ba6ce" stroke="#2a6c94" stroke-width="1"/>
<rect x="1492.5" y="1034.5" width="5" height="6" fill="#5ba6ce" stroke="#2a6c94" stroke-width="1"/>
<rect x="1497" y="1040" width="5" height="1" fill="#2f7199"/>
<rect x="1502.5" y="1034.5" width="5" height="6" fill="#5ba6ce" stroke="#2a6c94" stroke-width="1"/>
<rect x="1507.5" y="1036.5" width="5" height="4" fill="#5ba6ce" stroke="#2a6c94" stroke-width="1"/>
<rect x="1512.5" y="1037.5" width="5" height="3" fill="#5ba6ce" stroke="#2a6c94" stroke-width="1"/>
<polyline shape-rendering="geometricPrecision" points="47.5,1036.2 49.5,1034.4 54.5,1029.9 59.5,1025.9 64.5,1021.4 69.5,1019.4 74.5,1017.6 79.5,1016.4 84.5,1017.4 89.5,1017.6 94.5,1018 99.5,1017.4 104.5,1017 109.5,1015.4 114.5,1014 119.5,1012.4 124.5,1010.7 129.5,1010.1 134.5,1010.5 139.5,1011.6 144.5,1013.6 149.5,1015.6 154.5,1016.4 159.5,1016.6 164.5,1017 169.5,1017.6 174.5,1018 179.5,1018.6 184.5,1019 189.5,1019 194.5,1018.4 199.5,1016.6 204.5,1015 209.5,1013 214.5,1011.4 219.5,1009.5 224.5,1007.1 229.5,1005.1 234.5,1002.7 239.5,1000.5 244.5,998.2 249.5,995.6 254.5,993.6 259.5,992.2 264.5,990.8 269.5,989.3 274.5,988.3 279.5,991.2 284.5,996.2 289.5,1005.1 294.5,1020 299.5,1034.8 304.5,1049.7 309.5,1061.6 314.5,1069.5 319.5,1074.8 324.5,1078.4 329.5,1079.8 334.5,1079.8 339.5,1078.4 344.5,1075.4 349.5,1069.5 354.5,1064.5 359.5,1058.2 364.5,1053 369.5,1047.7 374.5,1041.8 379.5,1035.8 384.5,1030.5 389.5,1024.9 394.5,1018 399.5,1011 404.5,1003.5 409.5,997.2 414.5,992.2 419.5,988.9 424.5,986.9 429.5,985.9 434.5,984.9 439.5,984.3 444.5,983.3 449.5,982.7 454.5,982.9 459.5,983.3 464.5,982.3 469.5,981.3 474.5,979.4 479.5,976.4 484.5,973.4 489.5,971 494.5,968.9 499.5,966.1 504.5,963.9 509.5,961.9 514.5,960.1 519.5,959.1 524.5,958.2 529.5,957 534.5,955.2 539.5,955.2 544.5,956.2 549.5,956.6 554.5,957.2 559.5,957.6 564.5,957.6 569.5,956.6 574.5,954.6 579.5,952.6 584.5,950.2 589.5,947.7 594.5,946.3 599.5,945.7 604.5,945.7 609.5,946.1 614.5,946.7 619.5,948.1 624.5,949 629.5,949.6 634.5,949.6 639.5,950.2 644.5,950.6 649.5,950.6 654.5,950.6 659.5,950.2 664.5,950.2 669.5,950.6 674.5,950.2 679.5,951.2 684.5,952.6 689.5,955.6 694.5,959.5 699.5,963.1 704.5,966.1 709.5,968.5 714.5,969.4 719.5,969.1 724.5,968.1 729.5,967.5 734.5,967.5 739.5,968.5 744.5,969.4 749.5,970 754.5,970.4 759.5,970.4 764.5,971 769.5,972 774.5,977 779.5,982.3 784.5,988.3 789.5,994.2 794.5,1001.1 799.5,1008.7 804.5,1016.6 809.5,1023.9 814.5,1029.9 819.5,1032.8 824.5,1034.8 829.5,1036.4 834.5,1038.8 839.5,1041.8 844.5,1046.7 849.5,1052.6 854.5,1059.6 859.5,1068.5 864.5,1075.4 869.5,1080.4 874.5,1086.3 879.5,1095.2 884.5,1102.2 889.5,1108.1 894.5,1113.7 899.5,1117 904.5,1118.4 909.5,1117.6 914.5,1115.1 919.5,1109.1 924.5,1102.2 929.5,1096.2 934.5,1092.7 939.5,1088.7 944.5,1086.3 949.5,1088.3 954.5,1091.9 959.5,1096.2 964.5,1101.8 969.5,1105.1 974.5,1106.1 979.5,1107.1 984.5,1104.6 989.5,1101.2 994.5,1095.2 999.5,1089.3 1004.5,1083.9 1009.5,1079.4 1014.5,1076.4 1019.5,1074.4 1024.5,1072.1 1029.5,1069.5 1034.5,1066.5 1039.5,1062.2 1044.5,1056.6 1049.5,1051.7 1054.5,1046.7 1059.5,1043.3 1064.5,1040.8 1069.5,1039.8 1074.5,1039.4 1079.5,1039.4 1084.5,1038.2 1089.5,1036.4 1094.5,1033.4 1099.5,1030.5 1104.5,1027.5 1109.5,1024.9 1114.5,1022.5 1119.5,1020.4 1124.5,1018 1129.5,1015 1134.5,1011.4 1139.5,1007.5 1144.5,1003.5 1149.5,998.8 1154.5,994.8 1159.5,990.8 1164.5,986.3 1169.5,981.3 1174.5,977.4 1179.5,975.4 1184.5,975.4 1189.5,976 1194.5,976.4 1199.5,977 1204.5,978.4 1209.5,981.3 1214.5,985.7 1219.5,990.2 1224.5,995.2 1229.5,1001.1 1234.5,1008.1 1239.5,1013 1244.5,1016.6 1249.5,1017.6 1254.5,1016.6 1259.5,1014.6 1264.5,1011.4 1269.5,1007.1 1274.5,1002.1 1279.5,996.8 1284.5,992.2 1289.5,986.9 1294.5,982.3 1299.5,977 1304.5,971 1309.5,965.1 1314.5,959.5 1319.5,954.2 1324.5,949 1329.5,944.7 1334.5,941.1 1339.5,937.8 1344.5,934.8 1349.5,933.2 1354.5,933.2 1359.5,935.8 1364.5,938.1 1369.5,940.7 1374.5,942.7 1379.5,943.7 1384.5,944.7 1389.5,945.3 1394.5,945.7 1399.5,945.1 1404.5,944.3 1409.5,943.3 1414.5,941.3 1419.5,939.3 1424.5,937.4 1429.5,936.8 1434.5,938.7 1439.5,942.7 1444.5,945.3 1449.5,947.3 1454.5,947.7 1459.5,949.6 1464.5,951.2 1469.5,952.2 1474.5,952.2 1479.5,951.2 1484.5,950 1489.5,948.3 1494.5,947.3 1499.5,947.3 1504.5,945.7 1509.5,944.3 1514.5,944.1" fill="none" stroke="#ee1111" stroke-width="1.1" stroke-linejoin="round"/>
<polyline shape-rendering="geometricPrecision" points="47.5,1019.6 49.5,1018 54.5,1014 59.5,1010.7 64.5,1007.5 69.5,1008.5 74.5,1010.5 79.5,1013.4 84.5,1020 89.5,1020.4 94.5,1019 99.5,1016 104.5,1014 109.5,1011 114.5,1007.5 119.5,1007.1 124.5,1004.5 129.5,1007.5 134.5,1011 139.5,1015.4 144.5,1020 149.5,1021.4 154.5,1020.4 159.5,1018.4 164.5,1017.4 169.5,1018.6 174.5,1019.6 179.5,1020.6 184.5,1020.4 189.5,1018 194.5,1015 199.5,1012 204.5,1009.5 209.5,1007.5 214.5,1004.7 219.5,1002.7 224.5,1000.7 229.5,997.6 234.5,993.2 239.5,991.8 244.5,990.2 249.5,985.7 254.5,984.7 259.5,987.3 264.5,986.3 269.5,983.3 274.5,983.3 279.5,1002.1 284.5,1016 289.5,1038.8 294.5,1074.4 299.5,1092.3 304.5,1109.1 309.5,1107.1 314.5,1099.8 319.5,1096.2 324.5,1091.9 329.5,1084.3 334.5,1080.4 339.5,1072.5 344.5,1062.6 349.5,1047.7 354.5,1041.8 359.5,1036.8 364.5,1035.2 369.5,1028.9 374.5,1021.9 379.5,1015 384.5,1009.5 389.5,1002.7 394.5,994.8 399.5,987.7 404.5,982.3 409.5,972.4 414.5,970.4 419.5,973.4 424.5,977.4 429.5,981.3 434.5,983.3 439.5,980.3 444.5,977.4 449.5,977.4 454.5,986.3 459.5,983.3 464.5,978.4 469.5,976.4 474.5,971 479.5,965.5 484.5,963.1 489.5,961.1 494.5,960.1 499.5,957.6 504.5,953.6 509.5,954.2 514.5,952.6 519.5,957.2 524.5,954.6 529.5,951.6 534.5,950.6 539.5,955.2 544.5,959.5 549.5,958.6 554.5,959.5 559.5,959.5 564.5,957.6 569.5,951.6 574.5,946.3 579.5,942.3 584.5,941.3 589.5,938.1 594.5,940.3 599.5,944.3 604.5,945.7 609.5,947.7 614.5,949 619.5,953.2 624.5,954.2 629.5,951.6 634.5,950.6 639.5,952.2 644.5,950.6 649.5,951.2 654.5,950.2 659.5,950.2 664.5,951.2 669.5,951.2 674.5,950.2 679.5,954.6 684.5,959.5 689.5,963.9 694.5,971 699.5,977 704.5,979.4 709.5,977.4 714.5,974.4 719.5,968.5 724.5,965.5 729.5,963.5 734.5,966.5 739.5,973.4 744.5,971.4 749.5,974.4 754.5,972.4 759.5,970.4 764.5,973 769.5,977.4 774.5,993.2 779.5,1004.1 784.5,1011 789.5,1020.6 794.5,1030.5 799.5,1037.8 804.5,1046.7 809.5,1056.2 814.5,1054.2 819.5,1046.7 824.5,1042.3 829.5,1041.8 834.5,1045.1 839.5,1053.6 844.5,1066.1 849.5,1076.4 854.5,1088.3 859.5,1102.6 864.5,1101.6 869.5,1102.6 874.5,1111.1 879.5,1128.3 884.5,1129.9 889.5,1133.3 894.5,1132.3 899.5,1132.3 904.5,1126.3 909.5,1112.1 914.5,1101.2 919.5,1086.3 924.5,1073.8 929.5,1072.9 934.5,1077.4 939.5,1074.4 944.5,1080.4 949.5,1094.3 954.5,1107.1 959.5,1115.1 964.5,1123.6 969.5,1120.4 974.5,1111.7 979.5,1108.1 984.5,1094.3 989.5,1084.3 994.5,1073.5 999.5,1064.1 1004.5,1061.6 1009.5,1063 1014.5,1064.1 1019.5,1065.1 1024.5,1063.5 1029.5,1057.6 1034.5,1052.6 1039.5,1044.7 1044.5,1035.8 1049.5,1030.5 1054.5,1026.5 1059.5,1029.3 1064.5,1028.9 1069.5,1035.8 1074.5,1039.8 1079.5,1039.8 1084.5,1033.2 1089.5,1027.9 1094.5,1022.9 1099.5,1019 1104.5,1015.4 1109.5,1014.6 1114.5,1014.4 1119.5,1010.5 1124.5,1008.5 1129.5,1003.1 1134.5,998.2 1139.5,990.8 1144.5,987.3 1149.5,980.9 1154.5,978.4 1159.5,974 1164.5,967.9 1169.5,962.5 1174.5,964.1 1179.5,966.5 1184.5,974.4 1189.5,978.4 1194.5,978.4 1199.5,980.9 1204.5,984.3 1209.5,992.8 1214.5,1001.5 1219.5,1008.7 1224.5,1014 1229.5,1023.9 1234.5,1035.2 1239.5,1033.2 1244.5,1029.9 1249.5,1022.9 1254.5,1014 1259.5,1007.1 1264.5,1001.1 1269.5,991.2 1274.5,982.9 1279.5,976.4 1284.5,975.4 1289.5,971.4 1294.5,965.9 1299.5,960.1 1304.5,954.2 1309.5,946.7 1314.5,943.7 1319.5,937.4 1324.5,931.8 1329.5,929.4 1334.5,929.4 1339.5,924.9 1344.5,921.3 1349.5,923.5 1354.5,929.8 1359.5,942.1 1364.5,947.3 1369.5,951.2 1374.5,951.2 1379.5,948.3 1384.5,947.3 1389.5,948.3 1394.5,947.3 1399.5,943.3 1404.5,940.3 1409.5,939.3 1414.5,933.8 1419.5,929.4 1424.5,932.4 1429.5,937.4 1434.5,947.7 1439.5,957.2 1444.5,956 1449.5,952.2 1454.5,949.2 1459.5,959.1 1464.5,958.2 1469.5,955.2 1474.5,951.2 1479.5,948.6 1484.5,944.7 1489.5,941.3 1494.5,941.3 1499.5,947.3 1504.5,939.3 1509.5,941.1 1514.5,941.3" fill="none" stroke="#000" stroke-width="2" stroke-linejoin="round"/>
<rect x="47.5" y="28.5" width="1474" height="872" fill="none" stroke="#b0b0b0"/>
<path d="M47.5 254.5H1521.5" stroke="#b0b0b0" fill="none"/>
<rect x="47.5" y="914.5" width="1474" height="226" fill="none" stroke="#b0b0b0"/>
<path d="M1521.5 237.5h1.5 M1521.5 216.5h1.5 M1521.5 195.5h1.5 M1521.5 173.5h1.5 M1521.5 152.5h1.5 M1521.5 131.5h1.5 M1521.5 110.5h1.5 M1521.5 89.5h1.5 M1521.5 68.5h1.5 M1521.5 46.5h1.5 M1521.5 247.5h1.5 M1521.5 226.5h2.5 M1521.5 205.5h1.5 M1521.5 184.5h2.5 M1521.5 163.5h1.5 M1521.5 142.5h2.5 M1521.5 120.5h1.5 M1521.5 99.5h2.5 M1521.5 78.5h1.5 M1521.5 57.5h2.5 M1521.5 36.5h1.5 M1521.5 891.5h2.5 M1521.5 886.5h1.5 M1521.5 880.5h1.5 M1521.5 875.5h1.5 M1521.5 869.5h1.5 M1521.5 864.5h2.5 M1521.5 858.5h1.5 M1521.5 853.5h1.5 M1521.5 847.5h1.5 M1521.5 842.5h1.5 M1521.5 837.5h2.5 M1521.5 832.5h1.5 M1521.5 827.5h1.5 M1521.5 821.5h1.5 M1521.5 816.5h1.5 M1521.5 811.5h2.5 M1521.5 806.5h1.5 M1521.5 801.5h1.5 M1521.5 797.5h1.5 M1521.5 792.5h1.5 M1521.5 787.5h2.5 M1521.5 782.5h1.5 M1521.5 777.5h1.5 M1521.5 773.5h1.5 M1521.5 768.5h1.5 M1521.5 763.5h2.5 M1521.5 759.5h1.5 M1521.5 754.5h1.5 M1521.5 749.5h1.5 M1521.5 745.5h1.5 M1521.5 740.5h2.5 M1521.5 736.5h1.5 M1521.5 732.5h1.5 M1521.5 727.5h1.5 M1521.5 723.5h1.5 M1521.5 718.5h2.5 M1521.5 714.5h1.5 M1521.5 710.5h1.5 M1521.5 706.5h1.5 M1521.5 701.5h1.5 M1521.5 697.5h2.5 M1521.5 693.5h1.5 M1521.5 689.5h1.5 M1521.5 685.5h1.5 M1521.5 681.5h1.5 M1521.5 677.5h2.5 M1521.5 673.5h1.5 M1521.5 669.5h1.5 M1521.5 665.5h1.5 M1521.5 661.5h1.5 M1521.5 657.5h2.5 M1521.5 653.5h1.5 M1521.5 649.5h1.5 M1521.5 645.5h1.5 M1521.5 641.5h1.5 M1521.5 637.5h2.5 M1521.5 634.5h1.5 M1521.5 630.5h1.5 M1521.5 626.5h1.5 M1521.5 622.5h1.5 M1521.5 619.5h2.5 M1521.5 615.5h1.5 M1521.5 611.5h1.5 M1521.5 608.5h1.5 M1521.5 604.5h1.5 M1521.5 601.5h2.5 M1521.5 597.5h1.5 M1521.5 594.5h1.5 M1521.5 590.5h1.5 M1521.5 586.5h1.5 M1521.5 583.5h2.5 M1521.5 580.5h1.5 M1521.5 576.5h1.5 M1521.5 573.5h1.5 M1521.5 569.5h1.5 M1521.5 566.5h2.5 M1521.5 562.5h1.5 M1521.5 559.5h1.5 M1521.5 556.5h1.5 M1521.5 552.5h1.5 M1521.5 549.5h2.5 M1521.5 546.5h1.5 M1521.5 543.5h1.5 M1521.5 539.5h1.5 M1521.5 536.5h1.5 M1521.5 533.5h2.5 M1521.5 530.5h1.5 M1521.5 526.5h1.5 M1521.5 523.5h1.5 M1521.5 520.5h1.5 M1521.5 517.5h2.5 M1521.5 514.5h1.5 M1521.5 511.5h1.5 M1521.5 508.5h1.5 M1521.5 505.5h1.5 M1521.5 502.5h2.5 M1521.5 498.5h1.5 M1521.5 495.5h1.5 M1521.5 492.5h1.5 M1521.5 489.5h1.5 M1521.5 486.5h2.5 M1521.5 483.5h1.5 M1521.5 480.5h1.5 M1521.5 478.5h1.5 M1521.5 475.5h1.5 M1521.5 472.5h2.5 M1521.5 469.5h1.5 M1521.5 466.5h1.5 M1521.5 463.5h1.5 M1521.5 460.5h1.5 M1521.5 457.5h2.5 M1521.5 454.5h1.5 M1521.5 452.5h1.5 M1521.5 449.5h1.5 M1521.5 446.5h1.5 M1521.5 443.5h2.5 M1521.5 440.5h1.5 M1521.5 438.5h1.5 M1521.5 435.5h1.5 M1521.5 432.5h1.5 M1521.5 429.5h2.5 M1521.5 427.5h1.5 M1521.5 424.5h1.5 M1521.5 421.5h1.5 M1521.5 419.5h1.5 M1521.5 416.5h2.5 M1521.5 413.5h1.5 M1521.5 411.5h1.5 M1521.5 408.5h1.5 M1521.5 405.5h1.5 M1521.5 403.5h2.5 M1521.5 400.5h1.5 M1521.5 398.5h1.5 M1521.5 395.5h1.5 M1521.5 392.5h1.5 M1521.5 390.5h2.5 M1521.5 387.5h1.5 M1521.5 385.5h1.5 M1521.5 382.5h1.5 M1521.5 380.5h1.5 M1521.5 377.5h2.5 M1521.5 375.5h1.5 M1521.5 372.5h1.5 M1521.5 370.5h1.5 M1521.5 367.5h1.5 M1521.5 365.5h2.5 M1521.5 362.5h1.5 M1521.5 360.5h1.5 M1521.5 357.5h1.5 M1521.5 355.5h1.5 M1521.5 353.5h2.5 M1521.5 350.5h1.5 M1521.5 348.5h1.5 M1521.5 345.5h1.5 M1521.5 343.5h1.5 M1521.5 341.5h2.5 M1521.5 338.5h1.5 M1521.5 336.5h1.5 M1521.5 334.5h1.5 M1521.5 331.5h1.5 M1521.5 329.5h2.5 M1521.5 327.5h1.5 M1521.5 324.5h1.5 M1521.5 322.5h1.5 M1521.5 320.5h1.5 M1521.5 318.5h2.5 M1521.5 315.5h1.5 M1521.5 313.5h1.5 M1521.5 311.5h1.5 M1521.5 308.5h1.5 M1521.5 306.5h2.5 M1521.5 304.5h1.5 M1521.5 302.5h1.5 M1521.5 300.5h1.5 M1521.5 297.5h1.5 M1521.5 295.5h2.5 M1521.5 293.5h1.5 M1521.5 291.5h1.5 M1521.5 289.5h1.5 M1521.5 286.5h1.5 M1521.5 284.5h2.5 M1521.5 282.5h1.5 M1521.5 280.5h1.5 M1521.5 278.5h1.5 M1521.5 276.5h1.5 M1521.5 274.5h2.5 M1521.5 271.5h1.5 M1521.5 269.5h1.5 M1521.5 267.5h1.5 M1521.5 265.5h1.5 M1521.5 263.5h2.5 M1521.5 261.5h1.5 M1521.5 259.5h1.5 M1521.5 1127.5h2.5 M1521.5 1112.5h2.5 M1521.5 1098.5h2.5 M1521.5 1083.5h2.5 M1521.5 1069.5h2.5 M1521.5 1054.5h2.5 M1521.5 1040.5h2.5 M1521.5 1025.5h2.5 M1521.5 1011.5h2.5 M1521.5 996.5h2.5 M1521.5 982.5h2.5 M1521.5 967.5h2.5 M1521.5 953.5h2.5 M1521.5 938.5h2.5 M1521.5 924.5h2.5 M47.5 881.5h-2.5 M47.5 862.5h-2.5 M47.5 843.5h-2.5 M47.5 824.5h-2.5 M47.5 805.5h-2.5 M47.5 786.5h-2.5 M47.5 767.5h-2.5 M47.5 748.5h-2.5 M47.5 729.5h-2.5 M47.5 710.5h-2.5 M49.5 901v1.5 M49.5 1141v1.5 M49.5 914v-1.5 M54.5 901v1.5 M54.5 1141v1.5 M54.5 914v-1.5 M59.5 901v1.5 M59.5 1141v1.5 M59.5 914v-1.5 M64.5 901v1.5 M64.5 1141v1.5 M64.5 914v-1.5 M69.5 901v1.5 M69.5 1141v1.5 M69.5 914v-1.5 M74.5 901v1.5 M74.5 1141v1.5 M74.5 914v-1.5 M79.5 901v1.5 M79.5 1141v1.5 M79.5 914v-1.5 M84.5 901v1.5 M84.5 1141v1.5 M84.5 914v-1.5 M89.5 901v1.5 M89.5 1141v1.5 M89.5 914v-1.5 M94.5 901v1.5 M94.5 1141v1.5 M94.5 914v-1.5 M99.5 901v1.5 M99.5 1141v1.5 M99.5 914v-1.5 M104.5 901v1.5 M104.5 1141v1.5 M104.5 914v-1.5 M109.5 901v1.5 M109.5 1141v1.5 M109.5 914v-1.5 M114.5 901v1.5 M114.5 1141v1.5 M114.5 914v-1.5 M119.5 901v1.5 M119.5 1141v1.5 M119.5 914v-1.5 M124.5 901v1.5 M124.5 1141v1.5 M124.5 914v-1.5 M129.5 901v1.5 M129.5 1141v1.5 M129.5 914v-1.5 M134.5 901v1.5 M134.5 1141v1.5 M134.5 914v-1.5 M139.5 901v1.5 M139.5 1141v1.5 M139.5 914v-1.5 M144.5 901v1.5 M144.5 1141v1.5 M144.5 914v-1.5 M149.5 901v1.5 M149.5 1141v1.5 M149.5 914v-1.5 M154.5 901v1.5 M154.5 1141v1.5 M154.5 914v-1.5 M159.5 901v1.5 M159.5 1141v1.5 M159.5 914v-1.5 M164.5 901v1.5 M164.5 1141v1.5 M164.5 914v-1.5 M169.5 901v1.5 M169.5 1141v1.5 M169.5 914v-1.5 M174.5 901v1.5 M174.5 1141v1.5 M174.5 914v-1.5 M179.5 901v1.5 M179.5 1141v1.5 M179.5 914v-1.5 M184.5 901v1.5 M184.5 1141v1.5 M184.5 914v-1.5 M189.5 901v1.5 M189.5 1141v1.5 M189.5 914v-1.5 M194.5 901v1.5 M194.5 1141v1.5 M194.5 914v-1.5 M199.5 901v1.5 M199.5 1141v1.5 M199.5 914v-1.5 M204.5 901v1.5 M204.5 1141v1.5 M204.5 914v-1.5 M209.5 901v1.5 M209.5 1141v1.5 M209.5 914v-1.5 M214.5 901v1.5 M214.5 1141v1.5 M214.5 914v-1.5 M219.5 901v1.5 M219.5 1141v1.5 M219.5 914v-1.5 M224.5 901v1.5 M224.5 1141v1.5 M224.5 914v-1.5 M229.5 901v1.5 M229.5 1141v1.5 M229.5 914v-1.5 M234.5 901v1.5 M234.5 1141v1.5 M234.5 914v-1.5 M239.5 901v1.5 M239.5 1141v1.5 M239.5 914v-1.5 M244.5 901v1.5 M244.5 1141v1.5 M244.5 914v-1.5 M249.5 901v1.5 M249.5 1141v1.5 M249.5 914v-1.5 M254.5 901v1.5 M254.5 1141v1.5 M254.5 914v-1.5 M259.5 901v1.5 M259.5 1141v1.5 M259.5 914v-1.5 M264.5 901v1.5 M264.5 1141v1.5 M264.5 914v-1.5 M269.5 901v1.5 M269.5 1141v1.5 M269.5 914v-1.5 M274.5 901v1.5 M274.5 1141v1.5 M274.5 914v-1.5 M279.5 901v1.5 M279.5 1141v1.5 M279.5 914v-1.5 M284.5 901v1.5 M284.5 1141v1.5 M284.5 914v-1.5 M289.5 901v1.5 M289.5 1141v1.5 M289.5 914v-1.5 M294.5 901v1.5 M294.5 1141v1.5 M294.5 914v-1.5 M299.5 901v1.5 M299.5 1141v1.5 M299.5 914v-1.5 M304.5 901v1.5 M304.5 1141v1.5 M304.5 914v-1.5 M309.5 901v1.5 M309.5 1141v1.5 M309.5 914v-1.5 M314.5 901v1.5 M314.5 1141v1.5 M314.5 914v-1.5 M319.5 901v1.5 M319.5 1141v1.5 M319.5 914v-1.5 M324.5 901v1.5 M324.5 1141v1.5 M324.5 914v-1.5 M329.5 901v1.5 M329.5 1141v1.5 M329.5 914v-1.5 M334.5 901v1.5 M334.5 1141v1.5 M334.5 914v-1.5 M339.5 901v1.5 M339.5 1141v1.5 M339.5 914v-1.5 M344.5 901v1.5 M344.5 1141v1.5 M344.5 914v-1.5 M349.5 901v1.5 M349.5 1141v1.5 M349.5 914v-1.5 M354.5 901v1.5 M354.5 1141v1.5 M354.5 914v-1.5 M359.5 901v1.5 M359.5 1141v1.5 M359.5 914v-1.5 M364.5 901v1.5 M364.5 1141v1.5 M364.5 914v-1.5 M369.5 901v1.5 M369.5 1141v1.5 M369.5 914v-1.5 M374.5 901v1.5 M374.5 1141v1.5 M374.5 914v-1.5 M379.5 901v1.5 M379.5 1141v1.5 M379.5 914v-1.5 M384.5 901v1.5 M384.5 1141v1.5 M384.5 914v-1.5 M389.5 901v1.5 M389.5 1141v1.5 M389.5 914v-1.5 M394.5 901v1.5 M394.5 1141v1.5 M394.5 914v-1.5 M399.5 901v1.5 M399.5 1141v1.5 M399.5 914v-1.5 M404.5 901v1.5 M404.5 1141v1.5 M404.5 914v-1.5 M409.5 901v1.5 M409.5 1141v1.5 M409.5 914v-1.5 M414.5 901v1.5 M414.5 1141v1.5 M414.5 914v-1.5 M419.5 901v1.5 M419.5 1141v1.5 M419.5 914v-1.5 M424.5 901v1.5 M424.5 1141v1.5 M424.5 914v-1.5 M429.5 901v1.5 M429.5 1141v1.5 M429.5 914v-1.5 M434.5 901v1.5 M434.5 1141v1.5 M434.5 914v-1.5 M439.5 901v1.5 M439.5 1141v1.5 M439.5 914v-1.5 M444.5 901v1.5 M444.5 1141v1.5 M444.5 914v-1.5 M449.5 901v1.5 M449.5 1141v1.5 M449.5 914v-1.5 M454.5 901v1.5 M454.5 1141v1.5 M454.5 914v-1.5 M459.5 901v1.5 M459.5 1141v1.5 M459.5 914v-1.5 M464.5 901v1.5 M464.5 1141v1.5 M464.5 914v-1.5 M469.5 901v1.5 M469.5 1141v1.5 M469.5 914v-1.5 M474.5 901v1.5 M474.5 1141v1.5 M474.5 914v-1.5 M479.5 901v1.5 M479.5 1141v1.5 M479.5 914v-1.5 M484.5 901v1.5 M484.5 1141v1.5 M484.5 914v-1.5 M489.5 901v1.5 M489.5 1141v1.5 M489.5 914v-1.5 M494.5 901v1.5 M494.5 1141v1.5 M494.5 914v-1.5 M499.5 901v1.5 M499.5 1141v1.5 M499.5 914v-1.5 M504.5 901v1.5 M504.5 1141v1.5 M504.5 914v-1.5 M509.5 901v1.5 M509.5 1141v1.5 M509.5 914v-1.5 M514.5 901v1.5 M514.5 1141v1.5 M514.5 914v-1.5 M519.5 901v1.5 M519.5 1141v1.5 M519.5 914v-1.5 M524.5 901v1.5 M524.5 1141v1.5 M524.5 914v-1.5 M529.5 901v1.5 M529.5 1141v1.5 M529.5 914v-1.5 M534.5 901v1.5 M534.5 1141v1.5 M534.5 914v-1.5 M539.5 901v1.5 M539.5 1141v1.5 M539.5 914v-1.5 M544.5 901v1.5 M544.5 1141v1.5 M544.5 914v-1.5 M549.5 901v1.5 M549.5 1141v1.5 M549.5 914v-1.5 M554.5 901v1.5 M554.5 1141v1.5 M554.5 914v-1.5 M559.5 901v1.5 M559.5 1141v1.5 M559.5 914v-1.5 M564.5 901v1.5 M564.5 1141v1.5 M564.5 914v-1.5 M569.5 901v1.5 M569.5 1141v1.5 M569.5 914v-1.5 M574.5 901v1.5 M574.5 1141v1.5 M574.5 914v-1.5 M579.5 901v1.5 M579.5 1141v1.5 M579.5 914v-1.5 M584.5 901v1.5 M584.5 1141v1.5 M584.5 914v-1.5 M589.5 901v1.5 M589.5 1141v1.5 M589.5 914v-1.5 M594.5 901v1.5 M594.5 1141v1.5 M594.5 914v-1.5 M599.5 901v1.5 M599.5 1141v1.5 M599.5 914v-1.5 M604.5 901v1.5 M604.5 1141v1.5 M604.5 914v-1.5 M609.5 901v1.5 M609.5 1141v1.5 M609.5 914v-1.5 M614.5 901v1.5 M614.5 1141v1.5 M614.5 914v-1.5 M619.5 901v1.5 M619.5 1141v1.5 M619.5 914v-1.5 M624.5 901v1.5 M624.5 1141v1.5 M624.5 914v-1.5 M629.5 901v1.5 M629.5 1141v1.5 M629.5 914v-1.5 M634.5 901v1.5 M634.5 1141v1.5 M634.5 914v-1.5 M639.5 901v1.5 M639.5 1141v1.5 M639.5 914v-1.5 M644.5 901v1.5 M644.5 1141v1.5 M644.5 914v-1.5 M649.5 901v1.5 M649.5 1141v1.5 M649.5 914v-1.5 M654.5 901v1.5 M654.5 1141v1.5 M654.5 914v-1.5 M659.5 901v1.5 M659.5 1141v1.5 M659.5 914v-1.5 M664.5 901v1.5 M664.5 1141v1.5 M664.5 914v-1.5 M669.5 901v1.5 M669.5 1141v1.5 M669.5 914v-1.5 M674.5 901v1.5 M674.5 1141v1.5 M674.5 914v-1.5 M679.5 901v1.5 M679.5 1141v1.5 M679.5 914v-1.5 M684.5 901v1.5 M684.5 1141v1.5 M684.5 914v-1.5 M689.5 901v1.5 M689.5 1141v1.5 M689.5 914v-1.5 M694.5 901v1.5 M694.5 1141v1.5 M694.5 914v-1.5 M699.5 901v1.5 M699.5 1141v1.5 M699.5 914v-1.5 M704.5 901v1.5 M704.5 1141v1.5 M704.5 914v-1.5 M709.5 901v1.5 M709.5 1141v1.5 M709.5 914v-1.5 M714.5 901v1.5 M714.5 1141v1.5 M714.5 914v-1.5 M719.5 901v1.5 M719.5 1141v1.5 M719.5 914v-1.5 M724.5 901v1.5 M724.5 1141v1.5 M724.5 914v-1.5 M729.5 901v1.5 M729.5 1141v1.5 M729.5 914v-1.5 M734.5 901v1.5 M734.5 1141v1.5 M734.5 914v-1.5 M739.5 901v1.5 M739.5 1141v1.5 M739.5 914v-1.5 M744.5 901v1.5 M744.5 1141v1.5 M744.5 914v-1.5 M749.5 901v1.5 M749.5 1141v1.5 M749.5 914v-1.5 M754.5 901v1.5 M754.5 1141v1.5 M754.5 914v-1.5 M759.5 901v1.5 M759.5 1141v1.5 M759.5 914v-1.5 M764.5 901v1.5 M764.5 1141v1.5 M764.5 914v-1.5 M769.5 901v1.5 M769.5 1141v1.5 M769.5 914v-1.5 M774.5 901v1.5 M774.5 1141v1.5 M774.5 914v-1.5 M779.5 901v1.5 M779.5 1141v1.5 M779.5 914v-1.5 M784.5 901v1.5 M784.5 1141v1.5 M784.5 914v-1.5 M789.5 901v1.5 M789.5 1141v1.5 M789.5 914v-1.5 M794.5 901v1.5 M794.5 1141v1.5 M794.5 914v-1.5 M799.5 901v1.5 M799.5 1141v1.5 M799.5 914v-1.5 M804.5 901v1.5 M804.5 1141v1.5 M804.5 914v-1.5 M809.5 901v1.5 M809.5 1141v1.5 M809.5 914v-1.5 M814.5 901v1.5 M814.5 1141v1.5 M814.5 914v-1.5 M819.5 901v1.5 M819.5 1141v1.5 M819.5 914v-1.5 M824.5 901v1.5 M824.5 1141v1.5 M824.5 914v-1.5 M829.5 901v1.5 M829.5 1141v1.5 M829.5 914v-1.5 M834.5 901v1.5 M834.5 1141v1.5 M834.5 914v-1.5 M839.5 901v1.5 M839.5 1141v1.5 M839.5 914v-1.5 M844.5 901v1.5 M844.5 1141v1.5 M844.5 914v-1.5 M849.5 901v1.5 M849.5 1141v1.5 M849.5 914v-1.5 M854.5 901v1.5 M854.5 1141v1.5 M854.5 914v-1.5 M859.5 901v1.5 M859.5 1141v1.5 M859.5 914v-1.5 M864.5 901v1.5 M864.5 1141v1.5 M864.5 914v-1.5 M869.5 901v1.5 M869.5 1141v1.5 M869.5 914v-1.5 M874.5 901v1.5 M874.5 1141v1.5 M874.5 914v-1.5 M879.5 901v1.5 M879.5 1141v1.5 M879.5 914v-1.5 M884.5 901v1.5 M884.5 1141v1.5 M884.5 914v-1.5 M889.5 901v1.5 M889.5 1141v1.5 M889.5 914v-1.5 M894.5 901v1.5 M894.5 1141v1.5 M894.5 914v-1.5 M899.5 901v1.5 M899.5 1141v1.5 M899.5 914v-1.5 M904.5 901v1.5 M904.5 1141v1.5 M904.5 914v-1.5 M909.5 901v1.5 M909.5 1141v1.5 M909.5 914v-1.5 M914.5 901v1.5 M914.5 1141v1.5 M914.5 914v-1.5 M919.5 901v1.5 M919.5 1141v1.5 M919.5 914v-1.5 M924.5 901v1.5 M924.5 1141v1.5 M924.5 914v-1.5 M929.5 901v1.5 M929.5 1141v1.5 M929.5 914v-1.5 M934.5 901v1.5 M934.5 1141v1.5 M934.5 914v-1.5 M939.5 901v1.5 M939.5 1141v1.5 M939.5 914v-1.5 M944.5 901v1.5 M944.5 1141v1.5 M944.5 914v-1.5 M949.5 901v1.5 M949.5 1141v1.5 M949.5 914v-1.5 M954.5 901v1.5 M954.5 1141v1.5 M954.5 914v-1.5 M959.5 901v1.5 M959.5 1141v1.5 M959.5 914v-1.5 M964.5 901v1.5 M964.5 1141v1.5 M964.5 914v-1.5 M969.5 901v1.5 M969.5 1141v1.5 M969.5 914v-1.5 M974.5 901v1.5 M974.5 1141v1.5 M974.5 914v-1.5 M979.5 901v1.5 M979.5 1141v1.5 M979.5 914v-1.5 M984.5 901v1.5 M984.5 1141v1.5 M984.5 914v-1.5 M989.5 901v1.5 M989.5 1141v1.5 M989.5 914v-1.5 M994.5 901v1.5 M994.5 1141v1.5 M994.5 914v-1.5 M999.5 901v1.5 M999.5 1141v1.5 M999.5 914v-1.5 M1004.5 901v1.5 M1004.5 1141v1.5 M1004.5 914v-1.5 M1009.5 901v1.5 M1009.5 1141v1.5 M1009.5 914v-1.5 M1014.5 901v1.5 M1014.5 1141v1.5 M1014.5 914v-1.5 M1019.5 901v1.5 M1019.5 1141v1.5 M1019.5 914v-1.5 M1024.5 901v1.5 M1024.5 1141v1.5 M1024.5 914v-1.5 M1029.5 901v1.5 M1029.5 1141v1.5 M1029.5 914v-1.5 M1034.5 901v1.5 M1034.5 1141v1.5 M1034.5 914v-1.5 M1039.5 901v1.5 M1039.5 1141v1.5 M1039.5 914v-1.5 M1044.5 901v1.5 M1044.5 1141v1.5 M1044.5 914v-1.5 M1049.5 901v1.5 M1049.5 1141v1.5 M1049.5 914v-1.5 M1054.5 901v1.5 M1054.5 1141v1.5 M1054.5 914v-1.5 M1059.5 901v1.5 M1059.5 1141v1.5 M1059.5 914v-1.5 M1064.5 901v1.5 M1064.5 1141v1.5 M1064.5 914v-1.5 M1069.5 901v1.5 M1069.5 1141v1.5 M1069.5 914v-1.5 M1074.5 901v1.5 M1074.5 1141v1.5 M1074.5 914v-1.5 M1079.5 901v1.5 M1079.5 1141v1.5 M1079.5 914v-1.5 M1084.5 901v1.5 M1084.5 1141v1.5 M1084.5 914v-1.5 M1089.5 901v1.5 M1089.5 1141v1.5 M1089.5 914v-1.5 M1094.5 901v1.5 M1094.5 1141v1.5 M1094.5 914v-1.5 M1099.5 901v1.5 M1099.5 1141v1.5 M1099.5 914v-1.5 M1104.5 901v1.5 M1104.5 1141v1.5 M1104.5 914v-1.5 M1109.5 901v1.5 M1109.5 1141v1.5 M1109.5 914v-1.5 M1114.5 901v1.5 M1114.5 1141v1.5 M1114.5 914v-1.5 M1119.5 901v1.5 M1119.5 1141v1.5 M1119.5 914v-1.5 M1124.5 901v1.5 M1124.5 1141v1.5 M1124.5 914v-1.5 M1129.5 901v1.5 M1129.5 1141v1.5 M1129.5 914v-1.5 M1134.5 901v1.5 M1134.5 1141v1.5 M1134.5 914v-1.5 M1139.5 901v1.5 M1139.5 1141v1.5 M1139.5 914v-1.5 M1144.5 901v1.5 M1144.5 1141v1.5 M1144.5 914v-1.5 M1149.5 901v1.5 M1149.5 1141v1.5 M1149.5 914v-1.5 M1154.5 901v1.5 M1154.5 1141v1.5 M1154.5 914v-1.5 M1159.5 901v1.5 M1159.5 1141v1.5 M1159.5 914v-1.5 M1164.5 901v1.5 M1164.5 1141v1.5 M1164.5 914v-1.5 M1169.5 901v1.5 M1169.5 1141v1.5 M1169.5 914v-1.5 M1174.5 901v1.5 M1174.5 1141v1.5 M1174.5 914v-1.5 M1179.5 901v1.5 M1179.5 1141v1.5 M1179.5 914v-1.5 M1184.5 901v1.5 M1184.5 1141v1.5 M1184.5 914v-1.5 M1189.5 901v1.5 M1189.5 1141v1.5 M1189.5 914v-1.5 M1194.5 901v1.5 M1194.5 1141v1.5 M1194.5 914v-1.5 M1199.5 901v1.5 M1199.5 1141v1.5 M1199.5 914v-1.5 M1204.5 901v1.5 M1204.5 1141v1.5 M1204.5 914v-1.5 M1209.5 901v1.5 M1209.5 1141v1.5 M1209.5 914v-1.5 M1214.5 901v1.5 M1214.5 1141v1.5 M1214.5 914v-1.5 M1219.5 901v1.5 M1219.5 1141v1.5 M1219.5 914v-1.5 M1224.5 901v1.5 M1224.5 1141v1.5 M1224.5 914v-1.5 M1229.5 901v1.5 M1229.5 1141v1.5 M1229.5 914v-1.5 M1234.5 901v1.5 M1234.5 1141v1.5 M1234.5 914v-1.5 M1239.5 901v1.5 M1239.5 1141v1.5 M1239.5 914v-1.5 M1244.5 901v1.5 M1244.5 1141v1.5 M1244.5 914v-1.5 M1249.5 901v1.5 M1249.5 1141v1.5 M1249.5 914v-1.5 M1254.5 901v1.5 M1254.5 1141v1.5 M1254.5 914v-1.5 M1259.5 901v1.5 M1259.5 1141v1.5 M1259.5 914v-1.5 M1264.5 901v1.5 M1264.5 1141v1.5 M1264.5 914v-1.5 M1269.5 901v1.5 M1269.5 1141v1.5 M1269.5 914v-1.5 M1274.5 901v1.5 M1274.5 1141v1.5 M1274.5 914v-1.5 M1279.5 901v1.5 M1279.5 1141v1.5 M1279.5 914v-1.5 M1284.5 901v1.5 M1284.5 1141v1.5 M1284.5 914v-1.5 M1289.5 901v1.5 M1289.5 1141v1.5 M1289.5 914v-1.5 M1294.5 901v1.5 M1294.5 1141v1.5 M1294.5 914v-1.5 M1299.5 901v1.5 M1299.5 1141v1.5 M1299.5 914v-1.5 M1304.5 901v1.5 M1304.5 1141v1.5 M1304.5 914v-1.5 M1309.5 901v1.5 M1309.5 1141v1.5 M1309.5 914v-1.5 M1314.5 901v1.5 M1314.5 1141v1.5 M1314.5 914v-1.5 M1319.5 901v1.5 M1319.5 1141v1.5 M1319.5 914v-1.5 M1324.5 901v1.5 M1324.5 1141v1.5 M1324.5 914v-1.5 M1329.5 901v1.5 M1329.5 1141v1.5 M1329.5 914v-1.5 M1334.5 901v1.5 M1334.5 1141v1.5 M1334.5 914v-1.5 M1339.5 901v1.5 M1339.5 1141v1.5 M1339.5 914v-1.5 M1344.5 901v1.5 M1344.5 1141v1.5 M1344.5 914v-1.5 M1349.5 901v1.5 M1349.5 1141v1.5 M1349.5 914v-1.5 M1354.5 901v1.5 M1354.5 1141v1.5 M1354.5 914v-1.5 M1359.5 901v1.5 M1359.5 1141v1.5 M1359.5 914v-1.5 M1364.5 901v1.5 M1364.5 1141v1.5 M1364.5 914v-1.5 M1369.5 901v1.5 M1369.5 1141v1.5 M1369.5 914v-1.5 M1374.5 901v1.5 M1374.5 1141v1.5 M1374.5 914v-1.5 M1379.5 901v1.5 M1379.5 1141v1.5 M1379.5 914v-1.5 M1384.5 901v1.5 M1384.5 1141v1.5 M1384.5 914v-1.5 M1389.5 901v1.5 M1389.5 1141v1.5 M1389.5 914v-1.5 M1394.5 901v1.5 M1394.5 1141v1.5 M1394.5 914v-1.5 M1399.5 901v1.5 M1399.5 1141v1.5 M1399.5 914v-1.5 M1404.5 901v1.5 M1404.5 1141v1.5 M1404.5 914v-1.5 M1409.5 901v1.5 M1409.5 1141v1.5 M1409.5 914v-1.5 M1414.5 901v1.5 M1414.5 1141v1.5 M1414.5 914v-1.5 M1419.5 901v1.5 M1419.5 1141v1.5 M1419.5 914v-1.5 M1424.5 901v1.5 M1424.5 1141v1.5 M1424.5 914v-1.5 M1429.5 901v1.5 M1429.5 1141v1.5 M1429.5 914v-1.5 M1434.5 901v1.5 M1434.5 1141v1.5 M1434.5 914v-1.5 M1439.5 901v1.5 M1439.5 1141v1.5 M1439.5 914v-1.5 M1444.5 901v1.5 M1444.5 1141v1.5 M1444.5 914v-1.5 M1449.5 901v1.5 M1449.5 1141v1.5 M1449.5 914v-1.5 M1454.5 901v1.5 M1454.5 1141v1.5 M1454.5 914v-1.5 M1459.5 901v1.5 M1459.5 1141v1.5 M1459.5 914v-1.5 M1464.5 901v1.5 M1464.5 1141v1.5 M1464.5 914v-1.5 M1469.5 901v1.5 M1469.5 1141v1.5 M1469.5 914v-1.5 M1474.5 901v1.5 M1474.5 1141v1.5 M1474.5 914v-1.5 M1479.5 901v1.5 M1479.5 1141v1.5 M1479.5 914v-1.5 M1484.5 901v1.5 M1484.5 1141v1.5 M1484.5 914v-1.5 M1489.5 901v1.5 M1489.5 1141v1.5 M1489.5 914v-1.5 M1494.5 901v1.5 M1494.5 1141v1.5 M1494.5 914v-1.5 M1499.5 901v1.5 M1499.5 1141v1.5 M1499.5 914v-1.5 M1504.5 901v1.5 M1504.5 1141v1.5 M1504.5 914v-1.5 M1509.5 901v1.5 M1509.5 1141v1.5 M1509.5 914v-1.5 M1514.5 901v1.5 M1514.5 1141v1.5 M1514.5 914v-1.5" stroke="#b0b0b0" stroke-width="1" fill="none"/>
<text x="1524.7" y="60" font-size="10.4" text-anchor="start" font-weight="normal" fill="#000" font-family="Liberation Sans, Arial, sans-serif" >90</text>
<text x="1524.7" y="102.3" font-size="10.4" text-anchor="start" font-weight="normal" fill="#000" font-family="Liberation Sans, Arial, sans-serif" >70</text>
<text x="1524.7" y="144.6" font-size="10.4" text-anchor="start" font-weight="normal" fill="#000" font-family="Liberation Sans, Arial, sans-serif" >50</text>
<text x="1524.7" y="187" font-size="10.4" text-anchor="start" font-weight="normal" fill="#000" font-family="Liberation Sans, Arial, sans-serif" >30</text>
<text x="1524.7" y="229.3" font-size="10.4" text-anchor="start" font-weight="normal" fill="#000" font-family="Liberation Sans, Arial, sans-serif" >10</text>
<text x="1524.7" y="894.2" font-size="10.4" text-anchor="start" font-weight="normal" fill="#000" font-family="Liberation Sans, Arial, sans-serif" >2200</text>
<text x="1524.7" y="866.3" font-size="10.4" text-anchor="start" font-weight="normal" fill="#000" font-family="Liberation Sans, Arial, sans-serif" >2300</text>
<text x="1524.7" y="839.7" font-size="10.4" text-anchor="start" font-weight="normal" fill="#000" font-family="Liberation Sans, Arial, sans-serif" >2400</text>
<text x="1524.7" y="814.1" font-size="10.4" text-anchor="start" font-weight="normal" fill="#000" font-family="Liberation Sans, Arial, sans-serif" >2500</text>
<text x="1524.7" y="789.5" font-size="10.4" text-anchor="start" font-weight="normal" fill="#000" font-family="Liberation Sans, Arial, sans-serif" >2600</text>
<text x="1524.7" y="765.9" font-size="10.4" text-anchor="start" font-weight="normal" fill="#000" font-family="Liberation Sans, Arial, sans-serif" >2700</text>
<text x="1524.7" y="743.1" font-size="10.4" text-anchor="start" font-weight="normal" fill="#000" font-family="Liberation Sans, Arial, sans-serif" >2800</text>
<text x="1524.7" y="721.1" font-size="10.4" text-anchor="start" font-weight="normal" fill="#000" font-family="Liberation Sans, Arial, sans-serif" >2900</text>
<text x="1524.7" y="699.9" font-size="10.4" text-anchor="start" font-weight="normal" fill="#000" font-family="Liberation Sans, Arial, sans-serif" >3000</text>
<text x="1524.7" y="679.3" font-size="10.4" text-anchor="start" font-weight="normal" fill="#000" font-family="Liberation Sans, Arial, sans-serif" >3100</text>
<text x="1524.7" y="659.5" font-size="10.4" text-anchor="start" font-weight="normal" fill="#000" font-family="Liberation Sans, Arial, sans-serif" >3200</text>
<text x="1524.7" y="640.2" font-size="10.4" text-anchor="start" font-weight="normal" fill="#000" font-family="Liberation Sans, Arial, sans-serif" >3300</text>
<text x="1524.7" y="621.5" font-size="10.4" text-anchor="start" font-weight="normal" fill="#000" font-family="Liberation Sans, Arial, sans-serif" >3400</text>
<text x="1524.7" y="603.3" font-size="10.4" text-anchor="start" font-weight="normal" fill="#000" font-family="Liberation Sans, Arial, sans-serif" >3500</text>
<text x="1524.7" y="585.7" font-size="10.4" text-anchor="start" font-weight="normal" fill="#000" font-family="Liberation Sans, Arial, sans-serif" >3600</text>
<text x="1524.7" y="568.5" font-size="10.4" text-anchor="start" font-weight="normal" fill="#000" font-family="Liberation Sans, Arial, sans-serif" >3700</text>
<text x="1524.7" y="551.8" font-size="10.4" text-anchor="start" font-weight="normal" fill="#000" font-family="Liberation Sans, Arial, sans-serif" >3800</text>
<text x="1524.7" y="535.5" font-size="10.4" text-anchor="start" font-weight="normal" fill="#000" font-family="Liberation Sans, Arial, sans-serif" >3900</text>
<text x="1524.7" y="519.7" font-size="10.4" text-anchor="start" font-weight="normal" fill="#000" font-family="Liberation Sans, Arial, sans-serif" >4000</text>
<text x="1524.7" y="504.2" font-size="10.4" text-anchor="start" font-weight="normal" fill="#000" font-family="Liberation Sans, Arial, sans-serif" >4100</text>
<text x="1524.7" y="489.1" font-size="10.4" text-anchor="start" font-weight="normal" fill="#000" font-family="Liberation Sans, Arial, sans-serif" >4200</text>
<text x="1524.7" y="474.4" font-size="10.4" text-anchor="start" font-weight="normal" fill="#000" font-family="Liberation Sans, Arial, sans-serif" >4300</text>
<text x="1524.7" y="460" font-size="10.4" text-anchor="start" font-weight="normal" fill="#000" font-family="Liberation Sans, Arial, sans-serif" >4400</text>
<text x="1524.7" y="445.9" font-size="10.4" text-anchor="start" font-weight="normal" fill="#000" font-family="Liberation Sans, Arial, sans-serif" >4500</text>
<text x="1524.7" y="432.1" font-size="10.4" text-anchor="start" font-weight="normal" fill="#000" font-family="Liberation Sans, Arial, sans-serif" >4600</text>
<text x="1524.7" y="418.7" font-size="10.4" text-anchor="start" font-weight="normal" fill="#000" font-family="Liberation Sans, Arial, sans-serif" >4700</text>
<text x="1524.7" y="405.5" font-size="10.4" text-anchor="start" font-weight="normal" fill="#000" font-family="Liberation Sans, Arial, sans-serif" >4800</text>
<text x="1524.7" y="392.6" font-size="10.4" text-anchor="start" font-weight="normal" fill="#000" font-family="Liberation Sans, Arial, sans-serif" >4900</text>
<text x="1524.7" y="379.9" font-size="10.4" text-anchor="start" font-weight="normal" fill="#000" font-family="Liberation Sans, Arial, sans-serif" >5000</text>
<text x="1524.7" y="367.5" font-size="10.4" text-anchor="start" font-weight="normal" fill="#000" font-family="Liberation Sans, Arial, sans-serif" >5100</text>
<text x="1524.7" y="355.3" font-size="10.4" text-anchor="start" font-weight="normal" fill="#000" font-family="Liberation Sans, Arial, sans-serif" >5200</text>
<text x="1524.7" y="343.4" font-size="10.4" text-anchor="start" font-weight="normal" fill="#000" font-family="Liberation Sans, Arial, sans-serif" >5300</text>
<text x="1524.7" y="331.7" font-size="10.4" text-anchor="start" font-weight="normal" fill="#000" font-family="Liberation Sans, Arial, sans-serif" >5400</text>
<text x="1524.7" y="320.2" font-size="10.4" text-anchor="start" font-weight="normal" fill="#000" font-family="Liberation Sans, Arial, sans-serif" >5500</text>
<text x="1524.7" y="308.9" font-size="10.4" text-anchor="start" font-weight="normal" fill="#000" font-family="Liberation Sans, Arial, sans-serif" >5600</text>
<text x="1524.7" y="297.8" font-size="10.4" text-anchor="start" font-weight="normal" fill="#000" font-family="Liberation Sans, Arial, sans-serif" >5700</text>
<text x="1524.7" y="286.9" font-size="10.4" text-anchor="start" font-weight="normal" fill="#000" font-family="Liberation Sans, Arial, sans-serif" >5800</text>
<text x="1524.7" y="276.2" font-size="10.4" text-anchor="start" font-weight="normal" fill="#000" font-family="Liberation Sans, Arial, sans-serif" >5900</text>
<text x="1524.7" y="265.7" font-size="10.4" text-anchor="start" font-weight="normal" fill="#000" font-family="Liberation Sans, Arial, sans-serif" >6000</text>
<text x="1545.3" y="1130.3" font-size="10.4" text-anchor="end" font-weight="normal" fill="#000" font-family="Liberation Sans, Arial, sans-serif" >-150</text>
<text x="1545.3" y="1115.8" font-size="10.4" text-anchor="end" font-weight="normal" fill="#000" font-family="Liberation Sans, Arial, sans-serif" >-125</text>
<text x="1545.3" y="1101.3" font-size="10.4" text-anchor="end" font-weight="normal" fill="#000" font-family="Liberation Sans, Arial, sans-serif" >-100</text>
<text x="1545.3" y="1086.8" font-size="10.4" text-anchor="end" font-weight="normal" fill="#000" font-family="Liberation Sans, Arial, sans-serif" >-75</text>
<text x="1545.3" y="1072.3" font-size="10.4" text-anchor="end" font-weight="normal" fill="#000" font-family="Liberation Sans, Arial, sans-serif" >-50</text>
<text x="1545.3" y="1057.8" font-size="10.4" text-anchor="end" font-weight="normal" fill="#000" font-family="Liberation Sans, Arial, sans-serif" >-25</text>
<text x="1545.3" y="1043.3" font-size="10.4" text-anchor="end" font-weight="normal" fill="#000" font-family="Liberation Sans, Arial, sans-serif" >0</text>
<text x="1545.3" y="1028.8" font-size="10.4" text-anchor="end" font-weight="normal" fill="#000" font-family="Liberation Sans, Arial, sans-serif" >25</text>
<text x="1545.3" y="1014.3" font-size="10.4" text-anchor="end" font-weight="normal" fill="#000" font-family="Liberation Sans, Arial, sans-serif" >50</text>
<text x="1545.3" y="999.8" font-size="10.4" text-anchor="end" font-weight="normal" fill="#000" font-family="Liberation Sans, Arial, sans-serif" >75</text>
<text x="1545.3" y="985.3" font-size="10.4" text-anchor="end" font-weight="normal" fill="#000" font-family="Liberation Sans, Arial, sans-serif" >100</text>
<text x="1545.3" y="970.8" font-size="10.4" text-anchor="end" font-weight="normal" fill="#000" font-family="Liberation Sans, Arial, sans-serif" >125</text>
<text x="1545.3" y="956.3" font-size="10.4" text-anchor="end" font-weight="normal" fill="#000" font-family="Liberation Sans, Arial, sans-serif" >150</text>
<text x="1545.3" y="941.8" font-size="10.4" text-anchor="end" font-weight="normal" fill="#000" font-family="Liberation Sans, Arial, sans-serif" >175</text>
<text x="1545.3" y="927.3" font-size="10.4" text-anchor="end" font-weight="normal" fill="#000" font-family="Liberation Sans, Arial, sans-serif" >200</text>
<text x="44.5" y="882.9" font-size="10.6" text-anchor="end" font-weight="normal" fill="#000" font-family="Liberation Sans, Arial, sans-serif" >2.5B</text>
<text x="44.5" y="864" font-size="10.6" text-anchor="end" font-weight="normal" fill="#000" font-family="Liberation Sans, Arial, sans-serif" >5.0B</text>
<text x="44.5" y="845" font-size="10.6" text-anchor="end" font-weight="normal" fill="#000" font-family="Liberation Sans, Arial, sans-serif" >7.5B</text>
<text x="44.5" y="826" font-size="10.6" text-anchor="end" font-weight="normal" fill="#000" font-family="Liberation Sans, Arial, sans-serif" >10.0B</text>
<text x="44.5" y="807.1" font-size="10.6" text-anchor="end" font-weight="normal" fill="#000" font-family="Liberation Sans, Arial, sans-serif" >12.5B</text>
<text x="44.5" y="788.1" font-size="10.6" text-anchor="end" font-weight="normal" fill="#000" font-family="Liberation Sans, Arial, sans-serif" >15.0B</text>
<text x="44.5" y="769.1" font-size="10.6" text-anchor="end" font-weight="normal" fill="#000" font-family="Liberation Sans, Arial, sans-serif" >17.5B</text>
<text x="44.5" y="750.2" font-size="10.6" text-anchor="end" font-weight="normal" fill="#000" font-family="Liberation Sans, Arial, sans-serif" >20.0B</text>
<text x="44.5" y="731.2" font-size="10.6" text-anchor="end" font-weight="normal" fill="#000" font-family="Liberation Sans, Arial, sans-serif" >22.5B</text>
<text x="44.5" y="712.2" font-size="10.6" text-anchor="end" font-weight="normal" fill="#000" font-family="Liberation Sans, Arial, sans-serif" >25.0B</text>
<text x="70.3" y="910.5" font-size="10.4" text-anchor="middle" font-weight="normal" fill="#000" font-family="Liberation Sans, Arial, sans-serif" >M</text>
<text x="70.3" y="1151.5" font-size="10.4" text-anchor="middle" font-weight="normal" fill="#000" font-family="Liberation Sans, Arial, sans-serif" >M</text>
<text x="90.3" y="910.5" font-size="10.4" text-anchor="middle" font-weight="normal" fill="#000" font-family="Liberation Sans, Arial, sans-serif" >J</text>
<text x="90.3" y="1151.5" font-size="10.4" text-anchor="middle" font-weight="normal" fill="#000" font-family="Liberation Sans, Arial, sans-serif" >J</text>
<text x="110.3" y="910.5" font-size="10.4" text-anchor="middle" font-weight="normal" fill="#000" font-family="Liberation Sans, Arial, sans-serif" >J</text>
<text x="110.3" y="1151.5" font-size="10.4" text-anchor="middle" font-weight="normal" fill="#000" font-family="Liberation Sans, Arial, sans-serif" >J</text>
<text x="135.3" y="910.5" font-size="10.4" text-anchor="middle" font-weight="normal" fill="#000" font-family="Liberation Sans, Arial, sans-serif" >A</text>
<text x="135.3" y="1151.5" font-size="10.4" text-anchor="middle" font-weight="normal" fill="#000" font-family="Liberation Sans, Arial, sans-serif" >A</text>
<text x="155.3" y="910.5" font-size="10.4" text-anchor="middle" font-weight="normal" fill="#000" font-family="Liberation Sans, Arial, sans-serif" >S</text>
<text x="155.3" y="1151.5" font-size="10.4" text-anchor="middle" font-weight="normal" fill="#000" font-family="Liberation Sans, Arial, sans-serif" >S</text>
<text x="180.3" y="910.5" font-size="10.4" text-anchor="middle" font-weight="normal" fill="#000" font-family="Liberation Sans, Arial, sans-serif" >O</text>
<text x="180.3" y="1151.5" font-size="10.4" text-anchor="middle" font-weight="normal" fill="#000" font-family="Liberation Sans, Arial, sans-serif" >O</text>
<text x="200.3" y="910.5" font-size="10.4" text-anchor="middle" font-weight="normal" fill="#000" font-family="Liberation Sans, Arial, sans-serif" >N</text>
<text x="200.3" y="1151.5" font-size="10.4" text-anchor="middle" font-weight="normal" fill="#000" font-family="Liberation Sans, Arial, sans-serif" >N</text>
<text x="220.3" y="910.5" font-size="10.4" text-anchor="middle" font-weight="normal" fill="#000" font-family="Liberation Sans, Arial, sans-serif" >D</text>
<text x="220.3" y="1151.5" font-size="10.4" text-anchor="middle" font-weight="normal" fill="#000" font-family="Liberation Sans, Arial, sans-serif" >D</text>
<text x="245.3" y="910.5" font-size="11" text-anchor="middle" font-weight="bold" fill="#000" font-family="Liberation Sans, Arial, sans-serif" >20</text>
<text x="245.3" y="1151.5" font-size="11" text-anchor="middle" font-weight="bold" fill="#000" font-family="Liberation Sans, Arial, sans-serif" >20</text>
<text x="265.3" y="910.5" font-size="10.4" text-anchor="middle" font-weight="normal" fill="#000" font-family="Liberation Sans, Arial, sans-serif" >F</text>
<text x="265.3" y="1151.5" font-size="10.4" text-anchor="middle" font-weight="normal" fill="#000" font-family="Liberation Sans, Arial, sans-serif" >F</text>
<text x="285.3" y="910.5" font-size="10.4" text-anchor="middle" font-weight="normal" fill="#000" font-family="Liberation Sans, Arial, sans-serif" >M</text>
<text x="285.3" y="1151.5" font-size="10.4" text-anchor="middle" font-weight="normal" fill="#000" font-family="Liberation Sans, Arial, sans-serif" >M</text>
<text x="310.3" y="910.5" font-size="10.4" text-anchor="middle" font-weight="normal" fill="#000" font-family="Liberation Sans, Arial, sans-serif" >A</text>
<text x="310.3" y="1151.5" font-size="10.4" text-anchor="middle" font-weight="normal" fill="#000" font-family="Liberation Sans, Arial, sans-serif" >A</text>
<text x="330.3" y="910.5" font-size="10.4" text-anchor="middle" font-weight="normal" fill="#000" font-family="Liberation Sans, Arial, sans-serif" >M</text>
<text x="330.3" y="1151.5" font-size="10.4" text-anchor="middle" font-weight="normal" fill="#000" font-family="Liberation Sans, Arial, sans-serif" >M</text>
<text x="350.3" y="910.5" font-size="10.4" text-anchor="middle" font-weight="normal" fill="#000" font-family="Liberation Sans, Arial, sans-serif" >J</text>
<text x="350.3" y="1151.5" font-size="10.4" text-anchor="middle" font-weight="normal" fill="#000" font-family="Liberation Sans, Arial, sans-serif" >J</text>
<text x="375.3" y="910.5" font-size="10.4" text-anchor="middle" font-weight="normal" fill="#000" font-family="Liberation Sans, Arial, sans-serif" >J</text>
<text x="375.3" y="1151.5" font-size="10.4" text-anchor="middle" font-weight="normal" fill="#000" font-family="Liberation Sans, Arial, sans-serif" >J</text>
<text x="395.3" y="910.5" font-size="10.4" text-anchor="middle" font-weight="normal" fill="#000" font-family="Liberation Sans, Arial, sans-serif" >A</text>
<text x="395.3" y="1151.5" font-size="10.4" text-anchor="middle" font-weight="normal" fill="#000" font-family="Liberation Sans, Arial, sans-serif" >A</text>
<text x="420.3" y="910.5" font-size="10.4" text-anchor="middle" font-weight="normal" fill="#000" font-family="Liberation Sans, Arial, sans-serif" >S</text>
<text x="420.3" y="1151.5" font-size="10.4" text-anchor="middle" font-weight="normal" fill="#000" font-family="Liberation Sans, Arial, sans-serif" >S</text>
<text x="440.3" y="910.5" font-size="10.4" text-anchor="middle" font-weight="normal" fill="#000" font-family="Liberation Sans, Arial, sans-serif" >O</text>
<text x="440.3" y="1151.5" font-size="10.4" text-anchor="middle" font-weight="normal" fill="#000" font-family="Liberation Sans, Arial, sans-serif" >O</text>
<text x="460.3" y="910.5" font-size="10.4" text-anchor="middle" font-weight="normal" fill="#000" font-family="Liberation Sans, Arial, sans-serif" >N</text>
<text x="460.3" y="1151.5" font-size="10.4" text-anchor="middle" font-weight="normal" fill="#000" font-family="Liberation Sans, Arial, sans-serif" >N</text>
<text x="485.3" y="910.5" font-size="10.4" text-anchor="middle" font-weight="normal" fill="#000" font-family="Liberation Sans, Arial, sans-serif" >D</text>
<text x="485.3" y="1151.5" font-size="10.4" text-anchor="middle" font-weight="normal" fill="#000" font-family="Liberation Sans, Arial, sans-serif" >D</text>
<text x="505.3" y="910.5" font-size="11" text-anchor="middle" font-weight="bold" fill="#000" font-family="Liberation Sans, Arial, sans-serif" >21</text>
<text x="505.3" y="1151.5" font-size="11" text-anchor="middle" font-weight="bold" fill="#000" font-family="Liberation Sans, Arial, sans-serif" >21</text>
<text x="525.3" y="910.5" font-size="10.4" text-anchor="middle" font-weight="normal" fill="#000" font-family="Liberation Sans, Arial, sans-serif" >F</text>
<text x="525.3" y="1151.5" font-size="10.4" text-anchor="middle" font-weight="normal" fill="#000" font-family="Liberation Sans, Arial, sans-serif" >F</text>
<text x="545.3" y="910.5" font-size="10.4" text-anchor="middle" font-weight="normal" fill="#000" font-family="Liberation Sans, Arial, sans-serif" >M</text>
<text x="545.3" y="1151.5" font-size="10.4" text-anchor="middle" font-weight="normal" fill="#000" font-family="Liberation Sans, Arial, sans-serif" >M</text>
<text x="570.3" y="910.5" font-size="10.4" text-anchor="middle" font-weight="normal" fill="#000" font-family="Liberation Sans, Arial, sans-serif" >A</text>
<text x="570.3" y="1151.5" font-size="10.4" text-anchor="middle" font-weight="normal" fill="#000" font-family="Liberation Sans, Arial, sans-serif" >A</text>
<text x="590.3" y="910.5" font-size="10.4" text-anchor="middle" font-weight="normal" fill="#000" font-family="Liberation Sans, Arial, sans-serif" >M</text>
<text x="590.3" y="1151.5" font-size="10.4" text-anchor="middle" font-weight="normal" fill="#000" font-family="Liberation Sans, Arial, sans-serif" >M</text>
<text x="610.3" y="910.5" font-size="10.4" text-anchor="middle" font-weight="normal" fill="#000" font-family="Liberation Sans, Arial, sans-serif" >J</text>
<text x="610.3" y="1151.5" font-size="10.4" text-anchor="middle" font-weight="normal" fill="#000" font-family="Liberation Sans, Arial, sans-serif" >J</text>
<text x="635.3" y="910.5" font-size="10.4" text-anchor="middle" font-weight="normal" fill="#000" font-family="Liberation Sans, Arial, sans-serif" >J</text>
<text x="635.3" y="1151.5" font-size="10.4" text-anchor="middle" font-weight="normal" fill="#000" font-family="Liberation Sans, Arial, sans-serif" >J</text>
<text x="655.3" y="910.5" font-size="10.4" text-anchor="middle" font-weight="normal" fill="#000" font-family="Liberation Sans, Arial, sans-serif" >A</text>
<text x="655.3" y="1151.5" font-size="10.4" text-anchor="middle" font-weight="normal" fill="#000" font-family="Liberation Sans, Arial, sans-serif" >A</text>
<text x="680.3" y="910.5" font-size="10.4" text-anchor="middle" font-weight="normal" fill="#000" font-family="Liberation Sans, Arial, sans-serif" >S</text>
<text x="680.3" y="1151.5" font-size="10.4" text-anchor="middle" font-weight="normal" fill="#000" font-family="Liberation Sans, Arial, sans-serif" >S</text>
<text x="700.3" y="910.5" font-size="10.4" text-anchor="middle" font-weight="normal" fill="#000" font-family="Liberation Sans, Arial, sans-serif" >O</text>
<text x="700.3" y="1151.5" font-size="10.4" text-anchor="middle" font-weight="normal" fill="#000" font-family="Liberation Sans, Arial, sans-serif" >O</text>
<text x="720.3" y="910.5" font-size="10.4" text-anchor="middle" font-weight="normal" fill="#000" font-family="Liberation Sans, Arial, sans-serif" >N</text>
<text x="720.3" y="1151.5" font-size="10.4" text-anchor="middle" font-weight="normal" fill="#000" font-family="Liberation Sans, Arial, sans-serif" >N</text>
<text x="745.3" y="910.5" font-size="10.4" text-anchor="middle" font-weight="normal" fill="#000" font-family="Liberation Sans, Arial, sans-serif" >D</text>
<text x="745.3" y="1151.5" font-size="10.4" text-anchor="middle" font-weight="normal" fill="#000" font-family="Liberation Sans, Arial, sans-serif" >D</text>
<text x="765.3" y="910.5" font-size="11" text-anchor="middle" font-weight="bold" fill="#000" font-family="Liberation Sans, Arial, sans-serif" >22</text>
<text x="765.3" y="1151.5" font-size="11" text-anchor="middle" font-weight="bold" fill="#000" font-family="Liberation Sans, Arial, sans-serif" >22</text>
<text x="790.3" y="910.5" font-size="10.4" text-anchor="middle" font-weight="normal" fill="#000" font-family="Liberation Sans, Arial, sans-serif" >F</text>
<text x="790.3" y="1151.5" font-size="10.4" text-anchor="middle" font-weight="normal" fill="#000" font-family="Liberation Sans, Arial, sans-serif" >F</text>
<text x="810.3" y="910.5" font-size="10.4" text-anchor="middle" font-weight="normal" fill="#000" font-family="Liberation Sans, Arial, sans-serif" >M</text>
<text x="810.3" y="1151.5" font-size="10.4" text-anchor="middle" font-weight="normal" fill="#000" font-family="Liberation Sans, Arial, sans-serif" >M</text>
<text x="830.3" y="910.5" font-size="10.4" text-anchor="middle" font-weight="normal" fill="#000" font-family="Liberation Sans, Arial, sans-serif" >A</text>
<text x="830.3" y="1151.5" font-size="10.4" text-anchor="middle" font-weight="normal" fill="#000" font-family="Liberation Sans, Arial, sans-serif" >A</text>
<text x="850.3" y="910.5" font-size="10.4" text-anchor="middle" font-weight="normal" fill="#000" font-family="Liberation Sans, Arial, sans-serif" >M</text>
<text x="850.3" y="1151.5" font-size="10.4" text-anchor="middle" font-weight="normal" fill="#000" font-family="Liberation Sans, Arial, sans-serif" >M</text>
<text x="875.3" y="910.5" font-size="10.4" text-anchor="middle" font-weight="normal" fill="#000" font-family="Liberation Sans, Arial, sans-serif" >J</text>
<text x="875.3" y="1151.5" font-size="10.4" text-anchor="middle" font-weight="normal" fill="#000" font-family="Liberation Sans, Arial, sans-serif" >J</text>
<text x="895.3" y="910.5" font-size="10.4" text-anchor="middle" font-weight="normal" fill="#000" font-family="Liberation Sans, Arial, sans-serif" >J</text>
<text x="895.3" y="1151.5" font-size="10.4" text-anchor="middle" font-weight="normal" fill="#000" font-family="Liberation Sans, Arial, sans-serif" >J</text>
<text x="915.3" y="910.5" font-size="10.4" text-anchor="middle" font-weight="normal" fill="#000" font-family="Liberation Sans, Arial, sans-serif" >A</text>
<text x="915.3" y="1151.5" font-size="10.4" text-anchor="middle" font-weight="normal" fill="#000" font-family="Liberation Sans, Arial, sans-serif" >A</text>
<text x="940.3" y="910.5" font-size="10.4" text-anchor="middle" font-weight="normal" fill="#000" font-family="Liberation Sans, Arial, sans-serif" >S</text>
<text x="940.3" y="1151.5" font-size="10.4" text-anchor="middle" font-weight="normal" fill="#000" font-family="Liberation Sans, Arial, sans-serif" >S</text>
<text x="960.3" y="910.5" font-size="10.4" text-anchor="middle" font-weight="normal" fill="#000" font-family="Liberation Sans, Arial, sans-serif" >O</text>
<text x="960.3" y="1151.5" font-size="10.4" text-anchor="middle" font-weight="normal" fill="#000" font-family="Liberation Sans, Arial, sans-serif" >O</text>
<text x="985.3" y="910.5" font-size="10.4" text-anchor="middle" font-weight="normal" fill="#000" font-family="Liberation Sans, Arial, sans-serif" >N</text>
<text x="985.3" y="1151.5" font-size="10.4" text-anchor="middle" font-weight="normal" fill="#000" font-family="Liberation Sans, Arial, sans-serif" >N</text>
<text x="1005.3" y="910.5" font-size="10.4" text-anchor="middle" font-weight="normal" fill="#000" font-family="Liberation Sans, Arial, sans-serif" >D</text>
<text x="1005.3" y="1151.5" font-size="10.4" text-anchor="middle" font-weight="normal" fill="#000" font-family="Liberation Sans, Arial, sans-serif" >D</text>
<text x="1025.3" y="910.5" font-size="11" text-anchor="middle" font-weight="bold" fill="#000" font-family="Liberation Sans, Arial, sans-serif" >23</text>
<text x="1025.3" y="1151.5" font-size="11" text-anchor="middle" font-weight="bold" fill="#000" font-family="Liberation Sans, Arial, sans-serif" >23</text>
<text x="1050.3" y="910.5" font-size="10.4" text-anchor="middle" font-weight="normal" fill="#000" font-family="Liberation Sans, Arial, sans-serif" >F</text>
<text x="1050.3" y="1151.5" font-size="10.4" text-anchor="middle" font-weight="normal" fill="#000" font-family="Liberation Sans, Arial, sans-serif" >F</text>
<text x="1070.3" y="910.5" font-size="10.4" text-anchor="middle" font-weight="normal" fill="#000" font-family="Liberation Sans, Arial, sans-serif" >M</text>
<text x="1070.3" y="1151.5" font-size="10.4" text-anchor="middle" font-weight="normal" fill="#000" font-family="Liberation Sans, Arial, sans-serif" >M</text>
<text x="1090.3" y="910.5" font-size="10.4" text-anchor="middle" font-weight="normal" fill="#000" font-family="Liberation Sans, Arial, sans-serif" >A</text>
<text x="1090.3" y="1151.5" font-size="10.4" text-anchor="middle" font-weight="normal" fill="#000" font-family="Liberation Sans, Arial, sans-serif" >A</text>
<text x="1110.3" y="910.5" font-size="10.4" text-anchor="middle" font-weight="normal" fill="#000" font-family="Liberation Sans, Arial, sans-serif" >M</text>
<text x="1110.3" y="1151.5" font-size="10.4" text-anchor="middle" font-weight="normal" fill="#000" font-family="Liberation Sans, Arial, sans-serif" >M</text>
<text x="1135.3" y="910.5" font-size="10.4" text-anchor="middle" font-weight="normal" fill="#000" font-family="Liberation Sans, Arial, sans-serif" >J</text>
<text x="1135.3" y="1151.5" font-size="10.4" text-anchor="middle" font-weight="normal" fill="#000" font-family="Liberation Sans, Arial, sans-serif" >J</text>
<text x="1155.3" y="910.5" font-size="10.4" text-anchor="middle" font-weight="normal" fill="#000" font-family="Liberation Sans, Arial, sans-serif" >J</text>
<text x="1155.3" y="1151.5" font-size="10.4" text-anchor="middle" font-weight="normal" fill="#000" font-family="Liberation Sans, Arial, sans-serif" >J</text>
<text x="1180.3" y="910.5" font-size="10.4" text-anchor="middle" font-weight="normal" fill="#000" font-family="Liberation Sans, Arial, sans-serif" >A</text>
<text x="1180.3" y="1151.5" font-size="10.4" text-anchor="middle" font-weight="normal" fill="#000" font-family="Liberation Sans, Arial, sans-serif" >A</text>
<text x="1200.3" y="910.5" font-size="10.4" text-anchor="middle" font-weight="normal" fill="#000" font-family="Liberation Sans, Arial, sans-serif" >S</text>
<text x="1200.3" y="1151.5" font-size="10.4" text-anchor="middle" font-weight="normal" fill="#000" font-family="Liberation Sans, Arial, sans-serif" >S</text>
<text x="1220.3" y="910.5" font-size="10.4" text-anchor="middle" font-weight="normal" fill="#000" font-family="Liberation Sans, Arial, sans-serif" >O</text>
<text x="1220.3" y="1151.5" font-size="10.4" text-anchor="middle" font-weight="normal" fill="#000" font-family="Liberation Sans, Arial, sans-serif" >O</text>
<text x="1245.3" y="910.5" font-size="10.4" text-anchor="middle" font-weight="normal" fill="#000" font-family="Liberation Sans, Arial, sans-serif" >N</text>
<text x="1245.3" y="1151.5" font-size="10.4" text-anchor="middle" font-weight="normal" fill="#000" font-family="Liberation Sans, Arial, sans-serif" >N</text>
<text x="1265.3" y="910.5" font-size="10.4" text-anchor="middle" font-weight="normal" fill="#000" font-family="Liberation Sans, Arial, sans-serif" >D</text>
<text x="1265.3" y="1151.5" font-size="10.4" text-anchor="middle" font-weight="normal" fill="#000" font-family="Liberation Sans, Arial, sans-serif" >D</text>
<text x="1285.3" y="910.5" font-size="11" text-anchor="middle" font-weight="bold" fill="#000" font-family="Liberation Sans, Arial, sans-serif" >24</text>
<text x="1285.3" y="1151.5" font-size="11" text-anchor="middle" font-weight="bold" fill="#000" font-family="Liberation Sans, Arial, sans-serif" >24</text>
<text x="1310.3" y="910.5" font-size="10.4" text-anchor="middle" font-weight="normal" fill="#000" font-family="Liberation Sans, Arial, sans-serif" >F</text>
<text x="1310.3" y="1151.5" font-size="10.4" text-anchor="middle" font-weight="normal" fill="#000" font-family="Liberation Sans, Arial, sans-serif" >F</text>
<text x="1330.3" y="910.5" font-size="10.4" text-anchor="middle" font-weight="normal" fill="#000" font-family="Liberation Sans, Arial, sans-serif" >M</text>
<text x="1330.3" y="1151.5" font-size="10.4" text-anchor="middle" font-weight="normal" fill="#000" font-family="Liberation Sans, Arial, sans-serif" >M</text>
<text x="1350.3" y="910.5" font-size="10.4" text-anchor="middle" font-weight="normal" fill="#000" font-family="Liberation Sans, Arial, sans-serif" >A</text>
<text x="1350.3" y="1151.5" font-size="10.4" text-anchor="middle" font-weight="normal" fill="#000" font-family="Liberation Sans, Arial, sans-serif" >A</text>
<text x="1375.3" y="910.5" font-size="10.4" text-anchor="middle" font-weight="normal" fill="#000" font-family="Liberation Sans, Arial, sans-serif" >M</text>
<text x="1375.3" y="1151.5" font-size="10.4" text-anchor="middle" font-weight="normal" fill="#000" font-family="Liberation Sans, Arial, sans-serif" >M</text>
<text x="1395.3" y="910.5" font-size="10.4" text-anchor="middle" font-weight="normal" fill="#000" font-family="Liberation Sans, Arial, sans-serif" >J</text>
<text x="1395.3" y="1151.5" font-size="10.4" text-anchor="middle" font-weight="normal" fill="#000" font-family="Liberation Sans, Arial, sans-serif" >J</text>
<text x="1415.3" y="910.5" font-size="10.4" text-anchor="middle" font-weight="normal" fill="#000" font-family="Liberation Sans, Arial, sans-serif" >J</text>
<text x="1415.3" y="1151.5" font-size="10.4" text-anchor="middle" font-weight="normal" fill="#000" font-family="Liberation Sans, Arial, sans-serif" >J</text>
<text x="1440.3" y="910.5" font-size="10.4" text-anchor="middle" font-weight="normal" fill="#000" font-family="Liberation Sans, Arial, sans-serif" >A</text>
<text x="1440.3" y="1151.5" font-size="10.4" text-anchor="middle" font-weight="normal" fill="#000" font-family="Liberation Sans, Arial, sans-serif" >A</text>
<text x="1460.3" y="910.5" font-size="10.4" text-anchor="middle" font-weight="normal" fill="#000" font-family="Liberation Sans, Arial, sans-serif" >S</text>
<text x="1460.3" y="1151.5" font-size="10.4" text-anchor="middle" font-weight="normal" fill="#000" font-family="Liberation Sans, Arial, sans-serif" >S</text>
<text x="1485.3" y="910.5" font-size="10.4" text-anchor="middle" font-weight="normal" fill="#000" font-family="Liberation Sans, Arial, sans-serif" >O</text>
<text x="1485.3" y="1151.5" font-size="10.4" text-anchor="middle" font-weight="normal" fill="#000" font-family="Liberation Sans, Arial, sans-serif" >O</text>
<text x="1505.3" y="910.5" font-size="10.4" text-anchor="middle" font-weight="normal" fill="#000" font-family="Liberation Sans, Arial, sans-serif" >N</text>
<text x="1505.3" y="1151.5" font-size="10.4" text-anchor="middle" font-weight="normal" fill="#000" font-family="Liberation Sans, Arial, sans-serif" >N</text>
</g>
<g shape-rendering="auto">
<text x="47.5" y="13.5" font-size="14" font-weight="bold" font-family="Liberation Sans, Arial, sans-serif" textLength="32.5" lengthAdjust="spacingAndGlyphs">$SPX</text>
<text x="84.7" y="13.5" font-size="10.67" font-family="Liberation Sans, Arial, sans-serif" textLength="122.4">S&amp;P 500 Large Cap Index</text>
<text x="212.6" y="13.5" font-size="9.3" font-family="Liberation Sans, Arial, sans-serif" textLength="23.3">INDX</text>
<text x="47.8" y="26" font-size="10.67" font-family="Liberation Sans, Arial, sans-serif" textLength="59">19-Nov-2024</text>
<text x="1431.7" y="12.6" font-size="9.6" fill="#3a3a3a" font-family="DejaVu Sans, Verdana, sans-serif" textLength="89.6" lengthAdjust="spacingAndGlyphs">© StockCharts.com</text>
<text x="1032.5" y="26" font-size="11.2" font-weight="bold" font-family="Liberation Sans, Arial, sans-serif" textLength="28.9" lengthAdjust="spacingAndGlyphs">Open</text>
<text x="1065" y="26" font-size="10.67" font-weight="normal" font-family="Liberation Sans, Arial, sans-serif" textLength="37.9" lengthAdjust="spacingAndGlyphs">5874.17</text>
<text x="1109.4" y="26" font-size="11.2" font-weight="bold" font-family="Liberation Sans, Arial, sans-serif" textLength="24.2" lengthAdjust="spacingAndGlyphs">High</text>
<text x="1137.2" y="26" font-size="10.67" font-weight="normal" font-family="Liberation Sans, Arial, sans-serif" textLength="37.9" lengthAdjust="spacingAndGlyphs">5923.51</text>
<text x="1181.6" y="26" font-size="11.2" font-weight="bold" font-family="Liberation Sans, Arial, sans-serif" textLength="23.4" lengthAdjust="spacingAndGlyphs">Low</text>
<text x="1208.7" y="26" font-size="10.67" font-weight="normal" font-family="Liberation Sans, Arial, sans-serif" textLength="38.6" lengthAdjust="spacingAndGlyphs">5855.29</text>
<text x="1253.8" y="26" font-size="11.2" font-weight="bold" font-family="Liberation Sans, Arial, sans-serif" textLength="31.4" lengthAdjust="spacingAndGlyphs">Close</text>
<text x="1288.8" y="26" font-size="10.67" font-weight="normal" font-family="Liberation Sans, Arial, sans-serif" textLength="38.6" lengthAdjust="spacingAndGlyphs">5916.98</text>
<text x="1334.1" y="26" font-size="11.2" font-weight="bold" font-family="Liberation Sans, Arial, sans-serif" textLength="41.5" lengthAdjust="spacingAndGlyphs">Volume</text>
<text x="1379.8" y="26" font-size="10.67" font-weight="normal" font-family="Liberation Sans, Arial, sans-serif" textLength="21.0" lengthAdjust="spacingAndGlyphs">5.5B</text>
<text x="1407.9" y="26" font-size="11.2" font-weight="bold" font-family="Liberation Sans, Arial, sans-serif" textLength="21.1" lengthAdjust="spacingAndGlyphs">Chg</text>
<text x="1433" y="26" font-size="10.67" font-weight="normal" font-family="Liberation Sans, Arial, sans-serif" textLength="78.3" lengthAdjust="spacingAndGlyphs">+46.36 (+0.79%)</text>
<polygon points="1514,24.8 1521.3,24.8 1517.6,20.4" fill="#2d6b2d"/>
<rect x="48" y="29" width="94" height="13" fill="#fff"/>
<polygon points="50.2,38.8 51,35 52.5,32.5 54,30.4 55,34.5 56.5,36.5 58.4,32.3 58.4,38.8" fill="#7a9a7c"/>
<polyline points="50.4,38.6 51,35 52.5,32.5 54,30.6 55,34.5 56.5,36.5 58.2,32.5 58.2,38.6" fill="none" stroke="#000" stroke-width="1.1"/>
<text x="61.8" y="38.8" font-size="9.4" font-family="DejaVu Sans, Verdana, sans-serif" stroke="#000" stroke-width="0.25" textLength="80">RSI(14) 63.75</text>
<rect x="48" y="255.5" width="148" height="12.0" fill="#fff"/>
<rect x="48" y="267.5" width="83" height="11.0" fill="#fff"/>
<rect x="48" y="278.5" width="88" height="11.0" fill="#fff"/>
<rect x="48" y="289.5" width="109" height="9.0" fill="#fff"/>
<path d="M51.5 257V264.8M57.5 257V264.8" stroke="#000" fill="none" stroke-width="1"/>
<rect x="50.5" y="258.5" width="2" height="5" fill="#fff" stroke="#000" stroke-width="1"/>
<rect x="53.5" y="259" width="2.4" height="4.5" fill="#000"/>
<rect x="56.5" y="258.5" width="2" height="5" fill="#fff" stroke="#000" stroke-width="1"/>
<text x="61.6" y="264.8" font-size="9.4" font-family="DejaVu Sans, Verdana, sans-serif" stroke="#000" stroke-width="0.25" textLength="134.5">$SPX (Weekly) 5916.98</text>
<path d="M50 272H58.7" stroke="#00008c" stroke-width="2"/>
<text x="60.7" y="276" font-size="9.1" fill="#00008c" stroke="#00008c" stroke-width="0.2" font-family="DejaVu Sans, Verdana, sans-serif" textLength="69.6" lengthAdjust="spacingAndGlyphs">MA(50) 5332.73</text>
<path d="M50 283H58.7" stroke="#cc0033" stroke-width="2"/>
<text x="60.7" y="286.9" font-size="9.1" fill="#cc0033" stroke="#cc0033" stroke-width="0.2" font-family="DejaVu Sans, Verdana, sans-serif" textLength="74.5" lengthAdjust="spacingAndGlyphs">MA(200) 4497.80</text>
<path d="M50.5 296.7V293.3M52.5 296.7V291.5M54.3 296.7V289.3M56.2 296.7V290.5M58 296.7V291.5" stroke="#3c3c3c" stroke-width="1.6"/>
<text x="61" y="296.7" font-size="9.1" fill="#3c3c3c" font-family="DejaVu Sans, Verdana, sans-serif" textLength="96" lengthAdjust="spacingAndGlyphs">Volume 5,507,651,072</text>
<rect x="48" y="915.5" width="226" height="12.5" fill="#fff"/>
<path d="M50.3 922H58.8" stroke="#000" stroke-width="2"/>
<text x="62" y="925" font-size="9.4" font-family="DejaVu Sans, Verdana, sans-serif" textLength="230"><tspan stroke="#000" stroke-width="0.25">MACD(12,26,9) 171.319</tspan><tspan fill="#e00" stroke="#e00" stroke-width="0.2">, 166.194</tspan><tspan fill="#3a8fc4" stroke="#3a8fc4" stroke-width="0.2">, 5.125</tspan></text>
<polygon points="1519.3,111.5 1522.5,106.5 1552.5,106.5 1552.5,116.5 1522.5,116.5" fill="#fff" stroke="#000" stroke-width="1.2"/>
<text x="1524.5" y="115.2" font-size="10.4" font-weight="normal" fill="#000" font-family="Liberation Sans, Arial, sans-serif">63.75</text>
<polygon points="1519.3,272.0 1522.5,266.5 1564.5,266.5 1564.5,277.5 1522.5,277.5" fill="#fff" stroke="#000" stroke-width="1.2"/>
<text x="1524.5" y="275.7" font-size="10.5" font-weight="bold" fill="#000" font-family="Liberation Sans, Arial, sans-serif">5916.98</text>
<polygon points="1519.3,336.5 1522.5,331.5 1564.5,331.5 1564.5,341.5 1522.5,341.5" fill="#fff" stroke="#1c1c8c" stroke-width="1.2"/>
<text x="1524.5" y="340.2" font-size="10.4" font-weight="normal" fill="#000" font-family="Liberation Sans, Arial, sans-serif">5332.73</text>
<polygon points="1519.3,443.5 1522.5,438.5 1564.5,438.5 1564.5,448.5 1522.5,448.5" fill="#fff" stroke="#cc0033" stroke-width="1.2"/>
<text x="1524.5" y="447.2" font-size="10.4" font-weight="normal" fill="#000" font-family="Liberation Sans, Arial, sans-serif">4497.80</text>
<polygon points="1519.3,857.5 1522.5,852.5 1564.5,852.5 1564.5,862.5 1522.5,862.5" fill="#fff" stroke="#000" stroke-width="1.2"/>
<text x="1524.5" y="861.2" font-size="10.4" font-weight="normal" fill="#000" font-family="Liberation Sans, Arial, sans-serif">5507651</text>
<polygon points="1519.3,943.5 1522.5,938.5 1564.5,938.5 1564.5,948.5 1522.5,948.5" fill="#fff" stroke="#ee1111" stroke-width="1.2"/>
<text x="1524.5" y="947.2" font-size="10.4" font-weight="normal" fill="#000" font-family="Liberation Sans, Arial, sans-serif">166.194</text>
<polygon points="1519.3,940.5 1522.5,935.5 1564.5,935.5 1564.5,945.5 1522.5,945.5" fill="#fff" stroke="#000" stroke-width="1.2"/>
<text x="1524.5" y="944.2" font-size="10.4" font-weight="normal" fill="#000" font-family="Liberation Sans, Arial, sans-serif">171.319</text>
<polygon points="1519.3,1036.5 1522.5,1031.5 1552.5,1031.5 1552.5,1041.5 1522.5,1041.5" fill="#fff" stroke="#3a6ea5" stroke-width="1.2"/>
<text x="1524.5" y="1040.2" font-size="10.4" font-weight="normal" fill="#000" font-family="Liberation Sans, Arial, sans-serif">5.125</text>
</g>
</svg></body></html>
